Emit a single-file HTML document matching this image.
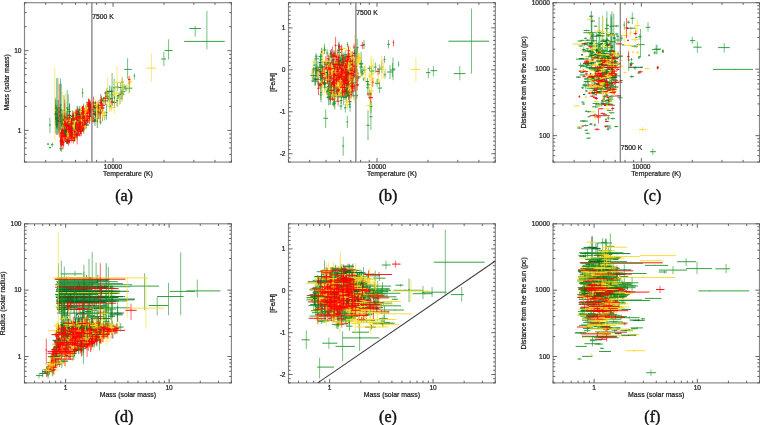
<!DOCTYPE html>
<html><head><meta charset="utf-8"><style>
html,body{margin:0;padding:0;background:#fff;}
svg{display:block;}
text{font-family:"Liberation Sans", sans-serif;fill:#1a1a1a;stroke:#1a1a1a;stroke-width:0.22px;}
text.cap{font-family:"Liberation Serif", serif;fill:#111;stroke:#111;stroke-width:0.45px;}
.g{stroke:#1f962c}
.G{stroke:#00681e}
.y{stroke:#ffd820}
.r{stroke:#ff0000}
.h{stroke-width:0.9px}
.v{stroke-width:0.6px}
</style></head><body>
<svg width="760" height="425" viewBox="0 0 760 425">
<defs><clipPath id="ca"><rect x="24.5" y="2.7" width="206.90" height="159.40"/></clipPath><clipPath id="cb"><rect x="288.5" y="2.7" width="206.80" height="159.40"/></clipPath><clipPath id="cc"><rect x="553.0" y="2.7" width="206.50" height="159.40"/></clipPath><clipPath id="cd"><rect x="24.5" y="223.8" width="206.90" height="159.10"/></clipPath><clipPath id="ce"><rect x="288.5" y="223.8" width="206.80" height="159.10"/></clipPath><clipPath id="cf"><rect x="553.0" y="223.8" width="206.50" height="159.10"/></clipPath></defs><g clip-path="url(#ca)" fill="none"><path class="g h" d="M81.5 111.2h2.7M79.6 129.1h5.6M80.6 116.2h2.4M74.2 128.9h2.1M65.6 120.8h3.0M76.0 125.9h2.6M101.1 108.2h2.7M118.8 87.5h3.6M89.2 111.6h5.2M110.6 91.2h2.1M91.5 118.2h2.9M76.2 134.1h1.7M83.2 116.7h1.6M87.9 104.8h1.9M83.8 112.1h1.2M85.3 105.8h3.1M76.5 117.4h2.0M81.4 127.5h2.3M90.7 105.7h5.3M127.2 88.2h5.1M76.0 111.7h2.1M102.7 98.7h1.7M84.7 120.2h1.2M103.1 115.5h3.5M82.0 129.8h2.5M121.0 82.2h2.8M87.6 105.2h2.8M72.2 115.1h3.5M81.5 126.5h2.5M62.8 120.4h3.3M91.3 119.0h2.7M99.1 122.1h2.5M63.5 112.0h2.4M63.5 126.3h2.4M67.0 109.6h2.4M55.8 122.8h2.4M66.2 119.3h2.4M55.0 118.9h2.4M68.2 114.9h2.4"/><path class="g v" d="M82.9 106.0v8.7M82.0 126.8v4.4M81.7 114.5v3.7M75.2 125.9v6.9M67.0 118.6v4.5M77.5 123.7v4.2M102.5 97.7v23.5M120.7 82.9v10.4M91.8 105.7v12.8M111.6 86.9v7.3M93.0 115.3v6.5M77.0 133.2v2.1M84.0 115.2v2.9M88.8 102.5v4.0M84.5 109.8v4.0M86.7 101.6v7.5M77.4 114.3v5.6M82.7 125.2v4.0M93.2 101.8v8.3M129.4 82.4v10.4M77.2 105.8v10.6M103.6 97.0v3.4M85.3 113.8v10.8M104.8 111.3v9.0M83.3 127.6v4.6M122.2 77.6v8.8M88.9 99.2v12.8M73.8 112.6v5.2M82.9 122.9v8.1M64.7 115.0v11.0M92.7 116.1v6.4M100.5 119.9v4.9M64.7 103.0v14.4M64.7 116.4v15.9M68.2 94.4v24.3M57.0 113.3v15.1M67.4 106.9v19.8M56.2 106.1v20.5M69.4 104.0v17.5"/><path class="G h" d="M76.6 116.3h0.6M79.1 129.7h2.0M59.7 142.0h2.5M116.9 95.8h3.4M61.5 120.9h2.2M62.5 126.1h3.0M77.8 124.8h0.8M83.5 117.2h1.3M64.9 120.3h1.9M73.7 138.1h1.2M64.5 129.9h2.2M74.1 118.4h3.1M71.6 122.5h1.6M58.0 121.6h2.4M62.9 120.9h2.4M63.1 126.7h2.4M68.4 111.7h2.4M55.4 124.7h2.4"/><path class="G v" d="M77.0 113.9v5.5M80.2 125.8v7.1M60.8 139.0v6.2M118.7 93.3v4.8M62.6 119.9v2.1M64.1 123.3v5.3M78.2 123.4v3.1M84.1 115.1v4.5M65.9 117.8v4.5M74.3 134.5v7.0M65.5 127.9v3.8M75.8 115.1v6.8M72.3 119.5v5.4M59.2 106.9v23.4M64.1 109.5v18.2M64.3 113.4v21.1M69.6 103.2v13.6M56.6 118.1v10.7"/><path class="y h" d="M75.5 130.8h2.7M92.8 102.7h5.0M86.9 107.4h5.4M73.4 138.8h2.3M109.3 107.8h4.3M63.4 125.7h1.3M121.3 83.1h1.6M62.4 124.4h1.1M64.5 132.6h4.8M74.6 130.7h1.1M129.2 81.7h2.9M74.6 121.1h3.7M94.2 103.8h2.3M101.4 101.9h2.9M58.7 130.8h2.4"/><path class="y v" d="M76.9 129.0v3.5M95.4 99.1v6.4M89.8 99.6v17.3M74.6 135.7v5.5M111.4 104.2v6.3M64.1 123.7v4.5M122.0 75.6v13.7M63.0 123.4v2.0M67.1 130.5v4.4M75.2 120.8v16.8M130.6 79.1v5.3M76.3 118.6v5.0M95.5 100.9v6.4M103.0 99.9v4.2M59.9 120.4v16.6"/><path class="r h" d="M63.6 113.0h2.4M59.2 116.2h2.4M60.4 121.9h2.4"/><path class="r v" d="M64.8 99.4v21.7M60.4 108.9v11.7M61.6 113.4v13.5"/><path class="g h" d="M54.2 113.7h2.4M59.5 115.3h2.4M55.6 115.3h2.4M83.2 107.2h0.9M110.6 101.3h3.1M98.4 104.9h3.3M69.4 126.6h2.0M64.3 128.1h1.1M61.2 122.9h2.4M93.4 105.4h2.1M99.9 105.4h2.0M71.8 137.5h2.4M85.0 120.4h4.1M71.0 116.5h2.6M76.5 110.9h1.6M65.7 141.6h2.0M105.5 112.6h1.9"/><path class="g v" d="M55.4 97.8v25.4M60.7 104.6v17.2M56.8 105.1v16.3M83.6 103.6v7.9M112.3 97.2v8.9M100.2 99.9v9.9M70.3 123.6v6.6M65.0 125.9v4.2M62.2 120.8v3.8M94.4 103.1v4.6M101.0 99.4v12.5M73.2 136.9v1.5M86.9 118.8v3.6M72.3 110.1v10.9M77.4 106.5v9.5M66.7 138.8v5.2M106.5 103.9v15.7"/><path class="G h" d="M54.4 114.2h2.4M56.5 120.4h2.4M70.8 127.5h3.1M64.4 118.4h3.2M64.4 129.6h3.3M80.9 125.4h3.0M71.7 128.6h5.8M65.9 120.0h2.5M81.6 118.7h2.5M89.5 115.5h1.2M67.1 123.5h4.8M69.3 135.7h1.8M108.2 99.0h2.5M61.4 121.3h2.4"/><path class="G v" d="M55.6 104.6v15.4M57.7 108.7v18.8M72.4 126.6v1.9M66.1 113.4v10.3M66.3 124.3v9.6M82.6 119.3v12.5M74.4 126.9v3.3M67.0 117.6v4.3M82.7 116.8v4.0M90.1 114.3v2.2M69.2 117.1v13.8M70.2 132.9v5.7M109.4 96.1v6.1M62.6 118.8v4.8"/><path class="y h" d="M115.8 102.9h1.8M73.2 119.9h1.8M90.5 110.7h3.2M63.7 125.0h3.3M81.4 111.6h2.4M75.8 114.9h3.4M82.3 113.2h2.6M76.8 117.5h2.1M68.7 127.7h2.1M105.3 92.2h3.0M126.1 87.8h2.0M110.5 104.8h1.5M61.4 120.4h1.4M64.2 127.4h2.3"/><path class="y v" d="M116.8 99.4v6.6M74.1 116.1v7.0M92.2 109.7v1.7M65.5 118.1v14.7M82.6 108.6v6.4M77.4 112.8v4.0M83.4 110.4v6.2M77.9 114.9v5.5M69.7 124.7v5.4M106.8 87.3v9.8M127.1 84.8v6.1M111.3 97.8v13.7M62.1 117.5v5.4M65.2 125.0v4.8"/><path class="r h" d="M64.9 118.9h2.4M73.2 137.7h2.7M97.4 109.1h2.8M70.7 135.4h2.1M75.2 112.9h1.6M83.8 120.2h2.9M87.5 118.0h1.6M74.6 119.2h3.1M70.6 123.4h2.0M98.6 113.4h2.5M75.6 135.6h1.9M76.9 119.1h1.5M89.9 108.7h2.3M60.0 132.9h3.2M67.3 130.5h3.7M88.1 110.7h1.6M85.9 106.1h2.1M81.5 122.8h1.7M60.5 143.0h1.9M79.8 114.8h1.5M83.8 119.2h1.9M77.2 118.0h3.3M68.9 141.6h1.1M92.3 120.2h3.1M99.9 100.3h3.1M76.6 126.7h4.6M89.4 112.5h1.2M92.1 102.8h3.0M84.9 110.7h1.6M71.8 132.5h3.2M78.1 132.9h3.6"/><path class="r v" d="M66.1 110.7v13.0M74.6 135.7v4.4M98.8 106.3v6.2M71.8 132.6v6.3M75.9 110.1v5.3M85.2 116.6v6.7M88.2 114.5v7.0M76.2 116.0v5.7M71.6 118.7v10.0M100.1 106.3v14.3M76.7 133.5v3.7M77.7 117.0v4.3M91.0 106.9v3.9M61.6 131.3v2.9M69.1 127.9v5.3M88.8 108.5v4.8M87.0 104.3v3.1M82.2 120.8v4.6M61.5 140.0v6.1M80.6 111.8v5.1M84.8 116.2v6.6M78.7 115.4v5.4M69.5 139.7v3.7M94.1 117.7v4.9M101.3 98.0v5.3M78.7 119.1v16.6M90.2 110.7v3.3M93.5 96.5v11.6M85.6 107.4v5.7M73.3 126.7v13.1M79.9 128.0v8.7"/><path class="g h" d="M85.1 113.1h2.9M112.9 87.8h2.1M92.1 114.2h3.7M119.9 94.3h4.0M104.0 93.1h5.1M108.7 106.1h2.5M65.5 119.0h4.8M71.2 121.6h2.6M94.5 107.4h1.6M71.8 118.3h3.0M184.1 41.4h40.6M189.3 28.5h11.6M164.7 50.5h7.8M161.3 59.0h4.7M124.1 69.4h7.7M133.6 75.9h1.6M111.0 91.2h2.5M122.0 87.0h4.0M124.5 88.8h3.0M121.0 91.8h4.0M117.0 98.2h6.0M99.5 100.0h2.0M81.8 92.8h1.6M55.5 110.0h2.5M56.5 108.0h3.0M59.5 105.0h2.0M66.0 108.0h2.5M63.0 113.0h2.0M49.0 125.0h2.0M47.0 144.1h2.2M48.8 147.6h2.2M51.0 144.7h2.4M59.5 148.8h4.0M89.1 111.4h3.0M115.0 87.1h4.2"/><path class="g v" d="M86.4 111.1v3.9M114.1 78.5v20.4M94.3 112.1v4.0M121.9 88.5v12.1M106.9 88.4v9.1M109.9 103.0v5.6M67.9 113.2v10.5M72.3 119.5v4.7M95.3 101.4v10.4M73.1 115.4v5.5M206.9 10.9v38.3M195.2 26.0v10.5M168.6 39.3v20.2M163.9 51.8v14.2M127.6 58.2v20.6M134.4 73.5v5.9M112.1 73.0v27.0M124.1 84.0v6.5M125.9 85.0v7.0M122.9 88.0v7.5M120.0 92.0v12.0M100.6 94.0v13.0M82.6 88.1v9.4M56.7 78.1v56.9M57.9 78.1v56.9M60.5 78.7v51.3M67.2 89.9v35.1M64.0 95.2v34.8M49.9 117.6v15.4M48.1 143.0v2.2M49.9 146.5v2.2M52.2 142.5v4.5M61.6 145.3v6.5M90.5 110.3v2.3M117.5 82.3v8.5"/><path class="G h" d="M71.8 133.1h2.9M81.3 113.8h3.7M96.4 118.6h2.1M60.0 110.0h2.5M55.0 118.0h1.8M57.3 118.0h1.7"/><path class="G v" d="M73.2 131.7v2.4M83.3 110.7v6.0M97.3 109.6v18.4M61.1 83.4v51.6M55.8 100.0v33.5M58.1 100.0v33.5"/><path class="y h" d="M97.0 108.7h2.5M85.7 113.8h3.3M100.9 109.0h2.0M76.5 113.9h2.4M78.5 114.7h2.7M65.0 134.5h4.2M121.6 85.3h2.6M82.6 113.0h2.4M104.5 97.7h2.9M117.9 98.2h3.0M73.5 122.6h1.9M72.7 126.5h1.5M104.1 97.9h3.1M146.5 68.2h9.4M113.0 82.4h8.2M107.0 92.0h1.2M53.5 110.0h2.5M61.5 112.0h2.5M64.0 112.0h2.5M73.0 111.9h4.6M69.4 121.9h3.8"/><path class="y v" d="M98.1 105.5v6.3M87.2 109.1v8.8M102.0 107.1v3.9M77.7 110.3v6.8M79.8 112.2v5.0M67.1 132.0v5.4M123.1 81.7v7.3M83.6 111.9v2.1M105.8 92.2v10.2M119.3 91.0v14.6M74.4 118.5v8.9M73.6 124.1v5.0M105.6 94.3v7.7M151.4 53.5v28.3M117.0 65.9v29.4M107.6 77.6v29.4M54.8 67.3v72.7M62.8 91.6v38.4M65.2 93.4v36.6M75.6 110.2v3.7M71.3 120.9v1.9"/><path class="r h" d="M60.0 133.7h3.5M87.8 116.4h2.2M65.7 134.2h4.4M67.3 138.4h1.8M88.3 116.6h3.5M83.6 127.9h2.1M91.3 109.2h2.2M89.2 104.6h1.6M62.6 124.2h1.8M63.1 137.7h1.8M94.8 115.0h1.6M85.5 114.8h3.3M71.5 136.6h2.1M66.7 123.1h0.8"/><path class="r v" d="M61.6 130.6v7.2M88.8 115.1v2.6M67.9 129.4v10.5M68.4 135.9v5.8M89.8 114.2v5.3M84.6 126.4v3.5M92.5 106.8v5.4M90.0 101.9v6.3M63.5 115.2v19.2M64.2 135.2v5.0M95.5 111.4v8.0M87.0 110.1v8.1M72.6 133.0v6.5M67.1 118.4v10.4"/><path class="g h" d="M85.4 110.6h2.4M116.0 100.6h2.2M78.2 111.6h1.2M73.9 122.2h1.7M67.3 123.6h2.2M79.7 119.5h2.1M71.1 118.6h2.0M77.5 111.3h5.7M83.1 129.5h1.3M64.0 118.3h2.8M84.5 113.7h2.8M64.6 135.6h2.4M94.2 119.9h1.8M73.2 136.2h2.6M59.8 119.8h5.8M76.5 113.4h3.2M74.9 120.8h2.2M79.4 130.5h1.5M69.4 138.2h2.4"/><path class="g v" d="M86.4 106.6v6.8M117.2 95.2v11.6M78.9 108.9v6.3M74.8 115.6v13.5M68.4 119.7v7.2M80.7 116.7v5.4M72.1 115.2v7.6M80.3 108.3v5.8M83.7 125.6v8.0M65.4 116.0v4.6M85.9 110.4v5.9M65.8 132.5v6.3M95.0 117.7v4.1M74.5 134.3v3.6M62.4 113.8v12.0M78.2 111.1v5.3M76.0 117.7v6.5M80.3 128.4v4.5M70.5 135.8v4.2"/><path class="G h" d="M89.5 110.4h2.7M82.4 123.1h2.6M61.1 132.1h2.0M92.6 121.0h5.3M93.3 114.3h4.0M74.2 127.1h1.5M68.8 119.4h3.3M76.2 122.8h4.0M83.8 120.9h4.1"/><path class="G v" d="M91.0 103.7v12.5M83.9 121.6v3.1M62.1 129.3v4.8M95.0 116.5v9.3M95.5 111.0v7.2M74.9 123.9v5.8M70.3 117.1v5.2M78.4 117.7v11.6M86.0 116.3v9.4"/><path class="y h" d="M100.7 113.5h4.4M86.7 110.9h1.0M77.0 123.8h2.0M68.2 122.6h3.1M65.5 125.6h1.4M83.0 113.9h2.4M111.7 95.2h3.9M79.2 126.8h1.4M81.4 121.0h5.1M83.2 128.7h1.7M92.0 118.1h8.9M74.8 121.5h4.9M66.3 132.6h2.3M80.3 118.8h5.6M65.1 135.8h3.0M79.8 131.4h1.5M63.0 122.2h2.1"/><path class="y v" d="M102.8 107.5v10.7M87.3 109.6v2.6M77.9 117.3v12.1M69.6 120.8v3.5M66.2 122.2v7.0M84.2 108.4v11.6M113.5 92.3v5.1M80.0 124.5v4.0M84.3 118.5v5.4M84.2 123.4v9.3M96.5 113.3v10.5M77.0 118.5v5.4M67.5 132.1v1.2M82.9 114.4v9.5M66.8 134.1v3.4M80.5 128.6v5.6M64.1 119.9v4.4"/><path class="r h" d="M74.6 123.7h3.0M80.0 124.2h2.0M87.4 110.0h3.0M78.1 114.1h1.9M65.8 122.4h1.7M78.5 115.2h2.4M75.2 127.2h2.1M75.6 124.0h3.3M88.1 105.3h1.1M60.4 135.8h3.5M61.4 130.8h2.9M65.8 123.1h1.5M93.4 106.7h3.6M82.2 113.3h4.3M88.6 120.1h2.3M73.6 139.2h1.9M64.8 131.7h3.3M97.3 111.8h4.3M64.5 134.0h2.8M84.3 112.3h4.5M69.8 123.1h1.6M60.2 144.4h2.4M71.6 130.6h2.4M66.3 137.4h1.7M81.7 108.8h3.1M68.1 128.5h4.3M65.3 130.2h2.3M79.1 121.5h2.2M68.3 123.3h1.4M65.9 120.6h2.9M87.3 120.3h2.6"/><path class="r v" d="M76.2 122.0v3.1M81.1 121.1v6.6M89.1 107.3v5.7M79.2 110.5v7.3M66.8 119.8v5.1M79.8 112.9v4.9M76.2 120.9v11.6M77.2 122.2v3.8M88.7 102.6v5.7M62.4 133.4v4.9M62.8 127.8v5.3M66.6 118.8v8.6M95.0 104.4v5.1M84.2 111.6v3.1M89.6 115.8v8.2M74.5 137.4v3.5M66.5 128.8v6.1M99.1 107.4v8.4M65.8 128.7v10.9M86.6 108.5v8.6M70.6 120.8v4.3M61.3 142.5v4.0M72.7 127.2v7.8M67.3 135.6v3.0M83.5 106.5v4.2M70.2 123.2v10.6M66.7 127.7v5.4M80.0 115.7v11.0M68.9 119.3v8.1M67.2 116.5v9.1M88.4 118.0v5.1"/><path class="g h" d="M81.2 117.5h1.5M68.5 121.2h3.4M91.1 108.4h3.8M92.5 108.6h2.3M97.5 109.1h1.9M66.2 124.0h5.5M105.6 96.2h4.4M100.4 100.9h8.0M71.6 115.8h3.0M66.1 134.1h2.8M110.5 94.9h2.7M60.1 123.4h3.1M61.2 130.1h2.2M60.5 120.7h2.6M60.5 128.1h3.0"/><path class="g v" d="M82.0 115.4v5.0M70.3 116.2v10.8M93.2 104.7v6.6M93.6 106.1v5.5M98.5 104.0v9.5M68.7 120.7v6.0M107.9 91.3v10.0M104.0 96.7v9.7M73.0 112.8v6.4M67.6 130.8v7.1M111.8 91.7v5.8M61.6 120.9v4.5M62.4 126.6v7.9M62.0 110.4v20.4M62.0 126.2v3.9"/><path class="G h" d="M67.3 124.9h4.1M119.6 94.3h4.8M69.3 134.1h2.5M73.6 126.1h2.8M78.1 109.8h2.4M93.6 107.4h3.5M70.0 132.5h3.5M73.0 140.3h2.8M66.7 141.7h1.9"/><path class="G v" d="M69.2 118.4v13.4M122.2 90.5v6.7M70.6 131.7v4.3M75.0 122.0v7.2M79.3 106.3v6.7M95.4 101.6v12.7M71.6 130.5v4.3M74.2 139.3v1.9M67.6 138.8v5.4"/><path class="y h" d="M81.8 116.6h2.0M76.1 126.1h3.9M84.1 117.0h3.3M71.1 128.7h2.1M81.6 116.8h2.2M112.9 92.8h5.5M73.6 112.5h4.6M66.4 136.5h2.7M87.2 114.8h1.6M86.8 118.9h3.7M60.8 128.0h2.5M71.8 122.6h3.6M79.5 118.9h1.8M76.6 117.3h3.8M68.3 136.3h2.2M101.9 115.9h4.0"/><path class="y v" d="M82.7 112.5v7.1M78.3 123.9v4.0M85.8 114.5v5.0M72.1 123.4v10.1M82.7 114.5v4.2M115.4 86.2v11.8M75.9 110.4v4.2M67.7 131.4v10.4M88.0 108.5v14.0M88.9 117.5v3.0M61.9 126.3v3.6M73.5 120.3v4.4M80.4 116.8v4.6M78.7 113.9v7.6M69.5 133.5v5.3M104.2 111.2v8.1"/><path class="r h" d="M91.9 120.4h1.7M71.0 130.4h1.9M61.4 132.0h1.2M62.3 141.6h2.0M68.6 133.6h1.2M110.2 102.2h4.1M62.5 134.9h1.8M61.3 135.8h3.0M71.8 115.9h2.3M85.9 116.1h1.3M81.0 110.7h2.9M70.1 129.1h1.3M89.1 111.8h2.0M60.4 138.5h2.2M79.8 129.7h2.0M70.2 131.6h1.4M67.7 140.5h3.4M68.0 115.6h3.1M75.6 120.1h1.9M72.9 122.4h2.6M82.6 122.3h1.5M62.0 141.0h2.3M81.3 108.0h2.3M72.6 137.4h1.1M75.0 127.4h3.3M66.6 126.7h3.6M82.4 117.1h2.8M72.2 123.4h1.8M75.5 135.4h2.9M88.2 105.4h2.2M86.5 104.9h2.5M79.0 128.0h1.1M75.7 115.6h2.1M71.6 133.8h1.9M60.1 139.9h5.6"/><path class="r v" d="M92.9 118.1v4.1M72.0 122.3v14.3M62.1 128.5v7.9M63.3 137.5v8.5M69.3 128.3v10.1M112.0 99.3v5.3M63.5 132.6v4.2M62.6 131.2v8.9M73.0 111.4v9.0M86.5 110.5v10.3M82.5 106.5v8.0M70.7 125.2v7.2M90.3 107.0v8.7M61.7 135.3v7.0M80.7 126.3v7.6M70.8 127.5v9.1M69.4 139.0v3.5M69.4 114.3v2.4M76.6 118.5v3.0M74.2 120.0v4.9M83.4 118.8v7.2M63.1 134.5v13.8M82.4 106.2v3.7M73.2 134.5v5.9M76.7 126.0v3.1M68.2 121.0v10.9M83.6 116.0v2.2M73.3 121.4v3.9M77.0 132.0v7.5M89.3 99.4v10.7M87.6 103.3v3.6M79.5 124.5v6.5M76.9 110.9v8.6M72.5 132.0v4.1M62.9 137.5v5.0"/><path class="g h" d="M97.6 107.5h2.7M63.5 128.4h1.8M75.6 114.4h3.2M98.6 105.3h3.9M93.6 111.7h2.7M71.4 120.7h1.8M80.4 125.8h1.2M71.6 129.3h3.1M81.9 128.6h2.1M70.7 132.9h1.2M96.6 107.7h3.6M94.7 106.3h2.1M69.0 126.6h3.3"/><path class="g v" d="M99.0 103.6v7.0M64.5 124.9v5.9M77.3 111.1v7.4M100.4 102.8v5.7M94.9 107.8v7.0M72.4 118.7v4.3M81.1 124.3v3.2M73.4 126.8v4.5M83.1 126.2v5.1M71.3 131.3v3.1M98.6 104.7v6.0M95.8 103.3v7.0M70.7 124.4v3.8"/><path class="G h" d="M69.6 124.1h1.5M75.1 127.0h1.8M64.4 136.0h1.7M113.2 102.6h2.8M81.8 112.3h2.8M63.4 133.7h2.7M72.6 132.9h2.6"/><path class="G v" d="M70.4 122.8v2.9M76.1 124.4v4.8M65.2 133.5v4.3M114.5 96.4v11.6M83.3 110.1v4.0M64.7 130.1v8.0M73.7 130.3v5.3"/><path class="y h" d="M59.4 137.8h8.2M69.5 133.8h1.8M91.3 104.7h5.5M71.5 139.5h3.1M76.7 121.8h1.4M85.4 110.6h2.0M65.4 121.3h2.6M79.1 129.4h1.5M77.6 123.8h1.7M82.4 123.3h2.4M79.5 115.5h1.6M68.7 137.0h5.5M72.2 131.9h2.3M98.6 104.5h2.8M85.0 114.8h2.8M80.5 128.8h1.3M112.8 107.4h3.1M79.3 118.7h4.0M74.0 136.4h3.1M98.0 117.0h2.1M81.6 114.6h3.9M64.7 124.5h2.3M95.9 111.0h1.5"/><path class="y v" d="M63.0 133.8v8.5M70.3 132.9v1.5M94.4 102.9v4.2M72.8 137.0v4.6M77.5 117.9v7.0M86.3 107.5v5.5M66.7 118.6v4.8M79.7 127.9v2.9M78.6 117.5v11.7M83.6 121.8v3.1M80.3 113.0v4.9M71.3 135.5v2.6M73.2 125.8v12.6M100.1 97.9v14.6M86.6 111.3v6.9M81.2 125.8v6.0M114.4 98.7v15.1M81.3 109.3v16.7M75.6 131.8v9.4M99.2 111.9v11.8M83.6 107.2v15.9M66.0 123.0v2.7M96.7 106.5v10.2"/><path class="r h" d="M76.1 119.3h1.8M88.8 107.1h4.0M100.6 103.5h1.8M78.9 125.4h1.2M81.1 127.1h1.8M64.8 125.8h3.8M92.3 113.6h2.7M78.3 133.7h2.6M82.4 125.7h2.8M71.1 136.9h1.8M92.3 106.3h2.9M82.9 112.7h2.0M85.0 113.2h2.2M65.5 128.0h1.9M84.6 114.8h1.8M73.5 131.7h2.2M76.5 135.9h1.5M84.6 122.2h1.4M73.1 122.0h2.8M88.7 113.8h1.8M80.8 126.7h3.6M87.9 118.5h1.9M66.2 125.6h2.2M67.9 140.4h1.6M70.4 122.9h3.3M76.4 125.9h2.6M63.0 142.5h1.5M64.9 129.5h3.3M67.9 131.7h1.6M85.2 112.4h1.2M86.3 120.5h2.5M80.0 130.2h3.0M77.7 127.6h4.1"/><path class="r v" d="M77.0 116.5v5.9M90.6 104.7v4.5M101.5 95.7v13.6M79.5 123.5v3.7M82.0 125.7v3.2M66.5 122.9v5.5M93.7 107.3v14.5M79.7 131.5v3.8M83.7 123.3v5.2M72.0 133.6v7.3M93.6 102.8v6.3M83.8 108.5v8.4M86.1 110.0v6.7M66.6 124.7v6.3M85.6 113.6v2.9M74.6 126.3v11.7M77.2 127.3v17.1M85.3 121.5v1.3M74.3 119.7v4.7M89.5 107.7v12.5M82.8 122.4v9.0M89.0 115.7v6.0M67.3 124.3v3.0M68.7 136.3v8.3M71.9 120.2v5.4M77.7 124.1v3.3M63.7 139.6v6.7M66.7 126.4v6.7M68.6 128.5v6.1M85.9 110.0v5.2M87.5 117.5v5.6M81.3 125.6v10.5M79.8 124.4v6.6"/><path class="g h" d="M109.2 98.5h3.9M65.3 134.4h2.9M99.8 110.5h1.3M97.1 111.8h3.3M74.5 118.6h1.9M76.5 133.5h1.5"/><path class="g v" d="M110.9 96.2v4.4M66.9 131.3v6.7M100.4 103.6v12.4M98.6 106.3v12.5M75.5 113.0v12.6M77.3 129.9v7.7"/><path class="G h" d="M64.4 134.2h2.2M83.8 125.0h5.4M77.2 120.6h2.2M81.8 117.5h2.5M76.0 114.4h5.2M70.1 129.0h4.1M63.1 130.4h3.4M88.7 106.8h2.3M65.1 141.7h4.3M106.9 91.3h5.1M77.6 129.2h2.6"/><path class="G v" d="M65.6 131.3v5.1M86.3 120.8v7.7M78.4 116.7v6.7M83.1 112.6v9.6M78.5 111.7v4.7M71.9 127.1v4.3M64.7 127.0v6.2M89.9 104.6v4.5M67.0 139.1v4.9M109.7 85.5v10.2M78.8 125.2v7.1"/><path class="y h" d="M88.1 119.9h5.8M83.2 119.7h1.8M66.5 133.8h2.3M73.4 123.0h2.0M73.3 121.1h2.2M120.5 94.9h3.8M85.0 109.5h2.5M74.1 114.8h1.5M73.0 126.2h1.4M67.1 137.9h2.5M127.2 84.1h2.7M79.6 119.4h2.2M100.2 112.5h4.2M62.8 121.1h2.3M85.3 105.8h2.2M71.7 121.7h3.6M67.1 120.3h2.4M97.8 110.7h2.9M80.4 120.4h0.8M84.0 114.2h3.0M90.7 108.9h3.5"/><path class="y v" d="M90.9 118.2v3.2M84.0 117.5v3.8M67.8 130.0v6.9M74.5 116.4v14.5M74.4 115.6v12.2M122.2 87.6v14.4M86.3 106.5v6.7M74.9 110.8v7.6M73.8 118.9v16.6M68.4 135.7v3.7M128.4 76.3v17.2M80.6 117.0v5.6M102.5 109.2v7.2M63.8 110.6v19.7M86.5 103.5v4.9M73.5 119.7v3.9M68.5 115.8v8.2M99.5 107.4v6.8M80.8 117.7v5.0M85.3 109.6v8.4M92.2 104.4v10.3"/><path class="r h" d="M128.0 79.4h2.4M58.5 112.0h2.0M84.1 117.1h2.9M80.9 113.2h1.8M70.4 131.0h1.9M59.7 140.9h3.0M99.4 102.4h2.4M89.1 104.6h2.0M79.0 123.5h1.9M71.4 140.3h3.5M81.6 113.1h1.5M71.0 132.5h1.9M85.3 113.2h4.0M86.5 119.3h1.5M101.0 107.9h3.5M82.2 111.4h2.8M61.0 131.8h2.7M65.0 124.7h1.9M67.2 140.7h2.4M67.2 121.3h3.1M73.2 120.5h0.8M67.4 128.3h2.5M74.5 112.9h3.5M78.1 135.0h1.7M73.1 131.1h2.9M64.1 138.8h2.1M76.3 128.7h2.1M75.9 111.1h3.0M75.7 117.8h1.3M70.4 128.0h2.1M98.7 112.9h3.2M63.2 120.0h3.1M61.2 140.2h3.1M87.8 109.6h1.9M66.1 126.6h5.3M78.0 122.8h4.6M63.1 119.7h4.0M61.6 130.3h2.2"/><path class="r v" d="M129.2 75.9v7.6M59.3 84.0v53.0M85.5 114.1v5.7M81.7 110.2v6.5M71.3 126.7v9.3M61.4 137.3v6.9M100.7 99.4v6.2M90.2 100.8v7.0M80.0 121.2v4.7M73.3 137.6v6.0M82.4 110.6v4.9M71.9 128.6v8.7M87.4 109.8v7.1M87.3 114.8v8.7M102.9 103.8v7.6M83.4 105.6v11.2M62.3 127.5v8.0M65.9 120.5v7.9M68.4 136.4v9.1M68.9 117.2v7.1M73.7 117.0v6.7M68.7 126.2v3.8M76.1 109.3v6.2M78.9 133.5v2.6M74.4 129.6v2.9M65.2 135.4v6.7M77.4 123.0v10.7M77.4 108.0v5.8M76.3 115.0v6.2M71.6 124.4v7.3M100.3 107.7v11.4M64.7 116.7v6.8M62.6 135.5v9.8M88.7 107.3v5.3M69.2 125.4v2.3M80.0 120.1v5.2M64.9 115.5v8.3M62.8 128.9v2.5"/><path class="y h" d="M69.4 122.4h1.1M79.5 111.5h2.6M82.0 126.0h4.1M62.8 138.9h1.8M95.2 106.3h4.2M78.9 132.5h1.0M73.5 121.5h2.7M99.3 106.5h2.2M64.0 120.2h2.8M75.9 127.9h2.1M69.2 120.0h1.9M81.8 127.3h1.4M95.4 109.8h3.6M91.3 108.8h1.4M84.2 112.2h2.2M108.0 102.2h2.8M74.6 120.7h2.0M82.5 126.9h4.9"/><path class="y v" d="M70.0 119.2v7.2M80.7 106.1v10.2M84.2 124.1v3.2M63.8 136.3v4.9M97.2 103.7v5.8M79.5 131.2v2.6M74.8 120.3v2.5M100.6 103.8v5.7M65.3 118.4v3.5M77.2 125.2v6.0M70.1 117.9v3.9M82.6 125.8v2.8M97.0 103.4v12.9M92.0 104.8v8.9M85.4 105.2v14.6M109.5 92.3v19.7M75.5 119.4v2.6M85.2 125.0v3.8"/><path class="r h" d="M88.9 103.9h2.4M72.4 119.2h3.9M98.3 105.3h6.5M62.6 136.5h4.2M66.4 140.2h1.9M68.3 117.9h1.5M72.7 137.6h2.7M75.1 124.9h3.7M82.9 120.4h2.6M70.1 137.0h2.3M83.3 118.5h2.1M67.6 126.0h2.6M81.9 113.0h2.1M75.0 128.0h4.9M62.1 136.4h2.3M59.7 140.9h1.9M84.0 122.5h1.3M77.3 130.1h1.7M77.5 130.7h1.6M87.5 103.3h2.7M63.6 125.8h3.5M76.9 117.4h2.3M79.7 128.0h1.5M62.8 133.3h1.2M88.0 116.3h3.3M74.9 134.6h2.3M76.1 129.8h3.8M63.7 121.2h2.3M68.1 132.2h3.8M68.0 129.1h2.7M69.5 136.2h1.1M74.5 134.4h2.9M84.4 124.1h3.3M78.2 118.2h3.5M62.9 124.1h3.9M97.4 106.3h1.5M78.9 116.7h2.0M81.3 118.6h2.9M78.4 123.2h3.2M86.8 102.6h3.4M87.7 109.2h5.6M68.2 126.8h1.8M62.0 141.9h0.8M69.9 134.2h3.9M81.8 125.2h2.4M63.1 135.4h3.5M70.4 123.2h1.8M78.7 116.6h1.2M69.1 130.5h2.9M78.5 131.3h3.6M70.8 121.5h1.5M103.1 98.2h5.4M59.9 137.3h2.2M65.5 140.9h2.8M81.5 128.1h2.9M72.5 116.4h1.2M88.4 109.5h4.4M76.8 125.1h2.6"/><path class="r v" d="M89.9 100.7v6.1M74.3 117.1v4.2M101.2 102.7v5.7M64.7 133.2v7.4M67.3 136.6v6.8M69.0 115.3v5.0M73.9 136.2v2.6M76.8 120.3v10.6M84.4 115.7v10.5M71.2 131.6v10.7M84.3 115.2v6.4M68.8 123.3v6.0M83.0 111.6v2.5M77.6 125.4v4.7M63.3 134.5v4.2M60.6 132.2v19.0M84.6 120.5v4.5M78.2 127.2v6.3M78.3 129.4v2.7M88.9 99.2v7.8M65.2 122.2v7.7M78.0 115.7v3.1M80.5 123.7v9.1M63.4 129.7v6.5M89.5 111.6v8.6M76.1 131.9v5.8M78.1 129.0v1.7M64.9 119.6v3.1M69.9 124.9v14.2M69.2 127.2v4.0M70.0 132.9v6.4M75.9 131.6v6.0M86.0 123.0v2.2M80.3 114.4v8.1M64.7 122.5v3.2M98.2 100.5v12.0M79.8 113.2v6.7M82.8 115.7v5.6M79.9 120.9v4.1M88.5 98.5v9.4M90.2 108.0v2.2M69.3 125.1v3.0M62.4 138.6v6.8M71.8 129.5v10.7M82.9 121.3v8.1M65.2 133.7v3.9M71.3 118.2v9.0M79.2 113.7v6.1M70.7 127.9v6.0M80.1 129.2v3.9M71.6 118.7v5.6M105.6 91.1v13.9M61.1 134.2v6.2M66.8 138.7v4.3M82.8 125.3v6.1M73.1 113.1v7.2M90.7 106.8v5.8M78.2 121.5v8.0"/></g><g clip-path="url(#cb)" fill="none"><path class="g h" d="M335.5 75.0h2.5M349.0 92.6h1.3M336.1 91.8h3.1M333.7 96.5h2.3M330.8 85.6h3.3M346.5 84.3h2.0M326.1 91.2h2.2M328.8 93.2h4.0M343.9 90.3h2.8M334.4 94.7h2.6M335.1 66.7h2.8M383.7 74.8h2.5M330.9 93.0h2.2M314.9 71.8h2.8M327.8 86.9h1.5M327.8 59.6h2.2M311.4 81.1h6.3M333.5 71.2h4.3M352.4 69.7h5.1M337.2 96.3h3.4M343.9 56.8h4.3M365.3 81.5h3.7M323.7 78.9h2.1M314.6 70.2h3.1M354.6 68.3h0.8M350.8 82.9h3.3M326.3 70.7h2.2M373.8 67.1h2.8M346.9 76.9h2.4M346.5 73.2h6.7M340.9 74.8h2.0M345.2 78.9h1.5M338.2 72.4h8.1M346.2 88.1h3.3M330.9 83.3h2.5M319.9 92.7h2.1M331.7 55.8h3.6M326.2 53.0h2.1M328.3 66.9h2.6M351.7 75.8h2.1M355.9 53.8h2.5M315.5 67.1h2.0M380.5 67.1h2.7M348.3 64.8h6.0M346.3 88.0h2.1M356.0 47.7h2.6M330.4 70.0h3.0M337.7 45.6h1.8M345.9 92.6h3.6M324.0 48.3h1.0M327.4 96.7h1.2M319.6 95.0h2.0M353.7 50.9h1.7M312.7 68.8h5.3M336.3 93.1h3.3M332.9 53.8h2.7M356.1 55.9h2.2M344.7 78.0h3.1"/><path class="g v" d="M337.0 70.3v8.9M349.6 88.3v9.7M337.5 84.0v17.5M334.8 93.4v6.2M332.6 83.8v3.4M347.5 81.4v6.7M327.2 86.9v7.7M330.6 91.2v3.8M345.4 83.3v12.8M335.5 91.7v5.4M336.5 62.4v9.5M385.0 70.9v7.5M332.0 87.1v12.9M316.2 67.9v8.2M328.5 83.9v5.9M328.8 54.8v10.5M314.8 76.8v9.2M335.4 67.6v7.5M355.1 64.3v10.0M339.0 93.6v4.7M346.1 54.4v5.0M367.5 78.0v7.1M324.7 77.6v2.8M316.3 67.0v7.0M354.9 65.6v5.6M352.4 79.1v6.5M327.4 67.8v6.6M375.4 62.5v10.1M347.9 70.2v14.3M350.1 69.6v6.5M341.9 71.1v7.6M346.0 76.5v4.4M341.8 66.8v10.8M347.7 84.7v6.5M332.3 80.4v6.5M321.1 83.8v18.5M333.7 50.6v11.4M327.2 49.2v7.6M329.5 63.2v8.1M352.8 70.8v9.3M357.3 46.4v16.2M316.5 61.6v11.4M381.8 60.5v12.7M351.4 61.4v5.9M347.4 83.8v7.3M357.2 38.9v19.2M332.0 68.7v2.5M338.5 43.6v4.5M347.6 90.0v5.2M324.5 43.7v7.8M328.1 93.0v6.9M320.7 88.5v11.4M354.6 47.3v6.5M315.6 66.6v4.5M338.1 92.2v2.0M334.5 50.5v7.0M357.1 54.0v4.0M346.3 73.8v9.2"/><path class="G h" d="M345.7 93.6h2.4M338.7 60.7h2.8M329.0 80.7h2.0M350.1 63.2h3.0M345.5 70.7h4.1M340.6 55.9h2.1M349.9 57.4h2.3M346.3 85.5h3.2M342.8 73.3h1.2M342.8 84.4h2.4M336.6 60.9h3.5M326.7 86.7h3.3M343.3 97.6h3.3"/><path class="G v" d="M346.8 90.7v6.2M340.0 55.8v9.0M330.1 77.3v6.3M351.8 59.4v7.6M347.7 68.7v3.9M341.7 55.3v1.3M351.0 52.0v12.1M347.7 80.7v9.6M343.6 68.4v10.5M343.8 76.4v16.8M338.5 55.7v9.4M328.6 79.7v14.3M345.1 94.2v6.0"/><path class="y h" d="M377.0 79.6h2.7M338.5 95.3h2.7M346.8 74.6h1.9M347.2 87.0h3.2M347.3 58.6h2.7M343.4 77.8h1.9M352.1 69.0h1.5M341.6 82.0h2.4M356.6 65.9h1.5M348.2 92.7h2.5M368.9 77.4h2.0M349.0 61.9h3.2M348.8 86.0h4.0M349.3 51.6h2.4M330.4 73.7h3.2M319.3 71.4h4.4M349.2 76.4h2.5M339.3 78.4h3.0M333.0 57.1h4.6"/><path class="y v" d="M378.3 73.2v12.2M339.7 92.6v5.1M347.6 70.5v7.3M348.6 82.8v8.0M348.6 53.6v10.0M344.3 72.3v12.1M352.8 64.4v10.2M342.6 78.8v6.8M357.5 63.3v5.7M349.5 90.0v5.2M369.8 70.9v11.9M350.5 52.2v21.7M351.1 84.8v2.5M350.6 46.1v10.7M331.9 68.8v8.5M321.7 67.1v9.5M350.5 75.1v2.5M340.7 75.4v5.6M335.0 56.2v2.0"/><path class="g h" d="M347.9 87.3h2.1M345.3 87.2h3.5M320.0 83.5h3.6M377.7 88.1h4.3M338.3 74.3h2.9M337.7 63.0h4.6M347.1 57.4h2.8M314.3 58.8h4.6M344.2 84.4h1.4M321.7 73.9h4.3M355.9 95.5h2.0M345.0 96.6h3.1M350.6 74.6h3.8M337.2 73.0h2.8M359.1 63.7h3.8M320.9 66.6h1.7M346.6 83.2h1.9M346.3 70.3h5.1M329.0 86.4h2.4M338.4 93.2h3.8M345.5 85.0h2.3M316.6 67.3h2.4M340.9 77.5h3.7M349.9 73.0h2.6M342.8 65.0h2.5"/><path class="g v" d="M349.1 85.4v4.1M346.9 84.0v5.9M321.6 78.4v9.4M379.6 82.3v10.8M339.9 71.1v5.4M340.4 57.1v10.2M348.3 54.6v5.2M316.4 54.8v7.2M345.0 82.9v3.1M323.6 71.1v5.2M356.8 92.8v6.0M346.5 91.7v11.0M352.4 71.5v5.4M338.4 68.4v9.6M361.3 60.1v7.2M321.6 64.3v4.3M347.5 81.4v3.7M349.1 61.0v20.6M330.3 84.3v3.4M340.2 91.0v4.8M346.8 79.3v11.6M317.8 61.1v13.5M342.6 73.3v8.2M351.2 70.2v6.4M344.1 60.9v8.1"/><path class="G h" d="M334.1 69.5h4.6M343.0 69.3h5.8M355.3 71.1h2.1M349.3 60.4h3.7M355.5 76.9h5.1M333.3 84.2h3.4M340.6 81.6h3.1M355.0 68.7h1.9"/><path class="G v" d="M336.4 67.3v4.6M345.7 63.2v12.4M356.2 66.3v9.9M351.0 58.2v4.5M357.9 72.4v8.6M335.2 78.7v9.9M342.3 79.3v4.4M356.1 65.2v6.4"/><path class="y h" d="M343.9 63.7h1.5M370.3 91.0h3.4M312.0 72.3h2.4M356.4 62.5h2.3M332.9 79.6h1.6M376.2 81.0h4.5M342.6 58.1h2.0M342.4 92.4h1.7M335.4 63.4h9.9M329.3 82.5h2.2M325.4 70.6h3.4M322.8 69.9h4.3M337.6 83.0h2.7M339.5 48.5h7.0M360.8 70.5h2.7M350.4 88.5h2.1M360.3 72.2h1.6M347.6 76.0h5.4M323.2 83.3h1.3M345.9 95.1h5.6M314.9 78.6h2.8M333.8 54.6h1.9M352.7 76.5h3.9M333.0 66.6h5.1M328.1 68.2h3.8M347.3 77.7h2.0M332.2 84.5h3.3"/><path class="y v" d="M344.6 60.7v6.9M371.9 83.3v13.4M313.2 65.4v13.0M357.5 59.9v4.8M333.7 77.6v4.5M378.3 78.2v5.4M343.7 54.5v6.5M343.3 89.0v7.5M340.1 60.1v5.9M330.6 80.2v5.3M326.9 69.4v2.1M324.8 65.4v8.3M339.2 78.5v8.6M342.6 45.6v6.0M362.2 66.6v8.1M351.4 82.7v11.3M361.2 66.9v9.0M350.3 73.9v4.8M323.9 79.2v7.4M348.3 89.2v10.4M316.4 76.7v3.8M334.9 50.8v7.5M354.8 74.0v5.1M335.5 63.0v6.7M329.7 65.9v4.5M348.5 75.5v5.0M333.7 78.3v11.4"/><path class="r h" d="M347.7 101.6h3.8M346.3 92.0h5.9M334.0 85.8h3.3M349.7 69.7h2.8M351.1 88.1h3.7M334.0 70.9h2.2M341.3 63.3h3.5M335.5 59.8h2.0M354.9 73.9h2.6M341.1 92.3h1.9M327.7 88.1h1.3M338.2 65.7h2.0M355.4 60.1h2.5M345.1 71.4h2.3M328.5 74.8h3.0M337.8 77.3h2.4M334.2 64.7h2.2M351.1 55.4h3.2M345.4 63.9h2.9M323.8 75.4h2.6M342.9 61.7h2.4M351.9 91.0h2.4M321.0 77.6h3.1M352.0 63.2h2.7M355.7 81.0h1.2M347.1 73.6h2.9M371.4 82.2h2.6M330.4 63.4h1.8M342.8 57.6h1.3M334.9 68.9h6.0"/><path class="r v" d="M349.4 100.4v2.4M349.4 85.2v14.9M335.9 81.6v7.8M351.2 67.0v5.6M352.8 84.1v7.5M335.0 66.6v9.1M343.1 57.3v10.7M336.4 54.5v12.0M356.0 68.5v9.4M342.2 88.5v7.5M328.5 85.2v6.7M339.1 62.9v5.8M356.8 56.2v8.6M346.4 68.0v7.2M330.0 69.8v8.7M339.0 73.3v8.3M335.2 61.5v7.2M352.6 51.4v7.4M346.9 60.1v7.0M325.0 72.5v5.6M344.0 58.0v8.2M353.0 86.6v9.1M322.6 74.0v6.5M353.2 58.1v11.6M356.4 77.3v6.3M348.7 70.6v5.7M372.7 77.8v9.0M331.3 60.8v4.8M343.5 54.6v6.8M337.6 65.4v7.8"/><path class="g h" d="M366.2 87.8h3.4M319.4 77.3h2.3M366.3 84.8h3.9M367.6 68.4h3.7M346.3 76.7h1.7M339.8 100.5h2.5M340.9 97.1h4.6M343.8 88.6h2.6M327.7 84.3h3.0M312.9 65.1h3.8M324.7 75.5h5.4M338.8 67.6h8.7M323.4 118.3h4.5M346.3 121.9h2.0M342.2 146.0h2.0M366.5 125.3h3.0M369.5 116.8h3.0M448.5 41.2h40.5M453.8 73.6h11.6M426.0 72.6h4.5M430.6 70.7h6.6M392.0 68.9h3.4M398.0 64.1h1.2M387.0 44.3h3.0M383.5 59.4h2.0M363.0 44.4h2.0M387.0 72.0h6.0M390.0 70.0h5.0M369.5 106.7h3.0M319.0 65.1h2.9M321.2 78.7h2.6M338.2 86.9h2.9"/><path class="g v" d="M367.8 82.3v10.7M320.5 74.4v6.4M368.0 81.6v6.8M369.5 65.9v5.1M347.2 73.2v6.8M341.2 97.0v7.1M343.6 89.7v15.4M345.3 85.5v6.8M329.1 81.8v4.5M315.0 59.5v11.8M327.1 73.0v5.7M343.9 61.9v10.9M325.7 109.3v18.8M347.3 115.9v12.2M343.2 136.6v19.2M368.0 110.2v30.2M370.9 100.8v29.2M471.5 8.6v65.0M459.8 66.0v14.2M428.3 67.9v10.4M433.4 66.0v10.4M393.0 57.6v22.6M398.6 61.3v5.7M388.5 40.0v8.5M384.5 56.0v7.0M364.0 40.0v9.0M390.0 65.0v14.0M392.5 63.0v14.0M371.0 101.0v12.0M320.6 53.2v22.1M322.4 75.7v6.6M339.5 81.7v11.8"/><path class="G h" d="M333.1 78.6h2.9M338.2 48.2h1.2M342.5 83.6h3.9M331.9 74.9h2.6M347.7 78.8h2.8M311.1 75.6h5.3M343.8 77.3h2.4M318.7 62.6h2.8M326.0 92.1h4.6M326.0 77.2h2.4"/><path class="G v" d="M334.4 76.5v4.3M338.9 41.6v14.9M344.4 77.4v12.1M333.1 72.8v4.7M349.1 77.5v2.9M313.7 67.1v14.6M344.9 71.2v14.0M320.1 59.1v6.2M328.3 86.9v11.5M327.4 71.6v10.4"/><path class="y h" d="M348.9 88.2h2.7M351.7 83.6h4.8M326.5 87.2h6.3M330.4 87.4h1.9M370.1 80.0h2.5M358.3 58.2h2.9M328.1 96.3h1.9M372.4 65.7h2.1M350.4 74.5h2.9M337.1 88.6h4.1M343.0 73.7h2.8M338.3 65.7h1.5M322.5 62.5h6.0M329.8 66.4h2.9M344.0 86.5h3.8M321.9 70.5h2.4M355.1 91.7h2.5M344.9 71.9h3.5M350.2 78.3h4.7M371.9 78.4h2.6M346.0 104.8h2.6M330.9 84.7h2.9M367.0 105.5h6.0M410.8 69.4h9.8M380.5 67.0h2.5M381.3 69.6h5.1M347.5 80.7h3.0M329.9 68.1h4.0M330.9 64.1h4.0M331.6 78.5h5.9M342.0 94.6h4.9"/><path class="y v" d="M350.4 84.6v8.1M354.2 78.3v11.4M329.5 83.8v6.2M331.3 83.2v8.7M371.4 59.0v41.2M359.7 53.2v11.0M329.0 89.7v11.3M373.6 58.5v16.0M351.9 71.9v5.2M339.4 85.7v5.4M344.3 72.1v3.3M339.2 63.3v4.9M325.4 59.4v6.0M331.2 65.3v2.2M346.0 83.8v5.9M322.9 68.5v4.2M356.2 87.2v9.2M346.8 69.8v4.2M352.9 69.5v20.2M373.1 69.6v16.8M347.4 100.1v9.3M332.2 82.5v4.5M369.9 98.0v14.0M415.9 57.6v24.4M381.7 56.0v23.0M383.7 59.7v18.9M349.1 79.3v2.8M332.1 65.6v5.7M332.9 62.0v4.6M334.7 75.9v5.7M344.5 92.5v4.2"/><path class="r h" d="M329.9 96.3h1.5M332.8 74.6h2.0M344.9 65.9h2.3M317.1 78.8h1.8M318.9 75.6h4.0M329.7 77.3h1.5M335.3 89.0h3.5M341.5 64.6h2.9M333.1 80.6h2.1M354.3 90.2h2.1M343.6 67.4h3.7M338.7 68.6h2.8M336.4 90.3h2.7M355.0 85.1h3.7M354.3 76.5h3.3M336.8 74.5h1.8M324.2 61.9h3.6"/><path class="r v" d="M330.7 94.4v4.1M333.9 71.1v6.0M346.1 63.7v4.4M318.1 74.0v10.8M320.8 70.7v9.8M330.4 75.0v4.0M336.9 84.1v9.1M342.9 61.0v7.3M334.2 66.1v28.1M355.3 88.0v4.1M345.6 63.1v9.7M340.2 65.9v5.5M337.6 86.2v8.9M356.7 83.2v4.1M355.8 72.6v7.6M337.8 73.1v3.0M325.9 55.9v10.3"/><path class="g h" d="M350.8 95.8h6.3M337.1 68.1h2.4M353.9 70.5h3.5M333.1 101.6h2.7M347.5 95.3h1.5M339.2 96.9h5.4M340.9 59.6h4.0M335.3 91.7h2.6M337.4 50.4h2.7M353.9 65.5h1.8M338.1 64.5h1.3M337.4 52.5h3.6M343.4 57.2h2.7M341.0 62.2h2.5M321.0 82.6h6.4M314.7 79.5h5.0M315.2 73.0h3.0M336.1 61.1h4.7M330.4 73.2h3.3M328.9 76.8h3.0M362.8 70.1h2.6M328.2 91.4h4.0M348.9 78.4h3.2M336.3 72.2h5.0M310.4 75.5h3.6M331.7 84.7h2.1M319.7 79.3h3.9M361.4 71.8h1.6M341.0 55.4h3.2M334.0 69.4h3.8M340.1 64.5h2.8"/><path class="g v" d="M353.8 93.5v5.1M338.2 65.6v4.8M355.8 67.2v6.6M334.3 98.1v5.9M348.4 93.5v3.9M341.6 93.4v7.6M343.0 56.9v5.6M336.6 86.8v10.7M339.0 48.3v4.6M355.0 61.7v8.0M338.7 62.5v4.6M339.5 49.3v5.9M344.6 55.1v4.2M342.3 58.6v7.4M324.7 81.3v2.7M317.1 75.0v8.0M316.7 67.8v9.3M338.8 59.1v4.1M332.1 71.0v4.6M330.5 75.7v2.2M364.1 66.2v6.8M330.2 79.7v25.1M350.8 76.0v5.1M338.5 70.4v3.6M312.3 68.5v13.8M332.7 82.9v3.3M322.0 77.5v3.5M362.3 68.8v6.0M342.8 51.7v8.2M335.9 64.1v10.3M341.5 56.9v16.6"/><path class="G h" d="M340.8 75.9h3.4M332.5 66.8h4.2M342.3 75.6h2.0M328.8 56.9h5.0M337.3 57.3h2.8M326.6 93.7h4.2M353.8 65.4h2.0M337.9 79.1h2.0M330.7 68.4h2.6"/><path class="G v" d="M342.4 69.0v14.5M334.8 61.2v11.4M343.4 72.9v5.2M331.0 51.4v12.2M338.8 54.3v6.5M328.4 91.4v5.0M355.0 59.3v13.2M338.9 76.5v5.6M332.2 65.7v5.1"/><path class="y h" d="M353.0 99.1h2.7M338.8 79.2h2.8M330.0 70.3h2.5M349.5 82.7h2.7M347.7 72.4h2.8M330.4 90.4h4.1M332.4 86.0h3.8M353.1 69.3h2.8M337.5 89.7h1.6M347.5 63.7h3.7M353.6 83.2h4.7M344.6 73.0h1.8M356.9 57.9h4.7M342.9 71.6h2.9M336.9 79.9h2.9M346.3 80.0h4.9M353.1 51.2h3.5M355.4 63.1h3.7M367.9 76.1h2.9M353.4 65.4h2.0M343.6 80.3h1.4M361.4 75.2h1.8M338.7 79.0h4.7M325.6 78.8h1.9M346.2 70.3h2.1M337.5 86.7h3.0M325.6 64.7h2.3M332.4 97.5h2.7M349.2 65.8h2.9"/><path class="y v" d="M354.5 95.8v6.5M340.2 77.2v3.6M331.3 68.8v3.3M351.0 77.5v10.8M349.3 67.2v9.0M332.4 84.1v12.1M334.5 83.7v4.4M354.4 65.0v9.2M338.2 83.6v12.0M349.3 59.9v7.4M355.7 77.9v9.4M345.6 68.8v8.3M359.3 54.2v7.8M344.2 59.7v22.0M338.2 75.9v8.5M348.7 76.6v6.6M354.8 35.0v33.4M357.5 58.6v8.4M369.2 73.8v4.0M354.3 61.3v8.6M344.4 76.8v7.0M362.3 72.9v5.3M341.1 75.5v7.9M326.5 77.1v3.2M347.3 65.4v8.5M339.2 85.2v3.3M326.9 60.7v7.0M333.9 89.3v18.5M350.6 62.2v8.2"/><path class="r h" d="M342.6 83.7h3.3M345.7 75.7h1.3M353.2 85.9h2.9M326.5 80.6h2.1M328.4 81.5h2.3M339.9 70.8h3.6M337.8 77.5h4.1M331.4 62.9h3.1M325.4 68.8h3.8M333.3 79.5h2.3M335.8 83.3h1.7M331.0 54.9h2.9M326.2 76.4h4.1M343.1 68.7h1.4M332.4 94.7h4.5M330.6 84.7h2.0M347.3 56.5h5.0M332.5 71.3h3.9M343.1 86.9h2.6M344.7 70.1h1.8M336.7 62.9h3.4M335.5 80.3h2.1"/><path class="r v" d="M344.2 79.9v8.2M346.5 72.8v6.6M354.5 83.1v6.3M327.5 77.1v6.7M329.7 74.1v14.1M341.5 69.3v3.3M339.6 74.8v5.4M333.0 58.9v7.2M327.3 63.6v9.4M334.4 75.8v7.9M336.6 78.5v10.4M332.4 46.6v17.3M328.5 73.5v6.6M343.8 63.0v12.6M334.7 91.5v7.3M331.6 81.8v5.5M349.5 53.1v6.8M334.6 66.9v9.0M344.4 74.5v22.1M345.4 67.8v4.8M338.6 56.0v11.9M336.6 77.1v5.4"/><path class="g h" d="M344.0 107.8h2.4M340.2 68.0h4.0M333.6 103.7h2.3M318.4 56.6h4.4M350.2 70.7h2.6M331.9 104.2h3.0M334.6 75.9h2.1M319.9 75.7h2.5M326.6 90.7h7.3M340.1 59.7h1.2M339.4 106.1h3.1M324.0 79.9h1.6M332.7 77.2h2.1M348.5 104.3h2.4M344.4 73.0h3.7M344.6 91.4h1.9M362.9 79.2h1.5M341.6 63.6h3.3M333.0 54.1h2.8M334.0 70.6h3.6M323.1 50.0h3.1M314.7 56.2h2.9M346.6 44.4h1.5M341.1 90.5h3.5M334.7 87.5h3.1M333.5 71.7h1.9M359.3 67.0h3.6M317.5 84.0h4.0M359.0 63.9h4.3M347.3 84.2h2.5M347.7 75.2h4.0"/><path class="g v" d="M345.3 103.8v8.8M342.2 63.9v8.8M334.8 98.8v10.7M320.4 54.2v4.7M351.5 63.8v12.3M333.3 101.9v4.2M335.6 72.5v7.6M321.2 68.4v14.7M330.4 88.4v4.9M340.8 58.2v2.9M341.0 101.0v9.1M324.8 77.9v3.7M333.8 75.8v2.5M349.6 99.6v8.4M346.0 68.8v9.4M345.7 86.9v8.9M363.7 77.4v3.7M343.4 58.2v10.6M334.6 52.3v3.7M335.8 63.7v13.2M324.6 46.6v7.4M316.0 53.0v7.2M347.5 42.2v5.1M342.9 84.4v12.2M336.3 82.7v10.9M334.5 69.5v3.9M360.9 62.1v11.3M319.4 82.4v3.0M361.2 51.8v24.4M348.5 81.4v5.7M349.7 72.6v5.1"/><path class="G h" d="M331.5 60.1h3.8M352.7 72.3h2.8M354.5 82.5h2.4M318.8 71.8h2.9M341.4 79.5h4.0M337.6 61.7h1.9M333.4 87.8h2.2M353.3 67.0h3.1M320.7 51.9h1.9M353.0 71.4h2.5"/><path class="G v" d="M333.5 58.9v2.4M354.0 67.3v10.3M355.6 81.6v1.7M320.2 70.0v3.3M343.4 76.7v4.8M338.5 59.8v4.1M334.5 83.9v6.8M354.7 62.7v8.8M321.7 47.9v7.9M354.3 69.2v4.3"/><path class="y h" d="M348.5 88.1h2.9M310.8 73.6h2.8M321.6 86.0h2.0M319.1 84.3h4.1M363.7 77.7h2.6M353.6 67.3h1.8M334.2 67.9h3.2M338.3 76.6h4.2M334.9 82.3h4.3M339.2 75.0h0.9M334.8 71.1h2.2M332.3 78.8h3.3M341.4 82.4h2.2M329.2 91.4h2.5M321.8 61.7h2.6M333.2 94.9h3.6M346.4 63.8h3.6M336.6 85.8h1.4M337.0 83.7h1.7M331.3 95.4h1.7M338.2 74.3h2.3M342.6 66.6h3.8M321.2 70.5h2.2M331.8 76.6h1.8M345.6 68.1h2.7M339.9 72.8h1.9M333.8 76.8h2.6M323.6 73.4h3.3"/><path class="y v" d="M349.8 84.5v7.0M312.2 71.1v5.8M322.5 78.5v16.7M321.0 82.7v3.6M365.1 73.2v8.6M354.6 62.5v9.3M335.9 62.2v11.3M340.1 72.8v7.1M336.8 81.3v1.8M339.6 71.5v7.9M335.9 67.6v6.2M333.7 73.9v11.0M342.7 74.7v13.4M330.3 89.5v4.5M322.9 50.9v24.2M335.1 91.3v7.3M348.1 59.7v8.1M337.3 79.3v11.6M337.9 76.4v16.7M332.3 93.3v4.8M339.3 70.7v6.0M344.5 64.2v4.1M322.3 68.0v4.6M332.7 75.4v2.8M346.8 65.8v4.5M340.7 66.9v13.3M335.0 74.8v4.0M325.1 70.1v7.5"/><path class="r h" d="M337.7 76.8h1.8M350.5 86.4h4.1M356.4 73.2h2.2M352.3 68.0h1.4M337.5 73.9h1.5M347.3 50.5h2.0M335.0 66.1h3.0M322.4 68.8h4.1M337.2 65.7h1.6M339.4 86.5h2.3M350.2 74.8h4.3M319.3 75.5h3.7M342.0 73.0h5.2M326.8 80.3h2.0M342.0 91.1h1.7M341.5 84.8h2.4M335.2 67.5h1.4M341.7 80.7h2.6M342.4 79.2h3.0M334.5 45.3h2.0M322.6 82.5h2.4"/><path class="r v" d="M338.5 71.7v8.9M352.3 84.5v4.2M357.4 69.5v6.8M352.9 65.0v6.7M338.2 67.2v14.5M348.4 46.8v7.8M336.5 60.8v11.3M324.3 61.1v15.4M338.1 59.9v13.2M340.6 83.6v6.5M352.4 70.6v7.7M321.3 72.9v4.9M344.6 70.3v5.9M327.7 76.3v7.3M343.0 85.1v10.3M342.8 81.1v7.3M335.9 64.6v5.9M342.9 77.1v7.0M344.1 78.0v2.9M335.6 36.9v17.2M323.9 81.0v2.7"/><path class="g h" d="M327.3 89.7h1.9M325.3 75.7h2.9M346.2 84.4h3.0M362.0 73.8h1.6M318.9 69.6h1.9M329.5 76.8h2.3M339.7 61.6h2.2M355.4 77.9h3.2M347.6 74.2h3.7M348.0 83.5h7.8M329.9 86.9h2.8M343.5 54.3h3.4M341.9 61.5h3.9M343.7 74.4h3.4M334.9 71.0h3.9M323.7 87.5h2.8M317.8 85.5h2.9M320.1 77.3h2.5M336.8 64.5h4.0M336.6 77.0h2.5M342.1 58.6h3.7M345.6 85.3h1.6M345.6 71.7h3.0M374.9 83.3h4.9M328.2 96.6h2.0M332.1 64.3h3.0"/><path class="g v" d="M328.4 84.9v9.2M327.0 72.7v6.7M347.8 82.4v3.7M362.9 72.4v2.7M319.8 63.7v12.1M330.7 72.4v9.2M340.9 56.8v8.9M357.2 75.3v4.7M349.3 71.9v4.2M351.6 79.2v9.3M331.2 85.3v3.1M345.2 50.3v7.8M343.9 58.9v5.3M345.2 69.5v9.4M336.9 69.4v3.5M325.0 83.9v6.4M319.2 82.9v4.9M321.2 73.4v7.1M338.6 59.8v10.8M338.0 72.7v8.9M344.0 56.6v4.4M346.4 80.9v8.7M346.9 66.6v8.7M377.1 78.7v8.5M329.2 93.9v6.0M333.5 61.2v5.2"/><path class="G h" d="M318.8 67.1h7.3M344.7 91.2h2.6M337.6 64.9h3.6M348.9 69.0h2.6M346.6 84.6h3.2"/><path class="G v" d="M322.3 65.4v3.5M346.2 86.3v10.9M339.5 61.8v6.3M350.1 65.2v6.9M348.3 82.5v4.6"/><path class="y h" d="M350.9 77.2h2.2M336.9 72.6h1.5M326.2 93.1h3.7M343.9 80.7h2.1M357.2 60.0h1.8M347.1 86.1h3.2M342.4 92.1h2.3M320.7 53.6h3.3M341.9 88.1h2.4M338.8 89.2h2.1M336.4 68.2h3.0M342.7 71.7h3.7M325.6 66.1h2.9M326.8 68.5h4.0M344.0 62.5h5.2M323.0 84.1h2.6M352.4 73.4h2.0M332.2 87.9h4.2M338.5 84.2h3.0M354.6 80.9h2.9M338.1 54.8h2.6M332.5 85.7h8.0M335.5 95.9h2.3M348.5 74.8h2.4M320.8 83.7h2.5M353.8 83.4h4.2M329.5 75.1h5.5M321.9 68.0h2.9M339.1 88.1h4.2M339.3 83.0h2.9"/><path class="y v" d="M351.9 70.9v13.8M337.8 67.2v10.6M328.4 89.8v6.7M345.1 77.3v6.2M358.0 53.4v12.6M348.6 78.0v15.3M343.7 87.1v8.7M322.4 46.8v13.8M343.1 82.9v11.8M339.8 83.9v10.6M337.8 66.6v2.8M344.5 69.2v5.6M327.0 60.6v11.7M328.8 65.7v5.9M346.5 61.1v3.1M324.3 80.7v7.3M353.5 71.1v3.8M334.2 83.7v7.6M340.1 80.3v8.4M356.0 75.6v12.2M339.3 50.7v7.7M335.9 84.2v2.6M336.5 94.0v4.3M349.6 72.1v5.0M322.2 81.5v3.9M355.8 79.7v6.6M332.2 72.5v4.5M323.5 67.1v1.6M341.1 80.0v16.3M340.8 79.9v7.1"/><path class="r h" d="M332.7 84.4h3.0M335.5 61.5h3.3M339.0 77.3h3.0M366.9 94.1h2.7M326.6 58.8h3.3M340.0 67.2h7.0M345.3 69.5h2.9M332.1 75.3h2.2M336.5 69.5h1.6M352.7 55.8h3.0M355.5 78.1h3.9M327.2 72.1h1.7M344.1 80.5h6.9M344.2 81.5h3.8M323.7 78.1h5.3M341.1 62.3h3.6M339.1 78.4h3.3M339.0 75.1h0.9M345.7 61.6h2.4M344.8 73.2h1.9M331.9 55.9h4.2M375.9 71.3h3.9M336.3 77.2h1.8M340.1 77.3h2.2M348.2 84.2h1.1M340.2 49.6h2.5M342.3 72.4h1.6M340.0 77.5h2.5M346.4 56.5h4.3"/><path class="r v" d="M334.2 81.8v4.6M337.0 59.0v5.1M340.3 71.7v11.1M368.2 92.3v4.2M328.1 54.4v9.7M343.2 59.6v17.3M346.8 65.4v7.6M333.3 72.9v4.8M337.2 63.7v10.9M354.2 52.0v8.8M357.4 75.2v6.4M328.0 68.7v6.9M347.4 73.9v12.0M345.9 75.3v11.1M326.1 75.8v5.2M343.1 61.3v2.1M340.8 75.1v6.2M339.4 71.0v7.1M347.0 54.6v13.6M345.8 65.6v15.6M333.9 52.1v8.6M378.0 68.3v6.4M337.1 74.9v4.7M341.2 73.4v6.8M348.7 81.5v5.2M341.4 44.7v11.2M343.1 69.7v5.3M341.3 67.6v19.5M348.5 53.3v7.1"/><path class="g h" d="M332.4 90.1h3.2M352.9 71.2h1.9M331.8 95.8h2.0M369.6 71.0h4.6M320.3 59.3h2.0M326.6 97.5h3.6M320.6 67.1h3.2M334.3 86.9h1.3M350.4 92.0h3.8M349.4 106.9h1.4M377.2 69.1h4.4M367.4 93.9h4.3M319.0 85.7h2.8M345.9 86.1h1.7M329.2 92.5h1.8M320.6 80.9h1.4M322.5 83.6h5.1M336.5 61.0h2.2M332.4 103.0h3.0M330.3 56.2h1.9M351.7 61.2h3.4"/><path class="g v" d="M333.9 83.9v10.5M353.7 59.8v24.4M332.7 92.3v7.9M371.7 65.9v9.4M321.2 55.1v7.5M328.6 88.3v17.2M322.1 61.3v10.4M334.9 81.5v10.3M352.1 89.9v4.8M350.1 102.3v9.5M379.4 64.5v9.9M369.7 89.3v10.1M320.6 82.4v6.8M346.9 76.6v19.7M330.2 82.2v22.5M321.3 73.4v15.2M324.8 78.9v8.7M337.7 58.7v3.9M334.2 99.7v7.4M331.3 55.5v1.2M353.3 58.7v4.4"/><path class="G h" d="M322.7 83.9h3.4M335.0 62.9h2.1M324.0 64.1h4.3M354.5 53.3h3.2M325.5 72.5h4.3M327.2 62.5h4.1"/><path class="G v" d="M324.5 80.1v8.2M336.0 61.0v3.2M325.9 62.4v3.1M356.0 48.7v8.7M327.7 69.5v5.3M329.2 60.0v4.5"/><path class="y h" d="M352.6 64.1h3.5M355.5 74.7h3.6M343.3 86.9h3.5M369.8 66.4h2.4M325.3 79.8h2.7M343.5 101.7h5.5M350.4 62.5h1.7M336.1 66.4h2.5M351.0 64.0h4.8M320.0 84.7h2.8M348.8 94.8h3.6M353.3 58.6h3.7M364.1 69.7h2.8M367.1 90.7h3.3M328.0 72.7h1.5M312.3 62.6h2.6M339.1 88.3h2.4M330.3 74.1h2.9M356.0 66.2h2.2M316.6 72.9h2.2M328.5 70.6h8.9M329.8 67.5h3.6M347.9 76.9h2.4M335.0 68.7h2.7M335.4 62.5h2.0M358.0 58.1h2.0M354.5 63.6h1.6M341.7 78.0h1.9M353.5 60.5h4.6M337.8 93.4h2.3M348.0 80.8h3.1M358.9 58.3h2.5M347.1 68.9h2.7M355.8 61.8h4.0"/><path class="y v" d="M354.2 60.6v7.1M357.2 68.6v12.0M344.9 83.6v5.6M371.1 55.9v21.9M326.5 76.3v7.2M346.4 98.3v7.4M351.1 56.6v11.2M337.3 59.6v13.4M353.4 55.2v16.9M321.4 79.6v10.2M350.4 90.3v10.2M354.9 54.5v8.2M365.7 64.2v12.1M368.7 87.0v7.6M328.7 64.2v17.2M313.6 60.0v5.1M340.2 82.5v10.6M331.9 70.8v6.8M356.9 60.0v13.9M317.9 67.2v12.1M332.5 67.2v6.0M331.6 64.9v5.1M349.1 72.7v7.2M336.2 64.0v10.7M336.6 58.8v7.5M359.0 54.3v6.9M355.4 59.9v6.6M342.8 75.6v4.7M355.6 56.6v8.8M338.9 91.7v3.3M349.7 76.9v7.8M360.1 54.5v8.0M348.6 65.9v5.9M358.0 59.9v3.5"/><path class="r h" d="M351.8 84.5h1.5M347.2 73.4h1.3M392.8 42.5h1.4M360.5 45.3h4.0M341.9 58.0h1.5M338.4 77.0h2.7M351.0 64.5h2.5M335.1 79.9h3.3M340.6 75.0h9.1M339.8 65.4h3.2M333.4 74.5h1.3M339.9 79.0h1.7M351.3 75.3h3.9M348.0 73.4h3.2M341.7 92.2h2.3M341.7 78.2h4.3M330.6 82.8h3.3M339.9 74.5h3.5M334.9 75.4h2.3M325.7 67.6h1.5M355.8 84.8h2.9M319.2 84.6h2.9M343.6 66.4h1.6M344.9 75.5h2.3M333.5 74.8h2.5M352.9 47.0h1.9M343.0 91.1h3.2M332.1 68.2h4.7M350.2 94.4h1.9"/><path class="r v" d="M352.5 79.1v12.1M347.9 69.9v7.1M393.5 39.7v6.6M362.4 42.0v7.0M342.6 54.5v6.1M340.0 68.0v18.1M352.3 59.1v11.7M337.0 76.1v6.6M344.7 71.4v6.4M341.2 62.8v5.1M334.1 71.3v6.6M340.8 75.4v8.0M353.3 70.9v7.8M349.4 72.0v2.9M342.9 88.4v8.6M343.8 72.0v12.8M332.2 79.6v7.0M341.7 69.1v11.1M335.9 71.9v7.2M326.4 64.6v5.4M357.3 79.6v10.9M320.8 82.8v3.9M344.5 64.9v3.2M346.0 73.5v3.3M334.7 71.8v6.1M354.0 43.7v5.8M344.9 87.3v8.3M334.3 60.8v15.9M351.1 90.8v7.9"/><path class="G h" d="M344.5 80.0h3.6M329.5 54.0h1.7M347.0 95.2h2.9M353.0 53.3h3.3M347.1 72.5h2.1M313.5 79.1h4.0"/><path class="G v" d="M346.4 76.7v7.2M330.4 50.2v6.7M348.5 90.3v9.9M354.6 49.9v6.9M348.1 70.6v3.9M315.6 71.6v13.7"/><path class="y h" d="M350.4 67.0h6.6M354.0 73.6h3.5M329.6 66.7h3.5M334.1 72.2h3.1M328.6 61.9h2.5M345.3 50.5h3.3M346.0 81.6h5.3M350.4 70.6h2.6M349.0 75.2h3.2M348.8 71.8h2.2M355.9 59.4h2.0M324.1 90.6h1.5M342.1 75.0h3.0M354.4 62.7h4.2M323.7 75.7h3.2M338.4 80.7h4.0M349.5 57.6h3.1M357.2 53.7h1.3M334.0 61.9h1.3M331.3 94.7h2.6M341.3 67.8h2.7M334.4 84.3h2.9M323.2 61.3h5.5M348.7 78.2h4.1"/><path class="y v" d="M353.5 62.5v10.3M355.6 68.4v9.0M331.2 62.9v8.1M335.6 70.3v3.5M329.8 54.5v15.3M347.2 49.0v3.2M348.5 79.6v3.3M351.7 65.9v9.6M350.6 72.4v5.7M349.8 68.2v6.9M356.8 53.5v10.7M325.0 86.6v8.8M343.5 71.5v7.1M356.4 58.0v8.8M325.1 74.2v2.6M340.6 77.9v5.1M351.3 52.9v8.9M357.8 51.1v5.2M334.7 60.2v3.9M332.5 92.2v4.6M342.9 66.1v3.7M335.7 81.9v5.2M325.9 58.6v6.0M351.0 76.6v3.3"/><path class="r h" d="M341.8 91.5h1.8M332.6 64.6h3.1M338.0 67.9h2.3M335.9 90.8h3.8M348.2 73.9h4.3M353.5 70.0h2.9M332.8 84.8h2.3M344.3 59.9h1.6M348.6 73.5h5.3M352.4 66.0h1.3M347.7 50.4h1.9M351.5 86.6h2.5M368.3 97.7h4.7M346.9 59.5h1.7M353.0 71.6h2.2M335.6 81.2h1.4M348.6 61.4h3.4M332.5 82.6h3.0M317.0 88.2h2.7M353.2 66.3h3.8M336.3 59.3h2.0M331.3 99.2h3.1M337.8 46.8h3.7M340.7 71.9h6.9M327.4 68.0h2.4M344.4 78.3h2.6M344.7 60.9h2.6M346.0 60.8h2.7M337.3 89.7h2.7M347.2 81.3h2.7M350.2 86.0h2.5M328.2 69.2h3.6M333.2 64.6h6.7M336.2 101.2h3.2M350.6 78.2h2.2M329.3 68.3h2.4M330.6 53.1h1.6M331.9 82.0h2.5M341.7 76.5h3.3M320.0 73.5h4.5M338.0 77.2h1.7M340.0 68.3h3.2M336.7 69.1h2.0M341.3 69.4h3.2M329.6 78.1h3.7M344.5 82.4h3.4M331.3 83.1h5.5M342.0 80.1h2.5M316.7 70.1h2.8M337.7 60.7h3.5M336.4 71.4h2.2M350.3 70.5h3.0M333.3 85.9h2.2M331.3 79.1h4.4M339.8 87.4h5.6M333.3 56.4h3.8M343.7 83.4h1.6M329.1 90.4h4.8M329.2 99.0h2.4M342.8 87.4h3.2M345.0 82.7h3.9"/><path class="r v" d="M342.6 86.7v9.2M334.1 63.5v2.3M339.2 66.2v3.3M337.7 86.7v8.5M350.1 68.4v12.3M355.0 65.1v11.2M333.9 77.0v17.1M345.2 58.1v3.5M351.3 71.6v4.3M353.1 63.1v6.0M348.6 45.4v10.8M352.8 83.3v5.7M370.7 92.3v10.1M347.7 52.6v13.9M354.2 69.9v3.2M336.3 77.4v7.5M350.3 57.8v7.7M333.9 79.1v7.4M318.5 81.4v13.8M354.8 60.6v11.5M337.3 49.5v22.5M332.9 97.4v3.8M339.4 43.9v6.6M344.6 69.8v4.2M328.5 65.2v5.4M345.8 74.9v7.1M346.0 54.8v11.1M347.2 57.4v6.6M338.6 87.6v4.4M348.4 76.1v8.9M351.3 81.5v9.0M329.8 63.3v11.4M336.2 55.8v17.9M338.1 96.3v9.4M351.8 74.7v7.9M330.6 62.2v13.2M331.4 49.0v9.1M333.1 80.5v3.5M343.2 71.9v8.1M322.4 66.2v16.9M338.9 73.1v8.6M341.7 66.8v3.3M337.8 66.8v4.7M342.7 64.5v10.9M331.4 74.6v6.3M346.3 80.0v4.5M333.9 74.2v15.3M343.4 76.1v6.8M318.3 67.8v4.1M339.4 54.2v12.3M337.6 65.9v10.4M351.8 67.2v7.2M334.5 83.7v3.8M333.4 76.2v6.0M342.8 84.3v5.2M335.1 54.3v4.8M344.5 79.0v9.6M331.3 87.2v7.3M330.4 96.6v4.6M344.4 82.4v11.6M346.8 71.4v22.2"/></g><g clip-path="url(#cc)" fill="none"><path class="g h" d="M605.2 72.0h3.8M608.6 65.7h3.3M604.8 93.9h2.4M608.4 75.4h3.9M596.3 77.5h7.9M592.9 54.4h2.6M608.9 64.1h1.8M597.9 45.1h3.7M606.8 129.3h2.4M609.8 58.3h2.0M594.2 56.4h10.3M604.6 84.8h2.1M592.9 77.1h6.3M593.7 26.2h3.6M602.4 57.6h4.2M610.7 60.4h3.0M607.1 118.0h2.5M608.3 44.1h2.4M605.9 88.2h2.7M593.5 125.0h2.7M603.5 59.4h3.5M585.5 65.4h4.2M611.0 105.2h4.0M585.6 58.9h3.3M593.3 49.5h6.1M585.0 111.3h2.5M591.2 49.8h2.3M610.9 63.0h2.6M600.3 82.3h12.6M584.6 63.2h9.5M598.5 50.7h7.0M603.3 60.7h2.2M595.7 70.5h3.7M600.8 77.7h6.4M599.6 52.5h2.7M598.4 49.3h2.7M614.3 126.5h3.9M577.6 41.0h4.4M609.3 51.2h4.4M589.5 88.4h5.1M581.3 44.0h7.2M592.9 58.4h3.9M583.7 62.5h4.2M612.2 53.6h3.9M629.7 63.4h4.0M592.6 57.9h5.4M602.1 86.6h5.7M605.2 55.8h3.6M610.8 73.2h3.7M592.6 115.0h4.6M607.7 63.2h2.1M604.6 53.6h5.2M603.9 47.8h3.4M600.7 33.3h4.0M597.8 44.5h4.0M611.8 57.3h4.0M612.6 56.6h4.0M590.7 52.5h4.0M597.1 34.3h4.0M594.6 43.8h4.0M610.0 33.6h4.0M604.7 28.7h4.0M604.9 45.5h4.0M609.4 26.3h4.0M602.6 77.3h4.8M604.9 58.3h4.8M586.4 111.7h4.9M587.3 51.5h6.4M610.8 51.6h4.7M620.3 38.2h2.5"/><path class="g v" d="M607.0 71.4v1.2M610.3 64.1v3.6M606.2 92.5v3.0M610.4 74.6v1.6M599.9 76.7v1.6M594.2 53.5v2.0M609.9 62.4v3.0M599.7 43.8v2.8M608.0 128.2v2.3M610.8 58.0v0.7M599.4 56.0v0.7M605.8 83.9v2.0M595.7 76.3v1.4M595.4 25.6v1.1M604.9 57.4v0.5M612.3 58.1v4.7M608.4 116.4v3.7M609.5 43.2v2.0M607.3 85.9v4.0M594.8 123.4v3.2M605.1 57.2v4.8M587.7 64.2v2.6M613.1 104.9v0.7M587.1 58.2v1.5M596.3 48.7v1.5M586.5 110.4v1.5M592.3 49.1v1.6M612.3 62.5v1.1M605.8 80.1v4.7M589.0 61.9v2.7M601.6 50.0v1.7M604.4 59.3v2.7M597.8 69.1v2.8M603.7 76.4v2.5M600.9 52.0v0.8M599.8 48.1v2.7M616.0 125.7v1.8M579.9 40.5v1.0M611.5 50.9v0.6M592.0 87.8v1.2M584.5 42.9v1.9M594.6 57.3v2.0M585.8 62.0v1.2M614.0 52.9v1.5M631.5 61.7v2.9M595.2 57.1v1.7M605.5 86.0v1.4M607.0 54.1v3.9M612.6 72.1v2.4M595.1 113.4v2.7M608.8 62.6v1.2M606.9 52.9v1.4M605.4 46.7v1.9M602.7 15.6v37.3M599.8 29.7v37.0M613.8 13.5v49.0M614.6 33.9v29.6M592.7 32.4v30.4M599.1 16.9v32.3M596.6 32.1v21.9M612.0 11.4v53.9M606.7 17.7v23.3M606.9 11.2v46.7M611.4 16.7v25.1M604.8 76.9v0.7M607.7 56.5v3.7M588.6 110.9v1.7M590.5 50.9v1.3M613.4 50.8v1.6M621.7 35.0v5.9"/><path class="G h" d="M613.3 65.9h4.6M604.9 87.2h2.7M585.4 40.2h5.0M594.3 83.8h5.0M602.5 84.1h2.3M599.0 88.7h4.8M589.7 65.2h6.6M610.2 47.3h3.2M589.3 16.2h4.0M589.8 38.0h4.0M608.9 34.7h4.0"/><path class="G v" d="M615.5 65.5v0.7M606.1 84.8v4.4M587.7 39.6v1.3M596.5 83.3v0.8M603.6 83.9v0.3M601.4 88.2v1.0M592.7 64.4v1.6M611.8 45.7v3.5M591.3 11.1v57.7M591.8 17.1v37.4M610.9 14.4v37.7"/><path class="y h" d="M602.8 64.4h3.3M596.5 50.7h4.6M595.2 86.8h4.3M606.3 60.7h8.1M597.8 86.2h4.0M603.6 56.8h7.1M587.9 61.9h5.6M618.4 66.4h4.6M589.5 48.0h4.0M600.4 31.6h4.0M609.6 67.6h7.2M606.2 83.5h2.0M605.5 32.6h4.1"/><path class="y v" d="M604.6 58.9v11.1M598.9 48.0v5.5M597.4 84.6v4.6M609.9 59.6v2.1M599.7 84.8v2.8M607.4 56.3v0.8M590.7 61.1v1.5M620.8 65.2v2.4M591.5 32.5v22.3M602.4 17.2v25.2M612.8 67.3v0.7M607.3 82.8v1.6M607.6 30.7v4.1"/><path class="g h" d="M602.8 114.3h4.3M604.0 50.3h3.3M584.9 42.9h5.0M596.9 89.3h7.0M608.8 112.8h5.7M584.0 79.1h3.6M606.5 34.9h8.0M591.6 57.6h3.6M604.1 89.3h6.1M600.8 84.3h5.3M598.6 47.8h2.6M582.7 51.2h5.3M591.6 69.8h3.7M584.7 78.2h5.5M587.8 51.9h3.6M609.4 85.5h3.2M614.3 77.1h2.1M602.9 56.3h2.0M596.9 88.2h5.2M608.5 99.1h4.9M604.7 82.3h4.2M586.6 45.2h4.8M596.0 89.2h3.5M633.7 67.9h2.8M598.6 91.7h6.2M590.7 92.4h3.0M591.9 106.8h6.6M593.8 68.5h3.4M600.6 66.6h3.6M604.0 43.3h3.3M612.5 66.1h3.6M597.8 73.7h2.7M605.0 119.6h1.9M597.1 58.8h3.6M601.8 61.5h9.7M622.1 44.9h2.2M630.1 64.6h2.3M586.3 138.2h4.4M589.1 43.9h4.1M589.2 43.6h2.7M598.9 48.0h4.2M578.5 65.4h4.1M617.0 54.0h2.0M614.9 34.0h3.5M595.8 51.5h6.7M627.3 28.2h8.4M591.3 75.7h3.0"/><path class="g v" d="M604.9 113.0v2.6M605.6 49.0v2.6M587.7 42.1v1.6M600.8 87.9v3.1M611.5 112.0v1.5M585.9 78.4v1.6M610.1 34.5v0.7M593.5 56.9v1.4M606.8 88.8v1.0M603.5 83.4v1.8M599.9 47.3v1.0M585.0 49.6v2.9M593.6 69.0v1.5M587.8 77.1v2.3M589.8 51.2v1.4M611.2 85.2v0.8M615.4 76.6v1.0M603.9 54.7v3.3M599.8 85.6v4.7M610.9 97.0v4.8M606.7 80.9v2.8M589.3 44.8v0.7M597.6 88.2v2.1M635.0 66.1v3.9M601.6 89.6v4.5M592.4 91.0v3.0M595.7 105.5v2.8M595.7 66.0v5.0M602.5 63.7v6.3M605.8 42.0v2.9M614.5 65.2v1.7M599.3 72.5v2.4M606.1 118.2v3.1M598.7 58.1v1.2M606.6 57.9v7.9M623.1 43.9v1.9M631.1 61.9v4.7M588.8 137.5v1.3M591.4 38.7v9.3M590.5 42.3v2.3M600.9 47.0v1.7M580.5 62.7v5.7M618.0 51.3v5.9M616.8 32.9v2.4M599.0 50.5v2.4M630.9 26.9v2.8M592.9 73.8v3.4"/><path class="G h" d="M589.1 68.9h5.0M605.3 73.2h3.3M610.1 88.3h2.7M589.3 124.1h3.1M612.8 38.1h3.1M601.6 103.7h3.6M586.0 63.3h6.2M609.3 96.2h5.5M600.4 103.2h3.4M607.5 76.2h3.2M600.4 57.4h2.6"/><path class="G v" d="M592.0 68.2v1.3M607.1 71.4v3.2M611.3 87.4v2.1M590.9 122.8v2.4M614.3 37.4v1.6M603.6 102.8v1.7M588.8 62.4v1.9M611.9 94.8v3.1M601.9 100.1v6.3M609.1 74.7v3.2M601.7 57.0v0.7"/><path class="y h" d="M596.2 80.4h4.4M599.6 54.6h7.8M608.7 67.0h2.4M591.2 76.8h3.1M597.5 63.8h2.3M601.1 65.9h4.5M589.3 56.6h4.7M602.4 58.9h3.1M585.6 86.4h3.3M598.1 76.3h4.4M611.4 89.3h5.6M589.9 86.6h10.0M599.4 63.0h4.5M594.1 93.6h7.2M599.5 67.0h7.2M604.0 58.7h5.0M606.7 83.4h4.6M603.8 92.7h4.8M593.7 90.5h2.7M604.2 109.1h5.5M609.8 96.5h2.4M606.0 60.0h2.5M588.3 86.5h4.8M593.7 71.8h7.0M592.2 57.0h2.1M607.2 65.8h2.3"/><path class="y v" d="M598.2 79.4v1.7M604.1 53.5v2.1M609.9 66.3v1.2M592.9 75.4v2.9M598.6 63.0v1.4M603.3 63.2v5.2M591.7 55.9v1.2M603.8 58.2v1.4M587.1 83.4v5.2M600.1 74.1v4.9M614.1 88.0v2.8M594.3 83.8v5.6M601.9 62.2v1.3M598.0 92.7v1.8M603.0 65.3v3.8M606.6 57.7v2.1M609.3 81.8v3.7M606.3 91.1v3.2M594.9 89.8v1.2M607.2 108.0v2.0M611.2 96.0v1.1M607.3 58.4v3.4M590.6 86.0v1.0M597.4 70.4v2.9M593.3 54.2v5.9M608.5 58.3v13.3"/><path class="r h" d="M597.8 78.7h4.3M615.6 43.9h6.3M612.8 73.6h3.0M609.1 68.7h4.2M600.7 82.0h3.1M597.8 70.6h4.0M609.8 90.5h3.5M605.0 121.5h3.8M611.0 89.5h4.6M618.8 56.1h2.9"/><path class="r v" d="M599.7 78.4v0.7M618.8 43.7v0.5M614.3 72.3v2.6M611.0 68.4v0.6M602.2 79.9v4.5M600.1 68.9v3.1M611.7 89.9v1.3M606.7 120.6v1.6M613.3 88.8v1.3M620.2 55.3v1.5"/><path class="g h" d="M596.3 53.2h3.6M615.1 40.0h4.8M604.8 47.4h4.9M609.3 50.8h3.4M582.2 44.3h5.3M605.9 39.4h2.4M589.7 73.8h1.9M597.9 85.2h3.9M612.8 26.0h6.2M627.1 22.2h2.9M591.1 79.4h6.1M613.5 75.2h2.0M597.2 54.5h4.5M610.6 118.6h4.4M638.4 36.7h3.4M618.8 56.1h4.2M587.9 67.4h5.0M609.6 50.6h4.4M594.6 87.9h8.0M613.8 42.0h2.5M602.0 99.2h3.0M592.0 40.4h2.7M595.3 50.2h2.9M608.3 68.4h2.2M595.1 104.8h7.4M603.8 65.2h3.9M598.2 53.8h7.0M586.8 88.2h8.9M591.0 53.0h2.8M616.3 82.4h6.1M598.4 46.6h2.2M603.5 55.6h3.5M577.1 128.0h4.7M601.0 79.7h4.3M603.1 81.0h2.1M584.0 38.3h2.9M590.1 81.5h4.2M609.7 101.0h1.9M629.8 76.6h4.3M689.9 40.6h5.3M693.3 47.2h8.3M718.1 47.6h11.7M712.9 69.4h40.1M654.0 49.1h7.0"/><path class="g v" d="M598.2 52.3v1.7M618.0 36.0v7.7M607.5 44.4v6.1M611.3 49.2v3.0M584.6 42.6v3.3M607.1 37.9v2.9M590.6 73.4v0.9M599.6 83.7v3.3M616.3 25.0v2.3M628.4 20.7v3.1M594.3 77.8v3.0M614.6 70.9v7.4M599.4 54.1v0.8M612.6 117.7v1.7M639.9 34.1v5.5M620.8 55.4v1.4M590.4 67.0v0.8M612.0 48.9v3.0M598.2 87.7v0.4M614.9 41.2v1.8M603.5 98.4v1.7M593.6 38.7v3.8M596.6 48.5v3.6M609.6 66.4v4.1M599.2 103.8v2.2M605.6 64.1v2.0M601.7 52.6v2.8M591.2 87.9v0.5M592.5 52.4v1.1M619.6 82.0v0.7M599.5 45.9v1.4M605.5 54.9v1.5M579.3 126.9v2.0M603.5 79.0v1.4M604.3 79.6v2.9M585.6 37.6v1.4M592.1 76.4v9.7M610.8 100.0v1.8M631.7 75.3v2.9M692.3 36.8v7.0M697.4 41.5v11.3M724.2 43.0v9.5M735.5 69.0v0.8M657.0 45.0v9.0"/><path class="G h" d="M607.4 40.9h2.1M584.2 81.6h7.0M611.1 71.1h3.6M608.4 64.5h4.7M581.0 54.8h2.1M609.4 89.1h4.5M599.0 48.1h4.0M576.0 77.1h4.8M590.6 36.2h7.1M608.3 87.9h4.4M601.9 84.0h2.2M594.2 70.7h2.3"/><path class="G v" d="M608.5 40.4v0.9M588.2 76.4v10.2M613.0 70.1v1.8M610.7 63.0v2.8M582.1 54.0v1.9M611.4 88.8v0.5M601.1 47.0v2.3M578.6 76.6v1.2M593.7 35.5v1.2M610.6 85.4v5.6M603.0 83.3v1.5M595.3 66.6v8.3"/><path class="y h" d="M591.7 61.5h4.6M602.7 63.4h2.7M589.1 59.9h3.4M605.6 55.6h3.7M599.7 83.0h5.5M599.2 57.3h3.3M586.9 75.4h3.7M598.1 69.9h4.6M599.6 74.0h7.2M597.9 88.2h2.6M604.5 86.1h5.0M610.5 89.0h2.8M594.3 58.9h3.5M603.2 91.2h4.0M601.2 38.2h1.5M598.5 72.9h6.4M611.3 57.7h3.6M590.1 75.8h3.9M581.7 52.1h4.6M616.6 82.2h3.8"/><path class="y v" d="M594.1 60.7v1.9M604.3 61.5v4.0M591.1 59.2v1.6M607.5 54.1v2.9M602.8 81.1v4.1M600.8 54.9v4.5M588.6 74.0v3.0M600.6 68.4v3.3M602.8 73.7v0.5M599.0 86.7v2.7M607.2 85.7v0.8M611.7 87.2v3.9M596.2 57.9v2.1M605.1 89.8v2.6M602.0 37.0v2.6M601.3 70.1v5.2M613.2 54.5v6.0M592.0 73.8v3.8M583.8 51.7v0.9M618.8 81.7v0.8"/><path class="r h" d="M583.0 63.5h4.9M588.0 85.0h8.9M601.0 54.2h1.7M604.0 105.4h2.4M609.0 84.1h7.2M613.6 67.0h3.1M614.4 75.8h2.6M587.5 77.0h5.0M613.6 64.7h2.4M589.0 77.6h5.2M615.7 63.8h5.1M596.1 92.3h3.3M597.3 78.5h4.9M589.8 115.7h19.9M603.5 86.8h2.5M599.7 76.4h6.6M608.6 75.9h3.9M595.2 75.8h6.0"/><path class="r v" d="M585.6 62.1v2.4M592.6 83.8v2.2M601.8 53.9v0.5M605.2 104.9v1.0M612.2 83.2v1.9M615.3 65.0v4.3M615.7 73.5v5.4M590.3 72.7v7.8M614.9 61.2v7.1M592.0 76.8v1.8M618.2 62.9v2.2M597.7 90.9v2.6M599.5 77.6v2.2M598.5 108.5v14.9M604.7 86.3v0.9M602.8 75.2v2.4M610.9 74.6v2.8M597.9 74.9v1.6"/><path class="g h" d="M662.0 51.3h2.0M650.0 151.7h6.0M630.5 18.2h4.0M645.5 27.3h4.9M636.4 44.6h8.3M631.5 46.2h6.5M652.1 49.5h8.2M653.5 52.8h2.2M661.8 51.2h2.0M648.0 55.3h2.2M627.7 60.0h2.0M630.5 59.4h2.0M637.5 72.9h3.0M638.0 57.8h1.9M603.9 104.6h6.0M600.8 52.1h4.6M614.0 60.7h2.4M603.3 56.8h3.2M601.2 73.8h3.2M580.4 66.4h6.9M608.5 76.5h4.8M608.8 51.6h2.2M584.7 130.3h3.3M610.2 45.8h3.5M595.8 67.6h3.6M593.1 78.6h5.3M596.3 69.0h3.6M599.5 52.6h2.4M603.6 85.7h1.5M601.0 89.1h4.1M589.1 79.4h4.6M617.6 97.8h5.0M589.7 34.3h4.5M590.7 34.9h3.0M584.8 64.5h4.4M607.7 78.4h3.6M600.4 86.2h4.0M600.2 61.7h4.2M611.8 79.6h4.7"/><path class="g v" d="M663.0 49.5v3.5M652.8 148.5v6.5M632.3 12.4v11.6M648.0 22.3v9.1M640.5 28.9v28.8M634.8 45.0v2.5M656.2 44.6v9.8M654.6 51.0v3.5M662.8 49.5v3.5M649.1 54.0v2.5M628.7 52.8v18.1M631.5 58.0v3.0M638.9 72.0v2.0M638.9 56.6v2.6M606.9 104.0v1.2M602.9 51.4v1.5M615.4 59.4v2.9M604.7 55.2v3.1M602.9 72.9v1.7M583.7 65.4v1.8M610.8 74.5v3.6M609.9 46.8v8.7M586.2 129.7v1.2M612.0 44.8v2.1M597.5 65.3v4.0M595.5 78.2v0.8M597.9 68.0v1.8M600.8 51.9v1.4M604.4 84.2v2.8M603.1 88.6v0.9M591.2 76.9v5.3M620.0 95.1v5.0M592.1 33.7v1.2M592.0 32.7v5.0M586.8 62.9v3.3M609.5 77.4v1.7M602.3 84.6v3.5M602.5 59.1v5.1M614.0 79.0v1.2"/><path class="G h" d="M628.2 67.3h14.8M613.6 61.9h4.5M589.8 77.8h5.5M601.5 100.6h2.9M613.4 82.5h4.3M596.0 65.9h2.5M612.6 87.0h5.8M592.7 90.5h4.4M604.8 80.7h2.5M602.7 63.9h2.5M588.8 43.2h4.5M605.0 70.5h3.0M600.8 70.5h5.7M608.0 104.3h2.1"/><path class="G v" d="M641.4 66.5v1.5M615.8 61.1v1.5M592.7 76.9v1.9M602.9 100.5v0.3M615.5 80.8v2.9M597.2 64.9v2.3M615.4 85.2v3.2M594.9 89.6v1.7M606.3 79.1v2.7M603.8 62.5v3.3M591.2 42.3v2.1M606.7 69.6v1.9M603.4 69.8v1.4M609.0 102.2v3.9"/><path class="y h" d="M639.0 129.5h7.0M634.4 25.6h6.1M622.0 35.5h6.0M629.0 33.0h3.5M631.5 39.6h7.4M623.2 45.4h9.9M632.0 52.0h2.2M645.0 68.5h4.5M623.5 72.6h3.0M612.8 67.3h5.2M600.4 61.5h4.3M595.3 67.2h2.1M593.9 73.6h3.8M608.4 76.1h5.5M591.2 70.8h5.2M599.5 84.4h4.3M600.3 52.2h2.4M598.1 68.6h5.7M587.2 19.3h5.9M601.4 78.7h2.6M608.6 74.9h5.0M596.1 60.9h3.1M593.6 65.0h2.0M588.4 78.4h3.5M610.4 53.7h5.2M610.3 57.7h3.2M608.8 68.5h2.9M605.5 71.4h2.9"/><path class="y v" d="M642.5 127.0v5.0M637.3 19.8v12.4M624.9 27.0v16.0M630.7 30.0v6.0M635.6 37.0v5.0M629.8 44.0v3.0M633.1 51.0v2.0M647.1 67.5v2.0M624.9 71.5v2.0M615.1 66.1v2.4M602.5 57.7v8.6M596.4 66.1v2.4M596.1 73.0v1.1M611.0 75.7v0.7M594.0 70.0v1.5M601.9 81.1v5.7M601.6 51.4v1.7M600.6 68.0v1.1M590.5 18.9v0.8M602.7 78.3v0.7M610.8 74.1v1.6M597.6 59.9v1.7M594.7 64.1v1.9M589.9 75.2v7.2M613.2 51.2v5.6M612.1 56.9v1.8M610.3 66.2v4.5M607.1 70.9v1.2"/><path class="r h" d="M593.6 88.8h3.1M581.5 126.1h2.3M594.0 117.0h6.9M606.8 69.0h6.2M601.2 72.9h2.7M595.8 79.5h3.6M598.1 85.8h4.6M609.4 57.7h6.5M584.8 74.0h3.0M609.2 77.9h6.0M612.2 63.1h5.4M596.2 52.5h4.9M584.1 61.2h4.1"/><path class="r v" d="M582.6 125.7v0.7M597.5 116.1v1.8M609.5 68.4v1.1M602.7 72.5v0.9M597.4 79.0v1.0M600.2 85.4v0.7M612.6 56.2v2.8M586.6 72.5v3.2M612.4 76.9v2.2M614.6 62.1v2.0M598.5 51.2v3.0M586.3 59.8v2.7"/><path class="g h" d="M611.8 64.7h3.0M585.5 67.7h8.9M608.3 83.9h2.0M597.1 49.6h1.8M604.3 67.5h4.0M611.5 58.6h5.4M607.2 35.7h2.5M587.5 116.7h3.0M609.7 85.6h4.4M592.3 69.9h4.6M591.7 46.0h5.3M635.3 37.3h2.2M593.4 68.6h3.1M609.5 80.7h4.1M608.7 96.7h4.0M597.6 32.5h3.5M602.0 104.0h10.4M610.9 56.9h2.4M596.7 87.8h2.5M602.1 72.6h2.3M578.7 46.0h4.8M607.2 75.3h3.0M616.3 57.6h3.0M592.6 103.5h7.0M575.9 59.1h10.2M590.2 68.0h1.9M638.5 56.6h1.9M606.4 56.3h2.2M598.3 78.4h4.2M604.0 41.4h4.1M599.1 92.7h3.2M611.9 77.1h4.8M596.9 68.1h6.4M603.7 69.9h4.4M605.7 95.2h2.6M590.6 21.0h4.4M610.3 86.8h6.1M582.0 104.0h3.0M623.3 25.1h1.9M604.1 81.2h4.0M584.8 85.0h3.0M592.9 78.4h3.4M604.5 44.7h3.0"/><path class="g v" d="M613.3 63.0v3.1M589.7 66.5v2.3M609.3 82.2v3.3M598.1 47.2v4.8M606.2 66.8v1.2M614.0 56.3v4.0M608.6 34.3v2.6M589.1 116.2v0.9M612.0 82.4v5.6M594.8 68.9v2.1M594.1 44.5v3.1M636.3 36.8v1.1M595.2 68.1v0.9M611.3 78.8v3.4M610.6 96.2v1.0M599.4 32.3v0.4M606.6 103.4v1.2M612.0 56.6v0.6M597.8 85.6v3.9M603.1 72.0v1.0M580.9 45.3v1.6M608.5 73.8v2.7M617.9 55.3v4.9M596.6 102.5v2.3M581.1 58.4v1.2M591.3 65.4v5.7M639.6 55.9v1.3M607.4 54.0v4.5M600.5 76.3v3.6M605.9 41.1v0.7M600.6 91.9v1.5M614.0 76.6v1.0M600.3 67.5v1.2M606.2 69.3v1.3M607.1 94.0v2.3M592.5 20.2v1.6M613.2 86.4v0.9M583.5 103.2v1.4M624.3 21.5v7.7M606.2 79.0v4.3M586.5 84.5v1.0M594.9 77.1v2.6M606.0 44.1v1.4"/><path class="G h" d="M599.0 92.4h3.2M591.7 93.7h3.0M609.8 77.3h7.4M581.9 71.1h3.0M601.6 65.3h3.1M595.6 71.5h3.1M600.3 58.4h3.6M580.1 121.0h4.8M607.3 51.7h7.0M604.4 126.1h6.3M608.1 63.2h5.6M609.7 83.5h2.9M600.7 64.0h5.7M578.7 58.7h5.5M600.2 60.6h4.6M591.4 92.6h6.4M582.4 85.0h3.0"/><path class="G v" d="M600.7 91.7v1.7M593.2 92.9v1.6M614.0 75.6v3.6M583.5 69.2v3.8M603.4 63.1v3.7M597.1 70.4v2.0M602.0 56.9v2.7M582.8 120.5v1.1M611.1 50.2v2.6M607.3 125.5v1.3M610.7 62.7v1.0M611.1 81.8v3.3M603.4 62.9v2.2M581.9 58.0v1.3M602.2 58.8v3.4M594.6 91.2v2.8M584.0 83.4v3.2"/><path class="y h" d="M608.1 64.4h7.1M594.6 31.0h6.0M602.8 76.1h5.8M588.6 34.0h3.7M590.9 80.0h3.1M610.2 70.1h4.3M596.6 65.7h4.3M590.5 76.0h3.1M609.1 64.4h8.4M600.1 78.5h3.3M609.0 35.1h5.2M599.0 66.9h2.4"/><path class="y v" d="M612.2 63.9v0.8M597.6 29.8v2.5M605.6 75.0v2.2M590.4 33.1v1.7M592.4 79.1v1.6M612.1 69.7v0.7M598.8 64.7v1.7M592.1 75.1v1.6M612.7 63.3v2.0M602.0 77.9v1.1M611.6 33.3v3.2M600.2 66.5v0.7"/><path class="r h" d="M604.6 58.8h5.1M601.9 62.7h3.6M606.7 66.0h7.9M606.8 58.1h5.6M603.6 81.7h3.7M601.8 91.8h2.5M610.5 82.4h8.5M592.4 67.6h7.7M609.1 92.5h6.6M609.8 82.8h3.5M609.4 69.3h3.0M627.1 56.6h2.4M588.6 76.4h7.1M603.2 74.8h2.3M609.3 54.2h5.3M606.7 90.4h4.3M588.4 67.5h2.7M601.9 79.7h3.6M599.0 108.7h4.5M602.5 65.4h5.1M587.7 93.2h4.0M600.7 73.3h5.1"/><path class="r v" d="M607.4 58.4v0.9M603.9 61.9v1.6M611.3 65.3v1.2M609.9 57.3v1.7M605.2 81.3v0.8M603.2 89.9v4.4M614.4 81.4v2.2M595.8 66.9v1.3M612.0 91.8v1.2M611.8 81.7v2.2M611.1 63.2v11.1M628.4 50.8v10.0M591.9 75.5v1.9M604.5 73.5v2.8M611.8 53.4v1.6M608.8 89.7v1.4M589.7 67.0v1.1M604.0 76.3v6.6M601.0 108.4v0.6M604.9 65.0v0.8M589.7 91.8v2.5M603.6 73.1v0.5"/><path class="g h" d="M599.9 54.6h3.1M608.6 82.9h2.2M583.4 32.7h12.4M609.0 41.6h5.4M595.3 55.1h10.8M601.0 58.1h6.2M602.8 63.6h1.9M580.2 72.4h3.2M608.8 43.0h3.7M610.7 79.0h3.9M611.4 75.9h9.2M585.4 133.3h4.3M597.5 65.7h4.6M594.2 94.8h2.7M601.0 40.2h5.0M601.0 50.1h3.6M607.0 128.0h4.3M598.9 82.9h12.6M602.8 85.5h5.9M585.8 48.8h3.3M597.4 92.7h4.0M605.4 85.9h7.2M582.7 121.1h5.4M608.4 65.5h7.5M590.8 68.8h5.7M604.4 41.1h5.1M599.9 74.3h4.2M583.4 125.5h4.9M589.8 53.2h3.2M614.1 67.1h2.0M596.3 49.8h2.1M586.1 56.6h5.5M600.9 51.2h7.2M585.4 50.8h4.3M593.2 82.9h2.8"/><path class="g v" d="M601.7 53.1v3.0M609.9 78.7v9.2M589.0 31.8v2.0M611.4 41.3v0.8M600.9 54.0v1.9M604.0 56.7v3.1M603.7 62.8v1.5M581.7 71.0v2.5M610.4 42.6v0.8M612.4 78.1v1.9M615.7 75.2v1.5M587.8 132.5v1.7M599.8 63.8v4.1M595.8 94.6v0.5M603.6 38.9v2.5M602.7 49.9v0.4M608.9 127.6v0.8M604.9 82.2v1.6M605.6 81.9v8.0M587.4 47.8v2.0M599.3 92.1v1.4M608.8 83.7v3.9M585.2 120.5v1.3M612.6 65.0v0.8M593.3 68.4v0.8M606.8 38.9v4.9M601.8 73.6v1.3M585.8 124.6v2.1M591.3 52.4v1.8M615.2 66.3v1.3M597.2 48.1v3.4M588.7 55.7v1.9M604.2 49.8v2.7M587.5 50.1v1.3M594.6 74.9v14.7"/><path class="G h" d="M588.7 50.9h3.1M603.1 41.3h7.1M598.3 62.6h3.2M606.5 58.7h4.2M594.6 50.5h3.7M601.8 101.2h4.7M596.3 57.7h2.9M614.4 61.4h1.4M583.0 94.5h2.3M604.9 78.2h3.3"/><path class="G v" d="M590.2 49.7v2.8M606.3 39.7v3.5M600.0 60.9v3.3M608.4 56.1v5.5M596.7 49.5v1.7M604.2 99.8v2.3M597.9 53.0v10.0M615.2 60.9v1.0M584.3 93.7v1.4M606.6 77.1v2.2"/><path class="y h" d="M600.4 65.7h3.2M599.9 54.7h4.9M595.8 70.1h3.6M611.7 52.1h1.9M615.0 55.2h7.5M597.9 62.6h3.9M592.9 87.0h6.3M605.9 74.9h8.2M601.7 71.6h6.0M605.5 61.6h4.5M611.1 67.4h4.4M610.2 57.0h2.7M609.8 75.2h5.1M608.7 59.9h2.5M617.4 66.2h5.4M590.4 65.4h6.6M599.5 34.8h2.0M607.4 102.0h3.2M579.4 70.7h6.6M597.4 106.1h3.9M602.6 61.5h7.1M595.3 93.2h2.0M593.9 53.6h7.4M634.9 30.8h2.2M577.3 126.5h3.0M593.0 85.3h4.6M590.0 48.0h13.0"/><path class="y v" d="M602.1 64.8v1.8M602.7 53.4v2.3M597.5 69.6v1.0M612.6 51.7v0.7M618.3 55.0v0.3M600.0 61.3v2.9M596.6 86.4v1.3M609.7 73.1v3.6M604.4 70.7v1.8M607.7 61.1v1.3M613.4 61.4v10.3M611.5 54.9v4.8M612.4 75.0v0.5M610.0 58.5v2.9M619.9 66.0v0.4M594.0 64.8v1.3M600.6 34.3v1.0M609.3 101.0v1.8M582.5 68.9v3.2M599.5 104.7v2.8M606.2 60.3v2.5M596.3 92.0v2.2M597.6 52.1v2.9M635.9 27.4v6.0M578.9 126.1v0.7M595.3 84.8v0.9M595.8 47.2v1.5"/><path class="r h" d="M592.3 89.9h4.9M602.7 96.2h5.2M638.0 71.8h4.7M603.2 62.9h5.8M619.6 80.6h3.0M578.8 71.3h2.4M607.8 75.7h7.8M613.0 80.8h5.2M596.9 55.5h4.0M616.1 69.4h3.2M599.4 75.5h2.9M606.7 73.6h5.1M604.6 74.0h2.4M593.2 57.7h5.6M607.7 101.3h2.6M607.9 55.1h4.6M594.7 129.3h4.8M596.4 73.2h4.1M615.6 74.1h2.0M596.4 83.3h4.5M598.2 87.0h4.6M590.9 59.9h2.9"/><path class="r v" d="M594.6 88.7v2.2M605.2 95.4v1.5M640.1 70.3v3.2M605.9 61.6v2.4M621.0 80.0v1.4M579.9 70.6v1.6M611.5 75.0v1.3M615.9 78.5v4.6M598.7 55.1v0.9M617.5 68.3v2.2M600.8 74.7v1.8M609.7 72.6v1.9M605.9 72.0v3.6M595.8 57.2v1.0M609.1 100.7v1.4M610.0 54.2v1.6M597.0 128.2v2.4M598.4 72.3v1.5M616.5 73.6v1.0M598.7 80.7v4.8M600.7 86.3v1.3M592.3 58.8v2.1"/><path class="g h" d="M602.9 97.0h2.9M595.4 79.1h3.5M601.9 74.1h2.2M581.3 65.2h3.7M580.3 40.4h4.4M584.0 85.7h3.4M599.7 35.9h5.0M581.1 87.8h3.1M601.4 74.6h2.3M595.8 69.0h4.3M590.7 40.8h6.4M588.6 68.2h2.9M607.0 110.4h4.6M612.7 62.4h3.8M613.6 80.2h3.7M607.5 57.0h4.0M603.8 59.7h2.5M607.7 71.9h4.8M579.7 74.9h5.8M606.2 25.3h2.8M616.1 36.1h2.9M583.6 81.5h7.5M599.2 44.4h2.3M606.2 100.0h5.1M604.3 67.3h5.4M596.0 55.2h8.6M586.4 67.8h6.2M605.2 102.9h3.7M596.3 46.0h3.6M600.0 41.3h4.2M598.5 67.3h3.7M581.2 102.1h3.1"/><path class="g v" d="M604.4 94.8v4.5M597.4 78.8v0.7M602.8 70.0v7.9M583.3 64.2v1.8M582.2 39.8v1.2M585.7 81.0v8.3M602.6 35.3v1.1M582.7 86.3v2.8M602.5 71.5v6.6M598.1 68.4v1.3M594.3 39.9v1.5M590.2 66.8v2.6M609.2 110.0v0.7M614.5 62.0v0.7M615.3 79.2v1.8M609.4 56.1v1.6M605.1 58.5v2.4M610.4 71.4v1.0M582.3 74.6v0.7M607.8 24.4v1.9M617.8 35.0v2.4M587.4 79.6v3.8M600.4 43.6v1.6M608.6 97.2v5.2M607.1 66.3v2.3M600.2 54.6v1.3M589.6 67.4v0.9M606.9 102.6v0.8M598.3 41.6v8.8M602.1 40.5v1.8M600.2 65.7v3.0M582.9 101.7v0.8"/><path class="G h" d="M597.3 70.6h6.7M598.3 64.5h7.3M581.8 49.8h3.7M589.4 55.5h5.1M596.3 84.6h3.3M596.8 91.6h3.8M591.3 77.9h5.3M600.3 43.5h2.5M601.5 76.2h2.7M599.5 67.5h3.8M603.9 64.5h3.9M600.0 64.2h2.8M585.1 91.0h2.6"/><path class="G v" d="M601.1 70.0v0.9M602.2 63.7v1.7M583.8 47.4v4.0M591.9 53.1v4.9M598.1 82.4v5.1M598.9 91.1v1.0M594.4 77.1v1.6M601.5 43.0v1.0M603.1 75.3v1.8M601.7 67.1v0.7M605.9 63.8v1.3M601.6 63.0v2.2M586.5 90.6v0.8"/><path class="y h" d="M589.7 81.7h4.0M636.4 52.6h2.7M591.0 75.3h3.0M603.7 92.5h2.9M594.4 101.6h3.8M590.2 84.6h2.8M593.8 117.4h2.8M604.4 59.9h4.2M599.4 83.7h3.3M598.8 76.8h2.3M616.5 63.3h2.5M593.7 78.1h4.2M591.1 50.0h4.7M602.1 44.5h4.0M606.1 105.8h1.5M607.3 76.3h4.8M600.9 70.7h4.6M605.5 55.0h4.1M602.9 47.0h7.3M609.7 53.3h3.2M605.6 92.9h4.7M611.2 93.0h3.6M605.5 61.1h3.3M592.9 65.3h6.0M605.5 76.2h3.9"/><path class="y v" d="M592.0 81.2v1.3M637.6 51.3v2.9M592.8 75.0v0.6M605.0 91.6v1.5M596.1 100.7v1.9M591.7 83.2v2.4M595.3 115.2v5.1M606.7 57.3v5.5M600.9 82.5v2.7M600.0 76.1v1.1M618.0 62.6v1.2M595.6 74.8v7.3M593.4 49.1v1.6M604.4 43.5v1.9M606.9 105.0v1.6M609.8 72.6v8.3M603.2 70.2v1.1M607.5 53.7v2.8M606.7 46.6v0.8M611.1 52.2v2.2M607.7 92.7v0.3M613.1 88.9v8.4M607.0 60.0v2.1M596.3 64.5v1.5M607.3 75.4v1.8"/><path class="r h" d="M613.5 58.6h4.5M602.4 104.1h3.3M604.6 126.7h2.3M608.3 104.8h4.7M604.6 82.0h4.9M594.8 98.5h3.0M609.0 74.3h3.3M593.0 97.7h4.1M601.4 76.9h5.4M656.5 67.9h2.0M625.5 28.0h2.0M627.0 40.4h1.8M657.0 67.6h1.8M629.5 65.2h2.5M598.6 67.0h5.8M606.1 84.8h2.8M600.6 113.4h4.0M596.2 87.9h6.6M582.5 71.6h5.7M626.4 28.3h2.2M612.1 91.5h4.0M595.7 70.4h4.4M596.8 68.0h5.7M578.5 96.6h1.7"/><path class="r v" d="M616.1 57.8v1.4M604.3 103.3v1.8M605.6 126.2v1.2M610.4 104.3v1.3M606.8 78.6v7.5M596.4 97.0v2.9M610.6 73.7v1.2M595.0 96.6v1.9M603.9 75.8v2.3M657.5 66.0v3.5M626.5 18.0v20.0M627.9 39.5v1.8M657.9 66.0v3.0M630.7 64.0v2.5M601.3 65.8v2.4M607.5 81.9v5.1M602.3 112.7v1.3M599.6 87.2v1.2M585.2 70.6v2.0M627.5 27.3v2.1M614.2 88.2v6.7M597.7 69.0v2.6M599.5 67.6v0.8M579.5 95.2v2.9"/><path class="g h" d="M602.3 77.0h3.6M597.5 53.8h2.2M588.8 54.2h3.1M609.7 53.9h1.8M583.6 30.5h6.1M604.6 71.7h4.5M604.4 87.8h3.8"/><path class="g v" d="M604.0 75.9v2.6M598.5 52.6v2.7M590.2 53.4v1.4M610.6 52.3v3.6M586.5 29.5v1.8M606.6 70.7v1.9M606.2 87.1v1.6"/><path class="G h" d="M590.5 62.8h5.6M594.2 54.6h2.4M605.7 56.7h3.6M607.4 69.3h7.1M605.1 100.4h5.8M606.2 44.3h3.0M603.5 72.3h6.3M595.9 61.0h6.6M596.2 35.7h5.2M600.6 53.5h5.2"/><path class="G v" d="M593.4 62.4v0.9M595.3 53.7v1.7M607.6 55.6v2.6M610.6 68.2v2.3M608.3 99.2v2.1M607.5 40.8v6.0M606.4 70.9v2.9M599.2 60.0v1.9M598.5 34.6v1.9M603.0 52.2v2.3"/><path class="y h" d="M606.9 41.7h3.0M598.4 54.4h6.0M592.9 65.4h5.0M607.4 73.0h5.6M612.8 54.2h5.5M595.4 86.3h6.9M602.9 63.8h3.6M592.5 44.9h4.0M603.4 100.8h1.7M619.7 60.4h2.8M589.1 90.4h3.4M598.9 87.1h3.5M584.4 96.9h2.9M602.0 60.0h3.3M572.8 44.1h11.3M596.9 59.5h6.2M604.8 63.2h5.3M635.4 47.4h2.1M610.2 91.1h6.6M599.8 77.6h8.4M600.7 92.3h4.7M601.2 66.8h2.8M599.6 82.2h5.3M590.9 111.8h4.4M588.9 70.2h5.3M574.0 105.9h5.4M609.1 100.8h2.8M637.9 44.3h1.3M584.6 56.7h3.7M606.1 105.3h2.0M608.8 64.1h3.5M600.8 82.9h3.5M588.0 60.0h4.0"/><path class="y v" d="M608.2 41.0v1.5M601.7 53.7v1.7M595.0 65.2v0.6M610.2 66.5v12.5M615.8 50.3v6.9M598.6 85.3v2.3M604.6 63.1v1.3M594.7 40.4v10.2M604.2 99.6v2.4M621.4 60.1v0.6M591.0 88.6v4.2M600.9 86.2v1.5M585.8 95.7v2.2M603.6 57.9v3.7M578.4 43.1v2.3M599.8 58.5v2.3M607.3 61.9v3.0M636.6 46.6v1.4M613.3 90.6v1.2M603.8 76.5v2.0M602.9 84.3v16.6M602.8 66.0v1.5M601.9 81.4v1.7M593.1 110.8v2.0M591.6 69.3v1.6M576.7 105.2v1.5M610.8 98.4v4.1M638.6 42.3v3.6M586.5 56.2v1.0M607.1 105.0v0.5M610.9 62.2v4.5M602.4 80.7v4.5M589.9 58.8v2.4"/><path class="r h" d="M599.1 76.5h5.3M604.0 61.1h1.6M594.6 73.9h1.8M610.8 92.6h4.5M599.4 74.4h3.5M594.3 76.3h9.4M615.0 95.9h6.1M603.9 91.6h4.2M611.2 72.7h3.0M607.3 67.6h12.2M592.1 80.7h9.7M600.4 81.5h4.8M590.2 96.2h4.5M594.9 75.2h4.0M600.1 58.9h3.4M588.3 46.7h4.0M600.6 60.9h9.1M614.5 74.3h2.0M608.3 89.2h8.4M633.7 33.6h3.5M609.1 73.5h3.1M604.6 67.7h6.2M602.8 60.9h3.2M596.6 81.7h4.0M582.3 43.7h4.3M605.0 84.9h4.7M601.3 65.5h3.1M593.8 92.2h5.7M605.1 87.7h5.3M589.0 76.5h6.1M598.7 80.7h4.2M586.5 61.7h2.6M612.6 58.4h2.5M598.3 73.6h4.9M596.2 74.0h3.5M611.5 51.0h3.1M603.8 81.5h1.8M582.5 76.4h3.2M611.4 58.1h5.7M611.4 62.5h1.7M606.4 97.4h3.2M611.9 71.1h5.2M599.3 81.1h3.6M607.7 45.0h3.0M611.2 108.5h3.1"/><path class="r v" d="M601.5 74.7v3.4M604.7 60.3v1.6M595.7 72.3v2.9M613.0 91.8v1.5M601.5 74.0v0.8M599.5 75.4v1.6M618.1 94.7v2.5M605.9 90.7v2.1M612.5 69.3v6.3M612.9 67.0v1.2M596.5 79.8v1.6M602.5 80.4v2.0M592.7 95.2v2.1M597.1 74.5v1.3M602.0 58.2v1.3M590.1 45.2v3.3M604.6 59.2v3.2M615.6 73.8v1.1M613.0 87.9v3.2M635.6 31.2v4.2M610.7 73.1v0.8M607.4 66.8v1.7M604.4 59.3v3.1M598.8 80.8v1.9M584.7 43.2v1.1M607.3 83.6v2.3M603.1 63.9v3.5M596.4 88.3v7.2M607.5 86.9v1.7M591.9 75.1v3.0M600.6 80.2v1.0M587.9 59.5v4.7M613.8 57.5v1.7M601.1 72.6v1.9M597.9 73.2v1.8M613.1 50.3v1.5M604.8 80.8v1.3M584.0 75.2v2.4M613.9 56.6v2.8M612.2 53.7v17.5M608.0 95.2v3.8M614.1 69.7v2.8M601.1 79.3v3.6M609.1 44.3v1.3M612.7 106.6v4.2"/></g><g clip-path="url(#cd)" fill="none"><path class="g h" d="M62.5 331.8h4.1M60.2 344.0h4.5M63.3 290.2h2.0M97.5 334.5h3.6M53.2 340.3h5.9M57.6 286.0h53.0M97.4 336.5h5.6M84.2 334.8h4.7M82.5 334.7h15.5M57.0 325.8h3.4M94.8 329.1h13.4M56.9 300.9h70.3M96.8 327.8h12.6M60.8 319.7h3.2M58.6 306.1h50.4M69.7 336.6h2.8M84.2 322.7h6.0M88.1 325.3h3.3M55.7 296.2h59.6M82.9 294.7h2.0M84.4 339.5h11.2M74.5 324.1h2.7M59.0 287.2h47.6M82.9 287.8h2.0M87.0 315.6h7.5M109.2 309.1h6.8M77.3 327.3h6.0M57.3 301.4h31.8M75.9 324.4h3.5M51.1 349.3h6.2M57.3 299.0h39.5M65.6 342.3h13.4M113.6 313.2h8.1M84.7 336.8h3.8M68.4 341.3h8.1M56.3 307.8h73.4M59.7 293.4h59.9M75.1 327.0h4.8M102.1 324.9h6.2M58.5 296.6h66.8M98.1 328.4h3.1M85.5 329.9h3.6M59.8 291.3h46.7M59.8 292.3h58.9M56.0 284.1h39.2M57.1 286.7h73.0M84.9 329.2h3.3M70.7 342.6h4.5M104.6 310.0h7.0M56.5 295.1h35.1M64.3 325.9h2.0"/><path class="g v" d="M64.6 330.1v3.6M62.7 336.3v15.3M64.3 266.6v47.2M99.1 331.0v6.3M56.3 337.2v6.8M79.9 284.6v2.7M99.9 330.8v11.5M86.3 332.2v5.8M89.6 330.3v8.7M58.5 322.9v5.3M102.5 325.4v8.3M96.2 298.5v4.5M102.4 322.8v10.7M62.4 313.2v11.8M102.1 304.6v2.9M71.0 333.0v7.0M86.9 318.6v7.0M89.5 319.7v12.7M69.4 293.4v5.4M83.9 271.7v46.0M90.7 335.2v7.5M75.8 315.2v16.1M78.7 285.9v2.5M83.9 264.7v46.3M90.7 310.0v10.0M112.5 297.6v20.7M80.4 322.6v9.2M82.6 299.0v4.5M77.4 322.0v5.4M54.7 348.2v2.1M72.3 296.7v4.3M71.8 341.1v2.4M117.7 302.1v20.1M86.5 329.6v13.6M73.1 327.2v31.4M63.7 299.9v15.0M80.2 290.6v5.2M77.7 324.6v5.4M105.3 307.4v30.5M76.9 293.4v6.1M99.5 323.2v10.0M87.4 327.3v5.6M74.1 288.7v4.9M90.5 290.2v4.1M92.2 280.3v7.3M99.0 283.3v6.5M86.6 326.9v4.6M73.2 339.9v5.0M108.1 305.7v7.7M83.7 289.4v10.8M65.3 323.0v6.6"/><path class="G h" d="M59.9 302.4h45.7M65.1 319.9h5.0M84.2 319.8h5.7M59.4 296.7h25.1M59.0 301.1h50.7M56.8 288.4h58.5M59.8 291.7h50.3M58.0 280.3h50.5M59.8 297.7h53.9M58.8 305.9h46.9M58.1 287.0h54.3M56.2 289.4h30.8M59.0 293.6h58.4M60.4 324.5h3.2M58.6 277.7h35.5M84.0 324.8h4.9M57.0 282.4h41.0M91.6 310.3h5.2M57.1 286.8h56.5M69.7 342.5h4.0M89.6 329.3h3.9M59.7 297.8h27.0M69.9 339.8h8.2M84.8 311.4h6.5M54.3 346.9h4.8M59.9 296.6h62.8M59.5 346.7h5.2M90.3 333.4h2.2M105.2 292.5h2.0M87.9 329.1h7.4M84.5 336.9h4.5M55.8 297.5h62.6M58.4 289.4h33.9"/><path class="G v" d="M68.0 298.9v6.6M67.6 310.9v16.2M87.1 309.6v18.5M65.1 290.6v11.6M96.5 298.1v5.7M86.9 285.1v6.4M70.7 287.4v8.1M97.3 277.2v5.8M97.9 296.0v3.3M83.0 304.0v3.7M104.6 285.0v3.8M68.5 288.1v2.3M87.3 292.5v2.1M62.0 319.2v11.1M86.5 275.0v5.1M86.4 322.2v5.6M78.6 280.9v3.0M94.2 298.3v21.5M77.2 285.1v3.3M71.7 334.8v16.8M91.6 326.4v5.7M71.3 296.7v2.1M73.6 337.0v5.4M88.1 299.9v20.7M56.4 339.9v12.5M97.6 295.7v1.7M62.3 340.8v10.8M91.5 327.1v14.2M106.2 263.2v58.7M92.3 318.7v21.3M87.1 334.4v4.6M69.0 296.0v2.8M79.0 286.7v5.2"/><path class="y h" d="M61.1 307.0h6.5M75.3 301.0h8.0M55.0 306.4h6.0M72.2 327.3h2.3M100.0 333.0h4.7M72.3 344.2h3.0M108.6 294.7h2.0M90.1 310.1h4.7M74.0 327.9h6.9M86.1 337.5h4.7M69.4 355.4h5.6M77.5 335.4h13.7M57.3 292.7h62.1M68.7 330.8h4.8M67.7 337.1h4.7M52.8 365.2h4.1M89.2 338.9h5.4"/><path class="y v" d="M64.3 299.3v13.9M79.3 297.0v7.3M58.0 300.6v10.4M73.3 323.7v8.3M102.1 331.3v3.6M73.8 339.6v9.3M109.6 278.0v33.5M92.4 299.7v18.7M76.9 322.9v9.8M88.5 330.3v13.7M72.5 349.7v12.0M84.4 332.9v5.4M101.0 289.6v6.0M71.4 327.4v6.4M69.9 333.3v8.0M55.2 360.4v9.3M92.2 333.4v12.6"/><path class="r h" d="M58.7 297.1h45.6M57.1 309.5h34.9M55.1 287.2h52.1M58.6 305.2h36.2M93.1 301.4h6.3"/><path class="r v" d="M98.4 294.6v4.8M62.7 307.3v4.1M79.3 283.7v6.7M83.1 301.1v7.8M96.2 296.6v8.7"/><path class="g h" d="M56.3 299.9h78.0M80.1 312.5h4.5M80.0 330.9h5.4M61.6 315.6h3.6M73.6 349.4h3.0M60.5 322.4h8.2M57.5 288.4h2.0M86.5 342.2h4.6M56.2 281.7h61.6M106.1 329.6h4.1M56.8 300.4h46.9M55.5 279.4h53.3M110.3 302.9h2.0M54.1 362.9h2.4M57.2 308.1h52.9M110.8 299.5h2.0M73.9 337.8h12.7M77.9 331.2h6.8M58.3 281.8h50.9M82.1 309.5h4.5M59.0 301.3h5.7M93.1 328.8h6.0M90.3 324.2h10.9M98.4 326.1h3.0M83.4 325.0h9.1M82.2 327.2h3.7"/><path class="g v" d="M100.2 295.1v9.3M82.3 302.3v18.3M82.7 325.6v9.6M63.4 310.3v9.5M74.9 345.0v7.6M64.5 313.8v15.5M58.5 263.4v50.1M88.9 338.2v6.8M67.7 279.4v4.3M108.5 325.3v8.0M86.5 298.7v3.2M66.6 276.4v5.7M111.3 291.6v22.6M55.4 357.3v10.6M73.8 302.3v11.1M111.8 284.7v29.5M79.6 335.5v4.8M81.0 323.2v18.1M84.6 278.7v5.9M84.4 298.5v19.8M61.9 289.9v20.6M95.8 324.4v8.2M96.3 321.3v5.2M99.8 322.0v8.8M88.0 322.6v4.8M84.3 322.2v10.0"/><path class="G h" d="M86.0 337.4h8.2M53.3 344.2h3.4M58.4 301.1h57.4M52.7 362.6h6.2M55.0 333.1h5.7M78.0 327.0h7.5M59.7 291.3h69.2M56.6 303.3h5.8M58.4 302.6h33.9M57.1 313.1h66.8M64.0 307.0h13.8M108.3 326.3h6.9M84.7 341.5h4.7M57.7 283.8h65.2M90.6 316.6h13.8M65.4 309.0h4.1M55.9 291.1h64.2M55.0 294.4h43.0M55.8 291.1h34.6M58.7 302.2h47.0M87.7 330.1h5.1M94.2 308.3h9.4M58.7 285.0h34.6M57.3 291.0h56.5M77.8 325.8h2.7M63.7 333.9h8.5M56.0 301.1h62.8M57.7 299.1h77.3M59.8 297.8h50.2M112.1 314.8h10.6M76.2 339.4h4.8M71.2 335.2h11.6M60.4 311.4h1.8M77.1 313.9h12.4M43.8 369.5h6.5M75.7 325.8h4.0"/><path class="G v" d="M90.1 336.6v1.5M55.2 340.1v7.1M80.5 300.0v2.2M56.1 359.6v6.8M58.1 330.7v5.3M82.3 323.0v7.3M66.5 287.4v7.3M59.5 291.9v20.6M70.7 298.8v7.3M64.4 309.4v7.1M70.9 301.0v10.8M111.9 319.7v15.0M87.1 339.7v3.7M97.8 274.9v16.9M97.6 307.5v16.3M67.5 297.7v20.3M101.0 284.8v11.9M74.2 291.0v6.4M76.0 288.5v5.0M92.1 299.9v4.3M90.1 328.7v2.7M98.9 300.8v13.5M84.3 282.8v4.1M101.5 286.0v9.5M79.0 318.3v13.7M67.8 328.2v12.7M72.3 298.1v5.7M68.2 294.5v8.7M70.8 294.0v7.3M117.4 306.2v15.4M78.8 336.6v6.4M77.1 332.4v4.9M61.4 300.6v19.4M83.3 307.4v11.8M46.6 366.2v7.2M77.6 317.0v18.5"/><path class="y h" d="M81.3 332.6h6.8M56.3 278.0h44.2M75.3 328.1h1.9M61.8 362.4h2.4M57.7 348.8h5.3M92.3 330.0h7.7M101.4 319.2h7.2M78.3 346.2h10.4M81.7 325.9h6.6M74.8 334.1h8.1M59.1 325.8h10.1M77.3 324.6h7.2M91.0 335.6h12.8M106.9 329.1h4.2M63.7 323.4h5.9M55.8 333.9h5.2M102.1 326.5h3.8M75.7 332.5h3.7M79.7 334.1h6.9M80.5 334.9h8.4M90.2 330.5h6.8M96.1 326.4h6.2M51.6 344.3h6.4M54.3 332.2h16.7M56.2 340.0h5.5M78.6 349.5h3.5M91.4 336.7h6.9M74.2 330.7h11.8M50.4 357.8h5.4"/><path class="y v" d="M84.9 328.0v9.7M68.8 275.7v4.5M76.2 326.6v3.1M63.1 358.8v6.3M60.1 341.7v16.2M95.9 327.2v5.5M104.9 310.5v15.6M83.1 345.1v2.0M85.0 318.1v14.1M78.8 330.1v7.4M63.5 321.3v7.7M81.1 320.1v9.6M96.8 331.7v7.0M109.3 322.9v11.4M66.9 321.2v4.7M58.5 331.6v4.7M103.8 318.7v13.2M77.8 329.9v5.5M82.9 328.5v10.2M84.6 330.9v7.0M94.0 326.8v6.7M98.9 324.1v4.4M55.1 341.6v6.1M63.2 328.6v6.3M58.6 337.7v5.2M80.3 346.4v5.6M94.5 328.7v17.4M79.7 328.9v3.0M53.2 354.0v8.2"/><path class="r h" d="M66.1 306.6h4.9M56.2 303.2h60.1M87.8 334.2h3.3M53.6 359.7h4.9M88.5 337.6h6.7M81.1 343.6h4.1M80.4 343.6h4.5M77.9 340.1h5.1M70.6 329.7h5.5M88.3 343.9h4.5M67.0 328.4h1.9M58.9 355.2h4.6M72.9 334.1h5.9M56.0 332.7h4.5M74.8 340.1h3.5"/><path class="r v" d="M68.6 300.1v11.6M70.4 299.1v7.8M89.4 331.3v5.9M55.8 352.3v13.0M92.3 332.4v10.8M83.3 341.6v3.9M82.7 337.5v13.6M80.4 334.3v11.2M73.3 316.6v29.9M90.5 336.6v15.6M68.0 327.0v3.0M61.3 348.8v12.5M76.0 331.0v5.4M58.1 324.6v18.3M76.5 337.6v4.5"/><path class="g h" d="M75.0 334.5h16.9M100.2 312.2h7.5M109.5 314.7h2.5M88.3 332.5h2.7M61.2 356.3h12.5M102.9 304.9h5.9M46.2 373.9h4.0M61.3 302.6h5.9M78.0 318.9h4.9M74.1 328.2h4.4M47.1 370.9h3.9M78.9 324.3h10.1M65.2 326.2h3.2M87.5 325.0h3.4M82.3 326.7h6.2M56.4 361.3h11.8M101.7 314.1h4.4M110.5 325.1h3.7M75.4 326.5h6.6M94.4 326.3h5.0M94.3 323.9h4.0M47.9 356.6h13.2M101.5 334.1h6.2M86.0 313.4h6.5M84.6 322.6h2.3M74.1 322.3h4.3"/><path class="g v" d="M82.4 327.7v14.6M104.0 302.8v17.0M110.7 308.4v11.4M89.8 328.7v6.8M66.7 352.5v6.9M105.9 293.2v21.0M48.1 369.4v9.1M64.2 294.3v15.0M80.4 310.4v15.4M76.1 323.0v12.0M49.2 366.1v8.2M84.4 316.3v16.1M66.6 312.2v31.3M89.2 320.1v9.6M85.9 322.5v8.9M61.8 355.7v12.2M103.9 309.3v8.7M112.4 320.8v8.9M79.2 324.1v5.2M97.0 322.2v9.4M96.4 319.0v9.0M55.2 354.2v4.2M104.4 330.1v7.1M89.3 307.6v10.4M85.8 317.1v9.6M76.0 317.8v8.8"/><path class="G h" d="M92.5 341.4h3.7M72.6 332.4h3.1M96.8 322.2h3.7M76.2 324.6h10.9M71.1 301.3h11.3M64.8 345.3h4.2M59.8 341.0h3.1M74.3 330.2h7.6M42.1 371.6h10.0M62.0 325.6h3.1M70.3 322.1h8.8M75.5 314.8h2.4M110.1 331.2h6.3M45.6 371.8h4.0M91.2 318.5h18.8M66.2 323.2h7.4M77.3 323.2h2.4M89.0 337.2h5.1"/><path class="G v" d="M94.3 333.2v14.2M74.1 325.6v12.8M98.7 316.3v10.6M81.6 318.1v11.7M76.7 296.3v9.1M67.2 335.5v21.8M61.6 338.6v5.3M77.9 326.8v7.1M46.8 370.2v2.8M63.5 322.8v5.2M75.0 316.4v11.5M76.7 309.2v10.2M112.9 324.6v14.0M47.8 366.0v10.1M100.6 306.9v20.7M70.0 312.9v18.4M78.6 315.3v14.9M91.7 334.3v5.5"/><path class="y h" d="M55.0 361.8h6.5M61.6 337.0h7.5M48.7 368.2h4.3M60.7 319.1h5.2M72.5 339.6h11.0M66.0 347.1h4.4M73.5 333.7h6.2M105.5 334.8h2.8M59.7 319.0h5.5M82.7 344.8h3.0M100.3 313.3h8.6M71.6 330.3h7.3M84.9 326.6h2.8M44.3 370.2h4.3M71.1 330.9h5.0M114.6 327.5h4.6M105.4 333.7h1.3M98.5 335.4h4.3M98.4 331.8h13.5M67.3 316.4h3.4M90.6 338.2h4.9M75.7 339.3h3.7M95.9 333.1h10.0M70.0 323.2h5.3M67.1 332.5h3.0M95.6 309.8h8.2M76.8 333.2h14.4M95.9 336.6h10.0M80.0 326.1h9.5M118.0 327.1h2.4M76.3 339.0h3.0"/><path class="y v" d="M58.1 360.5v3.0M65.9 333.4v6.3M50.9 362.7v10.5M63.3 314.5v8.2M77.7 336.3v6.9M67.9 345.8v2.7M76.6 329.2v9.8M106.9 329.9v9.0M62.4 314.0v8.9M84.2 340.3v8.3M104.6 308.2v9.1M75.0 324.8v10.1M86.2 314.7v20.2M46.6 365.5v9.0M73.9 328.5v4.2M116.9 321.3v12.2M106.1 319.6v26.5M101.0 328.7v15.1M104.3 326.4v12.3M69.0 308.6v14.1M93.2 328.2v22.3M77.3 336.8v5.4M100.6 331.5v3.7M72.6 321.8v3.2M68.8 328.9v6.4M99.8 302.2v13.7M83.9 322.9v17.8M100.6 329.7v13.9M85.1 317.4v20.0M119.4 321.5v9.7M77.9 335.0v8.8"/><path class="r h" d="M69.6 339.1h5.2M110.2 331.2h3.9M53.6 355.2h3.4M53.4 359.4h7.4M82.4 333.4h7.5M97.2 332.2h3.7M66.9 344.3h12.7M88.6 339.8h7.6M106.4 331.4h5.6M84.4 339.9h16.1M60.3 334.7h4.3M60.1 351.8h2.4M75.9 345.7h3.0M46.3 369.1h4.7M54.9 336.1h3.8M94.4 337.5h4.1M44.2 372.4h4.7M79.0 348.9h4.5M98.1 335.9h4.5M83.4 338.2h5.2M60.4 342.0h6.9M53.3 358.4h7.8M92.0 334.0h9.0M89.0 324.3h7.9M79.8 349.0h3.2M61.2 346.1h6.8M93.2 334.5h6.4M84.8 326.8h6.6M84.0 335.8h4.6M91.0 334.7h7.3M83.8 325.0h4.6M85.5 344.2h4.8"/><path class="r v" d="M72.4 336.2v6.1M112.1 322.8v15.7M55.5 349.7v10.8M57.4 352.6v14.0M86.4 330.1v6.9M99.4 322.7v20.9M73.0 338.1v10.8M92.1 338.0v3.8M109.4 328.4v6.7M92.0 335.8v9.1M62.5 328.8v13.4M61.5 344.9v13.8M77.6 342.3v6.6M48.7 364.3v10.6M56.8 334.4v3.9M96.4 335.0v5.1M46.4 366.6v10.4M81.5 344.5v7.5M100.5 328.8v14.1M85.9 336.5v3.5M63.8 337.7v9.1M56.8 352.8v11.6M96.3 331.2v5.5M92.9 318.4v11.1M81.1 344.9v7.9M64.3 340.0v12.2M96.2 326.1v19.2M88.3 323.0v8.5M86.1 330.1v11.8M95.0 330.1v10.4M85.9 318.4v13.8M88.3 341.9v4.1"/><path class="g h" d="M62.6 341.4h4.1M60.6 309.8h3.9M105.2 324.0h7.0M169.8 291.4h25.2M186.4 290.9h33.9M157.2 296.5h26.4M129.9 286.1h29.2M148.7 305.5h19.8M60.5 300.0h1.5M88.0 300.0h2.0M91.0 300.0h2.5M95.0 300.0h2.0M107.0 300.0h3.0M73.5 300.0h2.0M55.0 284.8h77.0M60.7 273.9h21.7M36.0 375.6h7.0M73.2 337.3h3.1M79.4 317.7h5.7M55.3 335.5h4.5M82.6 341.4h3.9M94.8 339.2h4.4M54.7 351.1h6.0M62.0 343.1h9.2M56.6 301.8h2.5M75.8 331.1h9.0M75.1 344.6h8.2M60.2 361.0h7.3M70.5 336.3h5.5M77.4 349.7h2.7M85.9 317.2h12.1M71.2 334.8h2.6M95.1 326.4h5.0M78.9 345.4h9.3M103.5 321.4h5.8M61.7 315.2h7.9M66.6 325.5h3.7"/><path class="g v" d="M64.9 337.9v7.4M62.5 299.5v18.5M108.9 320.4v6.4M180.7 252.2v63.1M197.3 279.6v17.8M168.5 282.8v32.5M144.6 273.3v36.7M157.2 297.0v18.3M61.3 260.7v79.3M89.0 258.8v61.2M92.2 252.2v67.8M96.1 262.6v57.4M108.4 267.0v58.0M74.5 278.6v41.4M85.0 282.0v5.0M75.0 271.0v5.0M39.0 373.0v5.5M74.5 329.9v16.9M82.2 311.8v10.5M57.4 330.1v11.8M84.8 338.0v6.5M96.8 332.2v14.4M58.1 342.6v17.2M66.4 336.8v11.8M57.8 297.0v8.7M79.8 323.1v17.2M78.8 340.6v8.6M63.8 358.6v4.9M73.1 334.3v3.4M78.8 344.8v9.4M92.0 307.1v18.2M72.7 331.3v7.3M97.5 321.9v10.2M83.1 341.5v8.8M106.4 314.9v11.6M65.6 306.9v15.0M68.4 318.2v13.3"/><path class="G h" d="M70.2 338.6h7.2M74.2 331.7h5.3M86.0 301.5h7.4M75.5 340.2h4.9M86.0 332.4h3.6M107.8 316.2h7.1M96.1 330.8h4.5M83.0 341.2h4.0M61.9 331.2h9.0M67.2 324.0h8.7M62.8 307.5h2.6"/><path class="G v" d="M74.0 334.9v8.2M77.1 325.7v13.1M89.7 294.0v13.5M77.9 333.7v13.2M88.1 326.9v11.8M111.4 311.6v8.3M98.5 323.6v15.5M84.9 338.4v6.2M66.0 328.3v5.1M71.1 319.5v8.2M64.2 301.4v11.0"/><path class="y h" d="M83.7 339.4h5.4M108.8 330.7h7.5M71.1 323.1h2.4M62.0 348.9h4.4M68.3 334.4h10.9M59.6 326.9h7.6M83.5 330.8h6.6M128.0 308.1h36.7M57.5 300.0h1.5M126.0 298.0h2.4M52.8 277.9h95.2M95.3 324.6h5.4M89.0 324.9h9.2M57.8 331.4h6.7M84.7 330.9h2.3M59.4 334.6h6.4M78.1 327.0h6.5M93.0 328.3h4.4M59.1 338.1h3.5M58.7 335.3h8.3M93.1 330.0h5.8M58.3 356.8h2.9M64.2 341.4h2.9M75.6 328.1h4.4M94.4 335.9h8.3M68.1 342.4h10.8M81.4 331.5h13.7M73.5 329.5h9.7"/><path class="y v" d="M86.2 336.1v6.7M112.4 327.4v7.4M72.4 319.7v7.1M63.9 346.8v4.4M73.7 332.8v3.3M63.2 321.9v10.9M87.0 328.6v4.1M145.9 278.0v50.5M58.3 232.5v107.5M127.2 278.2v39.6M100.0 276.0v4.0M98.2 318.6v12.7M93.9 316.8v18.1M60.9 326.9v10.1M85.7 325.4v10.8M62.5 328.2v12.3M81.4 325.3v3.7M95.3 318.4v16.9M61.0 334.1v7.1M62.5 330.7v8.0M96.4 323.4v14.8M60.0 349.1v15.6M65.6 339.4v3.5M78.0 324.2v6.9M98.5 331.9v8.9M74.0 341.2v2.4M87.9 328.2v6.7M78.2 323.2v14.0"/><path class="r h" d="M82.3 330.8h2.1M77.2 308.9h11.2M52.3 349.3h7.7M61.1 337.1h2.6M60.9 352.6h12.6M80.4 342.0h4.2M82.9 329.6h3.4M80.5 334.1h6.4M88.9 338.2h8.2M54.4 342.5h7.9M99.4 335.6h5.2M76.6 325.1h6.1M66.0 336.2h6.2M54.3 354.2h4.2M68.4 342.8h7.6M53.8 347.0h4.4M67.3 331.3h17.4M82.2 340.4h4.8M80.1 334.7h4.2M88.4 334.0h7.8M73.2 346.2h7.1M81.9 329.0h2.4M80.3 344.8h7.0M80.5 339.3h4.4M53.0 352.2h5.4M83.3 330.1h5.5M64.8 336.5h14.0M66.4 334.0h7.6M75.0 309.1h8.3M102.0 329.5h7.8"/><path class="r v" d="M83.5 324.1v15.3M82.9 300.6v14.9M56.4 344.5v8.9M62.4 330.5v11.9M67.0 350.6v3.6M82.6 334.5v14.2M84.8 325.2v8.5M83.4 331.6v5.4M92.8 334.1v8.4M58.9 337.1v11.0M102.0 328.4v13.4M79.5 318.5v14.4M68.9 331.9v8.9M56.8 348.8v9.6M72.0 338.9v6.7M56.3 342.4v10.4M75.0 328.2v6.3M85.0 337.1v5.9M82.3 332.1v5.9M92.3 329.3v8.6M76.4 344.2v3.5M83.0 325.3v7.6M83.7 337.0v16.0M82.9 337.1v3.7M55.6 349.5v5.5M85.8 322.1v16.6M71.4 331.7v10.0M70.3 328.7v11.5M79.2 302.6v11.8M105.5 327.7v3.6"/><path class="g h" d="M71.9 348.7h14.2M80.4 347.2h6.8M74.7 326.3h31.1M66.9 336.0h2.1M64.6 341.0h4.2M80.8 330.4h3.9M63.7 343.4h3.3M56.1 328.1h4.4M83.0 330.5h7.2M75.2 331.5h5.8M80.2 342.8h5.4M53.5 356.3h3.2M100.6 333.4h4.3M83.8 341.7h5.8M72.5 342.1h3.2M63.5 328.8h6.4M56.6 356.1h6.0M92.2 325.2h9.4M63.4 345.0h6.1M86.1 324.2h9.8M67.4 338.9h11.4"/><path class="g v" d="M78.7 342.7v11.0M83.4 333.3v30.9M90.7 320.7v10.0M67.9 327.0v18.0M66.5 339.0v4.4M83.0 327.9v5.4M65.3 329.6v25.0M58.3 324.5v6.2M86.4 324.7v13.1M78.3 327.3v8.0M82.7 337.3v11.0M55.3 346.6v21.0M103.1 329.7v7.2M87.2 337.0v10.3M74.3 338.9v6.3M67.0 323.6v9.4M59.6 352.8v6.3M97.1 320.7v7.7M66.2 340.6v10.1M90.8 321.8v4.5M72.9 335.3v6.2"/><path class="G h" d="M90.6 324.0h5.8M80.4 327.5h4.6M100.5 336.5h2.4M65.4 327.5h8.6M65.4 334.5h10.1M88.8 325.2h6.5M96.3 331.4h3.1M72.2 327.5h2.3M52.6 340.7h9.7M77.3 344.1h9.5M76.2 334.0h8.9M74.2 333.6h4.8"/><path class="G v" d="M93.7 321.7v4.5M82.5 321.9v11.3M101.6 333.7v5.3M70.1 324.6v6.4M70.6 331.5v5.2M91.7 319.7v10.7M97.9 328.5v5.3M73.4 324.0v7.9M57.1 334.7v13.8M81.8 340.0v8.1M80.4 329.4v9.7M77.0 329.7v6.7"/><path class="y h" d="M56.5 352.8h2.2M84.5 329.7h2.7M107.2 328.2h5.8M65.2 324.0h3.5M55.0 333.0h3.8M87.6 323.6h2.8M75.9 331.3h8.3M74.4 344.1h3.9M74.4 345.9h4.0M65.1 333.2h2.3M72.4 339.8h7.3M89.3 334.9h11.3M103.9 327.7h3.1M85.3 325.5h5.7M72.7 324.3h8.0M94.8 324.5h7.1M84.3 330.7h2.9M81.8 323.9h3.9M75.3 345.0h4.3M88.8 328.4h9.1M109.6 326.0h3.6M75.2 351.1h2.9M100.9 326.4h5.9M98.8 323.7h2.6M86.2 335.5h7.8M49.1 370.2h9.2M106.4 327.3h9.1M47.9 330.6h26.6M86.8 326.0h8.4M62.7 352.9h5.4M48.3 367.8h9.1M100.2 331.6h3.7"/><path class="y v" d="M57.6 348.2v8.2M85.9 325.5v7.7M109.9 325.2v6.8M67.0 317.7v13.9M56.9 322.7v22.4M89.2 319.4v7.8M80.2 322.2v15.8M76.5 340.4v6.5M76.6 344.0v4.3M66.1 327.2v11.0M75.7 336.7v6.9M95.1 330.9v7.3M105.6 324.1v7.2M88.6 321.8v7.6M77.0 321.4v6.6M99.0 320.4v9.3M85.8 326.2v9.7M83.9 321.7v4.8M77.4 341.9v6.1M93.9 323.6v10.1M111.4 323.0v5.8M76.8 349.8v2.4M103.9 319.7v12.3M100.1 319.7v7.3M90.2 325.4v22.1M53.2 366.4v8.2M111.2 324.8v5.2M60.2 326.7v8.6M90.9 322.1v7.5M65.4 337.0v30.2M52.9 359.3v17.1M101.9 322.4v19.2"/><path class="r h" d="M49.2 366.0h7.1M95.1 332.5h5.2M56.2 345.6h7.3M97.5 328.6h7.9M79.8 342.5h4.9M80.7 340.4h4.5M86.4 329.5h14.0M106.8 330.4h18.3M78.2 345.6h6.6M72.5 340.6h6.1M57.0 364.1h4.6M84.7 343.0h10.3M56.1 338.5h5.6M72.1 345.3h7.2M63.1 346.7h12.1M84.1 344.0h5.2M70.4 348.8h8.1M72.3 338.2h5.7M71.7 343.4h5.1M94.0 339.5h2.0M86.9 326.2h5.6M47.5 351.4h12.4M88.9 340.7h12.1M84.4 332.1h2.3M93.3 332.8h2.8M83.4 343.5h6.1M72.5 335.7h5.8M78.3 338.4h7.5M71.4 353.3h2.9M78.0 340.9h6.6M61.8 330.6h5.7M90.7 325.5h2.8M74.1 349.8h4.2M99.0 336.5h3.4M98.1 337.1h5.5M57.5 344.8h2.0M85.7 331.0h7.2M61.1 349.3h4.8M89.7 324.7h3.6M63.8 339.1h5.7M56.2 362.7h2.9"/><path class="r v" d="M53.1 360.0v11.1M97.8 328.9v7.4M60.5 342.3v7.2M101.0 323.4v9.3M82.2 337.3v9.7M82.8 336.7v7.2M93.1 326.1v7.4M114.9 326.4v7.7M81.5 336.9v19.6M75.5 331.4v18.5M59.6 361.5v5.6M89.5 338.9v8.4M58.9 331.9v14.3M75.4 342.5v5.7M69.9 343.5v5.9M87.1 339.7v9.6M74.2 344.7v9.1M74.9 334.0v7.2M74.0 341.8v3.3M95.0 337.4v4.8M89.5 323.2v6.1M54.1 347.0v7.7M94.7 337.1v7.3M85.5 329.8v3.9M94.7 327.1v12.2M86.3 338.2v9.4M75.3 329.6v10.5M81.5 329.7v15.3M72.9 351.2v4.5M81.2 338.4v5.1M64.8 326.1v8.4M92.3 322.0v7.1M76.4 347.7v4.6M100.8 329.1v14.8M100.8 334.5v4.4M58.4 342.0v6.1M89.4 322.6v19.0M63.6 344.2v10.4M91.8 318.5v13.0M67.1 334.2v8.5M57.8 360.1v5.0"/><path class="g h" d="M55.9 362.0h4.3M101.5 330.8h3.5M61.2 324.8h3.6M95.9 327.7h8.8M69.7 325.0h3.4M103.4 326.3h4.0M97.4 325.0h4.4M72.7 327.9h6.8M83.7 328.5h3.2M44.5 371.1h6.1M60.4 325.4h3.1M54.1 347.5h5.4M50.2 370.6h4.6M98.1 337.5h2.5M83.7 333.5h4.8M60.2 331.2h4.7M54.1 346.3h10.5M75.6 340.4h3.7M67.3 328.5h8.0M47.4 362.5h7.2M85.2 333.2h9.1M101.7 329.3h3.7M77.8 341.2h5.2M58.8 333.6h8.4M93.0 330.6h1.9M71.7 353.7h5.0"/><path class="g v" d="M58.4 359.1v5.6M103.5 320.9v17.6M62.9 319.6v11.7M100.0 325.8v3.8M71.3 321.2v8.1M105.7 321.4v10.8M99.9 319.8v10.7M75.7 324.1v7.8M85.6 325.0v7.4M48.0 365.1v11.5M61.8 322.2v7.2M56.8 343.4v7.2M52.3 365.3v11.0M99.5 326.6v23.9M86.3 330.1v7.0M62.3 328.1v6.2M59.8 343.8v4.4M77.5 335.2v10.5M71.1 324.7v8.2M51.2 354.7v15.8M89.5 327.0v12.0M103.3 326.7v5.7M80.8 336.7v8.9M62.8 330.3v5.8M93.9 323.2v13.1M73.9 345.3v14.9"/><path class="G h" d="M84.6 332.5h7.0M61.0 327.2h3.5M88.6 331.8h5.2M76.8 323.1h4.0M77.4 333.6h8.0M76.3 334.3h7.1M70.8 326.7h5.2M90.3 343.0h2.5"/><path class="G v" d="M87.9 325.7v14.1M62.5 324.6v5.5M90.9 323.5v17.1M78.8 315.8v13.4M81.5 326.6v14.9M79.7 332.1v4.6M73.2 323.7v5.4M91.7 340.3v5.3"/><path class="y h" d="M73.0 332.1h3.5M80.3 323.6h5.0M70.9 340.3h13.0M83.4 323.9h10.8M85.0 328.9h5.7M48.1 363.4h5.1M64.1 344.2h2.3M49.6 360.2h4.4M100.1 336.5h2.5M79.6 338.8h6.2M69.8 352.5h3.5M54.7 326.8h5.2M85.0 331.9h3.5M102.7 334.4h5.3M93.4 332.8h3.5M92.6 332.9h3.1M97.3 326.9h5.9M80.7 347.2h3.8M98.3 337.7h3.8M78.8 322.9h9.6M91.2 326.6h6.0M89.8 327.0h8.7M93.3 335.6h8.8M68.4 325.0h4.7M59.8 338.9h3.8M76.3 333.7h6.6M73.7 331.0h5.7M71.4 350.3h2.8M65.3 354.8h8.2M105.7 332.4h4.1"/><path class="y v" d="M74.8 327.4v9.5M82.7 319.5v9.4M77.2 336.7v8.0M88.3 320.0v8.2M87.5 323.6v10.3M50.5 359.3v8.3M65.3 339.8v7.7M52.1 354.5v12.1M101.4 333.5v6.3M82.6 335.6v6.7M71.7 350.2v4.5M57.5 323.4v7.1M86.8 325.1v14.9M105.2 331.4v6.4M95.2 329.7v6.0M94.3 328.5v9.7M100.7 322.9v6.9M82.5 344.1v5.6M100.5 336.3v2.7M83.5 318.9v7.1M94.4 324.4v4.7M94.9 322.3v9.3M98.4 329.7v10.8M70.5 319.8v11.5M61.8 334.2v10.6M79.1 329.2v9.7M76.3 326.4v10.6M72.9 347.1v6.8M69.3 350.8v7.5M107.9 322.7v20.2"/><path class="r h" d="M79.3 328.2h4.3M102.8 329.4h11.2M71.4 331.4h5.5M88.2 340.6h3.7M87.8 341.1h2.7M83.0 335.6h8.4M51.7 367.4h5.1M84.7 328.6h5.9M82.7 336.4h5.0M54.2 341.4h6.9M99.1 329.6h4.2M81.3 334.4h6.9M50.9 354.8h4.3M80.1 342.1h5.8M72.8 343.3h4.4M78.0 328.5h3.4M71.6 333.4h2.2M104.0 334.5h5.6M87.6 335.8h3.1M73.1 333.4h7.5M69.4 334.1h4.5M66.6 349.7h2.9M96.3 336.1h3.8M50.0 362.6h2.7M56.7 339.7h3.9M104.1 332.4h4.4M99.9 328.7h2.3M106.3 332.1h4.2M58.3 328.9h5.8M71.7 336.9h7.1M57.6 345.9h8.4M80.2 340.2h3.5M57.8 349.2h9.0M52.4 360.7h3.6M89.3 332.1h3.5M72.9 333.0h4.0M93.9 334.1h2.5M99.2 332.4h7.9M50.4 357.5h3.8M86.6 345.0h3.7M89.9 339.7h3.9M50.9 369.7h4.8M88.2 338.8h4.1"/><path class="r v" d="M81.4 324.7v7.2M108.6 326.7v6.3M74.0 322.1v19.4M90.3 336.2v10.0M89.3 338.4v5.3M87.1 316.2v40.7M53.9 361.1v13.6M87.5 316.4v21.1M85.2 333.9v4.5M58.0 338.9v4.9M101.3 327.2v5.4M84.7 332.8v3.4M53.2 348.6v12.2M82.7 339.3v4.7M75.1 331.0v21.2M79.9 327.1v2.8M72.7 330.9v4.8M106.5 330.9v6.5M89.0 330.4v11.0M77.3 324.2v17.5M71.9 330.0v7.6M67.9 346.0v8.2M98.2 331.0v9.5M51.5 360.0v5.7M58.6 336.5v6.6M106.3 329.4v6.4M101.0 325.1v6.3M108.5 330.0v4.1M61.0 323.9v11.1M75.6 331.8v10.2M62.4 342.3v6.2M82.2 336.8v6.3M61.8 347.4v3.1M54.0 356.2v8.6M90.9 330.0v4.1M74.9 325.9v14.6M95.2 330.2v7.0M103.0 327.3v10.4M52.3 351.5v12.9M88.3 340.3v10.6M92.0 331.6v16.1M53.0 365.6v8.2M90.5 334.1v9.1"/><path class="g h" d="M56.9 329.9h4.5M104.2 332.3h3.3M98.0 324.3h2.1M66.5 347.3h4.6M67.0 335.5h4.5M56.3 341.9h5.2M86.3 337.0h3.0M52.5 352.6h10.4M77.9 332.5h4.4M75.7 327.2h3.0M76.5 322.4h2.8M115.3 328.2h3.6M77.2 347.8h6.5M81.2 327.4h3.4M91.1 332.2h2.6M76.0 327.8h17.9M61.6 340.7h4.7M118.2 327.1h5.5M82.4 326.4h2.2M62.6 336.7h3.9"/><path class="g v" d="M59.0 326.6v7.0M105.7 328.1v8.1M99.2 320.2v8.4M68.6 342.9v10.0M69.6 332.9v5.1M58.6 339.2v5.1M88.0 334.5v5.0M57.2 346.2v11.3M80.2 328.5v8.2M77.2 323.6v7.7M77.8 319.1v6.5M116.9 323.5v10.2M80.6 345.1v5.9M82.8 304.2v51.3M92.3 328.3v8.2M84.2 325.7v4.5M63.8 333.7v13.2M120.7 323.0v8.6M83.7 324.2v4.8M64.4 333.5v5.7"/><path class="G h" d="M85.4 330.5h1.4M95.2 334.5h7.6M82.8 328.2h5.4M86.7 326.9h8.8M88.0 339.0h8.3M61.2 325.1h5.3M61.1 333.0h4.7M81.4 337.1h6.5M69.6 326.6h4.6M96.7 329.1h6.9M39.6 373.4h6.9M84.7 334.7h2.8M76.7 327.8h5.2M78.1 326.7h3.2"/><path class="G v" d="M86.1 325.6v8.6M98.6 330.4v8.8M85.7 322.4v10.7M91.8 322.0v10.8M92.9 332.9v14.0M63.7 318.9v14.0M63.7 329.4v8.3M84.8 332.7v9.5M71.6 321.7v11.2M100.1 326.7v4.3M42.7 369.4v7.6M86.2 329.1v12.4M79.6 322.8v10.7M79.6 324.5v5.0"/><path class="y h" d="M71.2 346.9h4.5M61.1 346.9h3.9M67.1 340.2h4.7M83.2 342.7h5.4M80.5 339.7h3.9M96.1 328.3h6.1M47.0 364.3h7.7M67.8 339.9h4.6M70.6 348.0h6.9M77.6 325.9h3.1M105.3 332.4h10.6M81.4 331.2h11.5M91.8 338.7h3.7M58.7 359.6h3.6M55.5 329.9h4.6M83.4 323.7h4.2M68.9 325.1h4.2M103.4 332.1h2.9M83.4 335.2h6.1M88.8 338.1h4.0M97.2 335.8h12.2M53.9 325.1h7.0M92.9 327.8h5.2M71.7 331.1h5.4M82.7 337.8h9.2M81.4 324.1h8.2M58.4 342.3h5.4M48.9 363.0h14.4M73.0 323.0h6.0M85.3 333.1h7.0M95.2 328.2h3.1M95.1 323.4h3.7M63.2 324.8h11.5M68.2 335.0h8.3"/><path class="y v" d="M73.4 339.1v16.2M62.8 340.8v13.9M69.3 336.9v7.3M85.7 338.9v7.7M82.8 333.7v11.4M98.8 326.0v4.8M50.9 359.6v9.3M70.2 336.1v7.3M74.1 344.8v6.9M79.0 322.5v6.0M110.0 321.5v19.7M87.7 317.2v25.3M93.8 335.7v6.5M60.6 356.6v5.3M58.0 325.5v8.5M85.7 321.7v4.3M70.9 321.9v6.2M104.9 329.6v4.7M86.3 331.9v7.6M90.5 330.6v13.5M102.7 332.2v8.1M57.4 321.5v6.6M95.6 322.0v11.7M74.6 327.0v8.0M86.7 335.5v5.2M85.6 317.8v11.5M61.5 338.5v8.5M57.2 358.2v10.2M76.4 320.2v5.5M88.7 326.2v13.7M96.7 325.7v5.1M96.8 318.0v12.2M69.3 323.6v2.7M72.1 333.2v3.2"/><path class="r h" d="M103.7 331.4h9.5M72.6 350.0h6.6M53.8 353.5h6.6M60.7 329.6h5.8M84.7 344.1h4.2M99.0 290.0h2.5M125.3 310.3h11.3M54.7 279.2h70.6M68.8 288.6h49.9M45.5 350.0h1.5M77.6 332.6h7.1M92.0 329.7h7.7M78.5 337.4h3.6M88.1 341.4h9.4M112.0 330.1h5.8M75.9 331.9h1.4M70.2 331.1h6.0M62.7 351.0h7.8M63.2 340.3h2.6M50.4 362.0h5.9M63.6 342.6h6.2M57.4 350.3h3.0M75.3 345.3h4.8M67.5 330.1h4.0M93.8 333.4h5.9M106.6 329.6h5.1M57.8 342.9h7.4M54.5 347.9h5.5M101.5 330.4h3.6M56.8 359.1h16.4M47.4 369.4h5.8M90.3 342.2h4.6M75.1 330.4h3.5M80.1 340.5h4.2M53.0 334.4h7.0M81.1 343.7h3.4M57.6 329.6h1.8M48.3 365.7h5.3"/><path class="r v" d="M107.9 324.9v13.8M75.9 347.4v5.4M56.8 350.2v5.9M64.1 326.4v5.7M86.7 340.4v7.5M100.3 263.2v56.8M131.0 303.7v16.0M90.0 277.0v4.0M95.0 286.0v5.0M46.3 338.6v25.4M81.6 330.0v5.8M95.4 326.1v6.7M80.1 334.3v5.5M92.3 337.2v9.4M115.1 327.0v7.3M76.7 324.2v14.6M73.1 323.5v13.3M66.9 348.1v6.5M64.5 337.9v4.6M53.2 358.6v7.3M66.6 340.2v5.2M59.0 347.8v5.9M77.5 338.8v11.5M69.7 328.4v3.4M96.9 331.2v4.5M109.0 324.9v9.0M61.1 341.2v4.0M56.9 342.3v10.7M103.7 324.8v9.8M64.9 353.2v12.9M50.1 366.2v5.7M92.8 339.6v5.7M77.2 327.7v5.5M82.0 334.0v12.2M56.5 330.3v9.3M82.9 337.9v10.2M58.6 325.2v9.7M51.3 363.6v4.6"/><path class="G h" d="M85.3 328.8h3.9M73.9 325.3h3.3M58.1 339.7h2.6M50.1 356.7h9.2M94.0 329.5h2.8M71.3 350.4h6.9M64.9 335.0h4.7M93.0 334.4h6.7"/><path class="G v" d="M87.1 318.5v19.7M75.5 318.1v13.9M59.5 337.8v3.5M54.3 354.4v3.9M95.4 327.3v4.5M74.4 343.1v13.5M67.1 330.8v8.1M96.2 330.2v9.4"/><path class="y h" d="M109.5 324.6h5.2M65.8 339.2h9.5M89.9 325.5h5.0M76.7 339.4h4.8M45.5 364.8h9.4M71.1 350.6h2.2M82.0 332.6h7.6M100.2 325.3h4.4M44.2 370.0h5.3M106.2 326.9h3.3M75.2 330.9h6.1M90.2 333.3h8.8M94.9 324.8h1.4M71.2 346.7h5.0M66.1 346.4h5.1M75.4 331.0h5.8M72.6 325.9h7.4M57.7 352.9h8.2M48.9 365.9h5.7M46.5 370.6h4.7M48.3 357.7h11.7M94.7 327.5h4.9M63.8 355.1h8.6"/><path class="y v" d="M112.2 317.3v15.9M71.3 333.2v11.6M92.1 323.0v5.2M79.4 338.0v3.2M49.9 360.2v8.0M72.2 346.5v7.0M85.6 326.4v13.3M102.2 308.8v33.4M46.7 367.6v5.1M107.7 323.6v5.7M78.5 328.2v5.7M95.2 328.8v9.6M95.5 321.7v6.9M73.6 344.8v3.6M69.0 344.0v5.1M78.7 326.6v9.3M76.4 322.0v6.8M61.9 347.6v10.0M52.2 359.6v10.8M48.7 366.8v7.7M54.1 350.2v13.9M97.4 321.5v10.3M67.8 351.1v7.1"/><path class="r h" d="M55.8 336.2h3.3M64.2 334.2h2.8M62.1 328.0h4.3M72.4 329.9h6.4M84.7 344.7h2.6M93.6 332.0h3.1M93.1 336.2h5.6M72.5 322.8h3.6M68.2 328.5h9.3M59.8 351.5h2.1M51.3 334.7h23.5M81.0 332.0h5.5M51.6 351.1h4.6M88.8 343.4h5.6M72.5 344.7h4.4M71.8 343.3h2.4M60.1 353.8h4.6M80.9 323.3h8.8M96.3 323.2h4.1M76.7 334.3h2.7M75.9 341.3h4.1M60.4 344.1h3.4M101.4 334.4h3.6M112.1 328.9h6.5M94.8 336.8h3.6M51.1 360.3h1.8M65.1 355.4h2.9M68.8 351.5h6.7M77.3 345.2h7.0M101.1 336.2h6.5M72.8 343.2h7.7M78.2 323.5h7.6M72.9 349.5h5.3M78.3 337.0h2.2M78.5 350.0h4.4M60.9 335.0h5.7M95.9 328.1h9.4M104.0 328.7h7.2M56.9 332.4h9.0M100.8 327.3h6.8M56.2 347.1h4.0M78.9 346.5h9.3M86.7 330.3h10.0M71.1 334.9h3.8M96.0 337.2h3.9M72.1 332.1h7.1M47.5 353.3h12.3M88.5 332.8h3.5M61.0 333.8h4.4M67.7 356.8h2.9M73.1 336.1h12.3M64.1 344.8h3.9M114.7 328.3h4.6M58.3 346.2h2.7M55.1 344.2h18.2M65.1 334.3h4.8M57.6 347.4h2.5M63.0 323.4h9.2M69.8 340.0h11.5M70.9 338.7h3.7M66.6 342.4h7.4M58.9 352.2h11.6M78.1 332.6h7.1M55.1 342.8h14.0M83.9 333.5h8.3M80.2 330.8h4.8M67.8 331.2h3.4M75.1 333.6h7.1M65.9 346.9h5.1M87.7 328.9h3.5M68.5 340.1h5.0M62.9 348.6h5.1M52.9 352.1h2.3M61.5 351.5h7.3M89.4 338.7h7.2M65.7 353.3h10.2"/><path class="r v" d="M57.5 334.4v3.0M65.5 328.0v11.4M64.1 325.7v4.9M75.9 323.8v12.8M85.9 341.1v7.5M95.0 327.5v10.4M96.0 330.5v12.4M74.4 321.7v2.3M72.9 325.3v6.1M60.8 349.1v4.3M61.6 328.9v11.3M83.5 327.4v9.8M54.0 346.2v9.8M91.3 337.5v12.4M74.9 336.8v15.1M73.0 340.4v5.8M62.1 350.3v6.6M85.1 318.7v8.5M98.3 316.2v13.4M77.9 331.5v5.2M77.7 339.9v2.7M62.2 339.5v8.1M103.0 327.0v15.6M115.2 325.4v7.2M96.9 329.6v15.2M52.0 356.7v6.9M66.8 353.7v3.2M72.1 348.5v5.7M81.0 340.8v9.4M104.1 332.7v6.5M77.1 336.9v11.1M82.4 315.1v18.7M75.9 347.4v3.8M79.4 333.1v7.0M80.9 345.0v8.7M64.1 331.9v6.6M101.2 325.9v4.3M107.5 322.2v14.0M61.5 326.9v11.6M104.0 323.6v6.4M58.6 343.4v7.5M83.1 344.9v3.0M91.1 328.2v4.8M72.9 332.1v5.6M98.0 333.0v7.3M75.2 328.1v7.2M53.3 348.4v8.8M90.3 326.5v12.9M63.3 332.1v3.4M69.0 353.8v6.2M78.9 331.7v9.9M66.3 341.2v6.7M116.9 323.5v9.9M59.9 337.0v17.3M63.0 341.6v4.6M67.2 330.0v7.9M58.9 342.8v8.4M68.3 319.4v7.2M75.5 336.8v6.4M72.7 336.4v4.6M69.9 338.3v7.7M65.3 348.7v7.2M81.6 329.4v5.9M62.3 336.0v14.7M87.7 328.0v10.0M83.0 328.7v3.8M69.6 327.5v7.3M79.2 328.4v9.0M68.8 343.8v6.8M89.6 323.5v11.0M70.9 333.3v11.7M65.9 345.4v6.6M54.1 346.5v11.5M65.0 346.7v10.0M92.6 334.0v9.0M70.3 347.5v12.5"/></g><g clip-path="url(#ce)" fill="none"><path class="g h" d="M360.3 284.9h12.8M344.3 289.0h24.4M309.6 316.1h17.0M347.3 297.9h5.2M344.7 288.7h4.6M345.3 286.4h5.7M361.4 291.7h12.6M312.7 280.4h9.8M316.7 271.7h17.0M326.3 279.9h7.9M319.3 277.3h3.9M309.5 294.5h9.5M337.3 313.8h15.4M373.8 293.3h26.6M332.3 293.5h10.5M360.0 285.3h7.6M341.6 310.0h6.4M379.1 318.7h8.7M310.1 304.5h21.2M359.5 293.0h9.5M355.2 299.2h15.7M332.3 301.3h11.4M345.7 277.9h7.2M343.4 300.4h5.2M333.3 308.7h13.2M324.2 283.1h4.5M345.6 317.9h7.4M321.9 313.3h15.7M351.9 276.8h14.6M349.6 280.8h16.2M311.0 310.5h9.2M374.0 298.3h5.6M375.3 303.2h16.9M316.0 283.7h7.7M356.9 296.0h30.5M360.8 289.1h29.3M337.2 268.6h7.6M340.7 305.4h15.7M358.3 315.4h9.5M344.0 305.4h9.4M334.4 319.1h9.5M350.1 292.4h12.8M338.1 296.8h58.3M323.2 302.7h8.3M364.4 314.0h9.8M339.2 296.1h12.1M349.0 296.6h4.2M331.9 324.4h12.3M363.2 293.8h13.6M334.2 324.9h4.3M316.0 307.7h4.2M375.9 291.6h12.4M373.0 304.4h8.9M321.5 283.6h6.0M372.8 301.3h4.8M309.3 289.9h14.2M329.3 274.4h8.3M344.2 281.2h4.0M315.0 280.3h5.4M357.7 320.3h10.8M349.8 289.7h8.6M361.5 288.9h27.7"/><path class="g v" d="M366.4 282.9v4.0M354.9 284.4v7.9M317.1 310.7v9.8M350.3 294.4v6.7M347.2 283.6v11.6M347.7 283.2v6.8M367.1 282.9v17.6M317.9 277.3v6.0M324.5 260.4v25.7M330.1 278.5v3.0M321.3 275.4v3.3M314.7 290.2v9.1M344.2 310.7v6.9M387.0 287.9v9.2M338.0 291.2v5.1M363.3 279.6v12.7M344.7 305.1v11.1M383.2 315.1v8.0M320.6 296.8v15.3M364.6 289.4v6.3M362.6 294.4v10.8M338.1 297.9v6.5M349.0 276.8v2.1M346.2 297.5v5.9M339.4 303.2v10.7M326.5 278.6v9.0M349.1 311.8v13.9M330.4 309.9v6.3M359.3 273.2v7.2M357.7 275.6v9.6M315.4 307.9v5.1M377.0 292.1v11.0M383.3 300.8v4.9M319.6 277.6v13.2M373.5 292.5v7.8M377.6 281.2v16.9M341.1 264.1v9.5M349.0 302.1v6.3M363.3 313.6v3.7M348.6 303.8v3.0M339.5 313.6v12.4M356.6 289.6v4.9M364.4 292.0v11.0M327.4 300.3v4.9M370.0 310.6v6.1M344.5 292.2v6.9M351.4 293.0v7.2M338.1 321.1v5.7M370.9 291.9v3.5M336.4 321.1v7.4M317.9 304.8v5.3M381.6 287.9v8.5M377.2 295.8v17.5M324.8 281.7v3.4M375.4 296.5v8.9M316.7 286.0v8.7M333.0 268.5v12.5M346.3 278.2v6.7M317.5 275.1v9.5M363.3 317.8v5.6M354.3 284.1v10.7M374.1 283.4v12.4"/><path class="G h" d="M319.5 311.9h13.3M318.6 311.4h5.9M352.8 283.5h5.1M342.9 290.6h5.0M362.9 300.1h3.2M331.1 316.9h13.3M340.8 272.4h7.5M327.3 287.1h13.2M360.5 302.8h5.9M357.1 295.7h8.2M317.8 305.7h7.7M330.6 311.8h12.2M334.6 305.3h10.6"/><path class="G v" d="M325.5 303.5v18.5M322.1 307.9v7.4M355.7 281.2v4.5M345.5 286.7v7.7M364.6 295.0v10.5M337.9 306.7v22.5M344.7 270.1v5.0M334.5 284.1v5.4M363.9 298.7v9.3M361.8 285.0v24.1M322.0 299.3v13.4M336.8 306.7v9.9M340.1 303.0v4.8"/><path class="y h" d="M313.0 295.7h31.6M341.8 288.3h9.9M355.1 298.8h10.3M347.9 291.7h6.5M341.9 277.4h13.3M382.9 301.5h18.1M355.7 305.4h9.3M314.9 314.5h13.9M372.7 290.6h4.4M335.0 284.4h4.9M361.2 317.7h5.5M349.3 294.0h5.8M322.1 309.1h10.1M329.7 268.1h7.7M364.7 292.0h6.5M348.0 289.7h5.0M347.2 307.5h8.5M318.7 283.1h8.2M356.0 304.0h7.2M348.7 294.4h13.1M357.0 278.5h8.1M358.1 296.3h8.5M317.0 311.7h4.9M345.5 317.9h8.4M365.1 282.9h5.6"/><path class="y v" d="M331.3 293.1v4.6M346.3 286.5v3.6M359.8 292.7v12.0M351.3 288.0v8.0M349.5 271.4v11.6M391.2 299.1v4.6M361.0 303.0v5.3M321.3 309.9v9.1M374.6 287.6v6.0M337.8 280.7v7.4M364.3 316.9v1.5M351.9 290.2v7.7M326.6 300.5v17.1M333.4 262.1v13.0M368.3 288.7v6.3M350.4 284.7v10.3M351.0 304.7v5.4M322.5 280.3v5.3M360.1 302.5v3.4M354.6 289.6v9.8M360.7 276.4v4.7M361.8 292.1v8.1M319.8 306.9v8.9M350.0 314.7v5.6M368.3 281.2v3.2"/><path class="g h" d="M364.1 293.2h3.1M343.4 301.7h7.2M306.4 299.8h12.3M345.9 316.5h6.2M379.3 313.1h9.8M323.9 293.5h13.3M342.6 305.8h5.7M346.9 311.2h2.4M344.3 296.6h8.4M338.7 277.1h4.3M355.3 306.0h5.6M364.4 294.0h21.2M336.6 287.5h8.4M356.7 295.1h8.5M321.0 274.2h4.1M346.6 326.2h5.9M364.4 291.9h9.2M334.6 282.1h3.9M360.0 310.1h7.7M354.0 306.9h4.9M358.4 281.7h6.8M370.0 292.3h12.1M365.7 311.2h8.0M323.0 273.9h16.5M351.4 289.3h17.9M365.6 314.7h6.4M321.9 305.3h11.6M348.7 282.0h6.0M357.6 298.1h7.3M311.9 298.7h8.3M360.8 303.6h8.0M348.8 290.9h7.0"/><path class="g v" d="M365.6 283.3v21.9M347.3 297.8v7.8M312.7 297.3v5.2M348.6 307.5v15.6M384.5 305.8v16.8M329.7 288.9v8.0M345.5 304.6v2.7M348.0 306.7v10.3M349.0 293.1v7.9M341.2 270.7v11.0M358.3 301.6v9.4M374.9 281.7v25.3M340.7 285.5v4.2M360.6 286.2v15.2M323.2 269.1v11.6M349.5 319.4v11.6M368.8 288.1v6.8M336.6 278.5v8.0M364.4 304.3v12.8M356.7 304.5v5.4M362.0 278.6v6.1M376.2 288.8v7.2M370.3 308.1v6.5M331.9 271.2v6.0M361.1 287.7v2.8M368.5 312.7v3.4M328.5 300.9v7.9M351.5 278.5v7.1M360.9 294.8v6.0M316.0 293.6v9.5M364.4 299.1v7.8M352.3 287.7v6.2"/><path class="G h" d="M344.3 297.3h5.9M344.2 314.3h3.2M317.0 308.2h15.5M330.0 272.7h5.5M356.0 293.8h5.9M367.3 293.4h12.4M334.0 273.2h9.1M349.3 312.9h5.6M346.4 308.7h10.8"/><path class="G v" d="M347.2 294.7v4.6M345.9 309.5v10.0M324.5 305.5v5.9M333.2 267.6v10.3M358.8 292.9v2.1M373.4 289.5v9.0M339.0 270.0v6.2M352.3 310.2v5.8M351.6 304.6v8.8"/><path class="y h" d="M347.1 312.4h8.4M316.9 289.3h8.4M345.1 308.2h11.4M328.1 286.6h14.4M368.8 324.3h25.4M352.7 281.5h15.7M339.6 288.0h12.4M347.3 307.1h14.5M328.5 290.1h16.4M338.9 294.1h6.0M325.4 274.8h13.6M359.9 310.1h20.3M364.1 320.1h16.7M326.0 278.9h12.2M329.8 281.0h4.7M315.1 308.8h5.3M313.1 297.4h5.7M325.8 294.2h10.4M344.6 297.8h4.2M332.0 273.4h16.5M306.1 283.3h19.5M351.5 300.4h8.2M341.3 301.9h25.2M340.7 279.2h16.4M370.3 322.9h22.8M310.7 311.2h17.4M326.2 299.1h8.0M363.9 305.2h16.9M370.5 286.3h7.3M337.3 276.7h6.7M362.2 305.7h15.1"/><path class="y v" d="M351.1 308.3v8.8M321.2 282.2v14.2M350.5 299.9v15.7M334.8 281.8v10.2M382.5 321.8v5.2M361.5 275.6v12.6M345.8 284.5v6.5M353.7 299.8v15.0M337.5 286.3v7.9M342.4 291.2v6.5M331.6 267.9v12.7M369.7 307.6v4.7M373.3 314.0v13.4M331.4 274.7v9.3M332.5 275.2v12.6M318.1 303.2v10.6M316.3 294.2v6.0M330.6 292.3v3.3M346.6 292.2v9.5M339.9 271.1v4.1M315.7 280.7v5.9M356.0 294.1v12.8M353.2 300.3v3.1M348.0 274.8v8.7M383.3 319.1v8.0M320.0 307.9v5.9M330.5 296.9v4.1M372.5 303.3v3.6M374.0 280.2v13.1M340.6 266.8v22.4M369.2 298.5v16.0"/><path class="r h" d="M340.2 293.4h8.5M343.6 302.4h39.6M324.7 300.9h3.6M329.2 295.5h4.8M343.3 281.9h9.5M330.5 289.0h4.4M352.6 298.6h9.2M317.8 297.4h10.9M341.5 278.8h2.9M336.2 287.1h6.7M339.9 305.6h5.3M336.3 303.0h7.0M324.7 288.8h4.9M321.8 290.3h6.4M346.6 289.7h12.9M326.5 301.7h12.7M331.9 298.0h6.8M339.5 288.1h6.0M328.7 284.1h8.5M348.9 275.1h6.4M356.1 292.5h7.5M327.3 313.7h7.4M340.1 288.9h5.0M341.8 283.0h6.9M324.8 290.8h23.3M338.8 307.1h4.6M320.5 289.0h15.7M321.9 282.0h27.6"/><path class="r v" d="M344.6 289.0v10.0M362.9 298.5v8.4M326.9 296.5v8.3M331.4 291.1v9.8M347.6 280.5v3.0M332.7 284.4v8.6M357.0 294.1v10.0M322.6 291.0v11.3M343.0 274.6v7.3M339.8 284.7v5.1M343.0 303.0v5.4M339.4 298.6v9.0M327.3 287.4v2.8M325.6 288.8v2.9M353.4 287.2v4.5M333.7 293.9v16.6M335.5 291.6v13.2M342.2 283.4v9.0M333.4 276.4v13.4M351.7 272.5v4.3M360.3 285.1v16.9M330.8 307.7v10.4M342.5 285.6v6.2M345.1 280.8v3.8M336.6 287.2v7.2M341.1 303.9v6.5M329.4 281.9v12.6M334.1 278.6v7.4"/><path class="g h" d="M353.8 291.0h10.0M334.3 317.7h7.5M346.0 306.6h5.7M365.8 275.7h3.8M335.2 296.1h3.9M364.1 294.1h10.9M373.3 301.7h6.4M312.8 287.4h10.4M321.3 292.1h6.5M325.5 272.6h13.1M350.3 304.8h5.7M314.5 304.6h8.6M350.6 316.4h8.0M375.7 286.1h15.3M308.5 305.6h10.1M324.9 314.9h8.7M348.6 310.9h7.7M310.2 288.8h10.6M373.2 278.2h12.3M363.6 294.2h11.8M363.5 278.9h7.8M433.8 262.2h50.9M381.8 265.0h8.8M450.8 294.6h13.1M395.4 285.2h7.9M408.0 289.9h2.0M393.9 290.3h29.2M412.7 293.7h19.8M422.0 292.2h24.6M422.0 292.0h2.0M392.0 299.3h6.0M301.6 339.8h8.1M322.3 343.2h15.0M335.5 346.4h19.4M317.2 367.1h16.9M352.0 332.2h17.0M342.6 337.9h36.7M380.0 310.0h24.0M313.1 291.9h12.0M358.0 274.6h3.8M331.7 268.6h7.3M339.0 291.7h15.0"/><path class="g v" d="M358.7 287.9v6.7M338.1 310.5v15.6M348.9 302.7v7.4M367.9 273.6v3.9M337.4 292.1v7.5M369.2 287.6v11.1M376.8 296.9v8.3M317.6 285.4v4.0M324.3 287.8v7.9M331.8 266.9v10.4M353.6 299.4v9.3M318.2 300.4v7.7M354.1 313.0v6.9M382.5 282.2v9.0M313.7 301.8v7.7M329.8 307.8v12.4M352.2 306.9v7.6M315.9 284.5v7.9M379.4 275.0v6.4M369.2 290.1v8.9M367.9 276.0v6.5M445.3 229.6v66.0M386.0 260.7v8.5M461.7 287.0v14.6M400.5 284.0v2.5M409.0 278.6v23.6M405.0 289.5v1.5M425.0 293.0v1.5M432.1 287.0v10.0M423.0 286.0v13.0M394.8 298.5v1.5M306.3 330.4v18.8M328.9 337.5v11.3M342.6 331.3v30.1M319.6 357.7v20.7M359.6 322.8v28.2M360.0 337.0v1.8M395.0 309.5v1.0M318.8 290.2v3.1M359.9 272.3v4.9M335.3 265.6v6.3M345.8 289.0v5.6"/><path class="G h" d="M344.6 299.5h9.5M372.9 309.1h7.4M326.4 307.0h9.3M321.7 311.4h7.0M354.0 277.4h7.1M315.0 306.5h1.5M354.1 276.2h5.0M332.2 268.9h12.2M335.2 313.2h6.2M357.3 272.9h7.6"/><path class="G v" d="M348.9 295.9v6.3M376.6 305.9v6.3M330.6 303.6v7.7M324.8 308.4v6.6M357.5 272.6v10.0M315.8 301.8v9.2M356.7 269.1v14.1M338.2 266.4v4.4M338.3 310.2v5.5M361.6 270.2v5.5"/><path class="y h" d="M354.5 298.6h3.9M325.0 301.3h8.3M313.7 277.7h24.6M337.3 315.2h6.7M319.2 303.6h2.7M342.3 318.6h12.4M325.1 283.4h19.0M340.2 287.9h29.7M331.4 267.8h17.5M362.5 284.8h5.2M351.1 306.4h10.5M334.1 309.1h5.9M348.3 267.5h3.3M335.2 280.7h15.0M359.7 302.1h5.2M336.1 291.3h3.4M314.2 285.1h16.0M366.0 279.8h3.8M374.2 296.2h3.1M329.8 293.0h5.8M316.8 293.3h17.3M345.9 298.8h6.1M392.0 291.0h37.7M375.0 313.8h36.6M380.0 324.3h19.0M314.8 280.1h12.7M331.4 283.8h5.5"/><path class="y v" d="M356.6 292.3v12.9M329.3 297.0v7.6M324.8 272.5v9.3M340.7 313.6v2.7M320.4 302.8v1.3M347.9 315.3v5.9M334.2 282.5v1.8M354.1 285.3v5.0M340.5 251.7v36.7M365.1 278.5v10.7M355.7 303.4v6.3M337.5 305.7v5.8M350.1 264.6v6.5M342.3 272.0v14.9M362.4 296.0v13.1M338.0 288.6v4.6M323.1 281.8v6.2M368.2 277.9v4.0M376.0 286.9v16.7M332.8 287.9v10.1M324.6 291.6v3.7M348.8 295.2v7.8M410.8 279.6v22.6M395.0 313.3v1.0M390.0 323.8v1.0M321.7 278.2v3.9M334.2 281.7v3.9"/><path class="r h" d="M321.9 296.1h8.3M332.5 286.3h16.7M333.5 298.5h8.0M324.1 296.6h8.3M362.9 274.2h11.7M342.5 292.2h9.8M330.8 282.5h4.8M321.5 306.4h14.0M352.9 298.3h6.6M337.9 281.7h8.0M337.5 280.1h4.9M350.9 292.0h3.4M371.6 307.7h11.3M339.1 277.5h8.4M328.6 293.8h12.9M313.1 293.3h14.0M324.4 296.7h11.4M344.7 291.4h10.8M333.3 289.1h6.9M326.0 276.5h6.0M336.2 291.6h8.0"/><path class="r v" d="M325.5 292.4v8.2M340.1 281.4v11.2M337.1 293.4v9.7M328.5 294.3v5.0M368.5 270.2v7.6M347.7 289.1v6.6M333.2 277.9v9.2M329.0 304.4v3.7M356.0 295.0v6.0M342.0 278.9v5.2M339.9 273.7v13.9M352.8 289.4v4.6M377.7 306.8v1.8M343.6 273.9v7.4M334.3 285.1v15.5M320.5 289.3v7.1M330.0 290.3v14.2M350.9 283.8v14.3M337.3 286.8v4.4M329.3 273.3v6.0M340.0 287.9v7.4"/><path class="g h" d="M343.4 317.6h9.0M318.2 321.6h7.7M351.0 274.7h7.0M372.6 322.4h17.2M333.1 297.1h4.1M339.3 268.7h7.3M346.5 274.3h9.0M341.3 296.2h7.8M337.9 320.9h15.4M375.0 290.6h16.1M356.1 314.0h6.6M328.0 272.4h8.9M358.8 273.5h2.4M343.9 283.1h11.5M317.5 301.2h8.9M310.8 296.1h12.5M362.0 305.8h39.0M345.5 289.8h9.4M346.2 286.4h7.1M316.9 282.1h7.1M326.9 286.2h17.3M356.0 308.7h17.8M359.9 304.3h9.3M313.1 309.8h7.1M331.2 294.7h12.7"/><path class="g v" d="M348.6 312.6v10.4M321.7 318.6v5.6M355.0 269.3v11.6M381.3 320.0v4.6M335.1 288.0v17.2M343.3 264.1v8.3M350.8 268.2v12.0M344.8 287.6v18.7M346.8 315.1v12.0M382.5 286.1v10.3M359.7 311.0v6.4M332.5 267.2v9.0M360.1 269.2v7.5M350.6 280.5v4.8M322.2 293.1v15.0M317.3 290.4v10.1M380.9 302.4v6.4M350.2 287.0v6.2M349.8 283.1v6.0M320.2 278.8v6.1M336.3 281.5v10.7M364.7 302.6v10.4M364.3 301.1v6.1M317.2 307.6v4.0M336.8 290.2v10.0"/><path class="G h" d="M331.6 290.7h4.4M318.3 303.5h5.1M334.2 313.3h6.3M319.7 298.3h6.6M306.5 297.7h14.7M314.4 276.4h13.2M342.7 266.2h11.4M314.2 299.9h7.2M338.6 286.7h6.7M329.4 277.7h7.5M325.2 289.0h16.4M338.6 295.3h8.8M336.1 307.0h13.3"/><path class="G v" d="M333.6 287.2v6.7M321.2 301.2v4.1M337.4 308.7v8.9M323.4 296.4v3.8M315.1 291.3v13.0M321.5 273.1v5.9M348.0 263.7v5.7M317.7 295.0v10.3M342.2 285.6v2.4M333.4 275.0v5.9M334.5 286.9v4.4M343.3 290.5v10.6M343.1 304.2v6.5"/><path class="y h" d="M338.2 309.8h5.1M346.6 292.4h11.2M316.9 294.9h10.1M349.9 310.1h16.7M350.6 323.6h10.1M325.1 272.3h6.1M338.8 296.3h5.4M346.4 306.1h6.9M330.2 303.2h13.1M345.6 282.0h7.0M341.2 284.7h8.6M358.6 305.3h9.9M359.4 278.5h7.5M316.2 279.4h13.2M344.4 279.6h9.4M340.6 321.9h33.5M349.1 306.5h3.5M355.6 281.3h5.2M345.1 303.6h5.8M347.4 281.9h6.7M316.2 320.1h6.7M328.5 289.6h9.8M344.4 283.0h4.5M324.5 303.1h10.0M331.5 317.4h6.7M347.4 279.9h10.1M333.2 279.0h9.6M353.3 302.9h8.9M351.4 311.3h8.2M329.3 304.4h9.3M310.0 288.4h14.2M325.3 307.1h5.2M342.2 274.4h14.7"/><path class="y v" d="M340.7 307.1v4.6M352.0 288.7v7.0M321.9 292.8v4.1M357.3 305.7v9.2M355.2 315.3v18.6M328.6 262.3v17.8M341.9 293.2v6.8M349.5 303.6v5.4M336.0 300.2v6.5M348.8 277.1v10.2M345.0 278.5v13.4M363.9 300.7v9.6M363.1 274.7v8.5M323.2 276.6v5.5M349.3 276.8v5.0M358.1 318.5v7.1M350.8 302.2v8.1M357.9 275.5v12.4M348.3 297.3v14.3M351.1 280.7v2.4M320.1 318.5v2.8M333.0 282.4v16.3M346.6 280.6v4.3M329.8 299.0v8.8M334.7 313.1v9.7M353.1 273.2v13.5M337.6 271.3v15.0M358.2 301.8v2.5M355.1 307.2v8.0M334.5 299.2v9.9M317.3 283.0v11.4M328.0 302.5v8.5M350.5 268.3v12.0"/><path class="r h" d="M349.3 286.6h15.3M332.4 291.2h6.2M324.6 291.4h6.5M334.3 282.1h3.7M342.7 293.3h12.2M344.3 282.6h12.8M357.0 305.7h10.1M337.0 297.9h4.4M336.6 323.7h11.7M335.9 289.8h5.8M341.7 303.5h14.8M325.6 289.8h11.7M365.0 289.7h5.3M348.1 285.0h15.7M328.0 306.0h8.3M341.5 284.5h12.7M331.8 296.7h5.3M336.0 302.1h5.3M326.9 304.1h4.8M337.8 278.4h11.9M331.1 292.0h21.9M359.6 311.7h7.9M325.2 312.1h19.9M348.8 306.8h9.2M330.4 307.1h7.6M334.4 314.1h6.8M325.4 296.5h11.7M368.9 304.2h9.8M328.0 282.0h7.0"/><path class="r v" d="M356.4 284.6v3.4M335.1 288.1v5.8M327.5 289.3v3.8M336.3 280.0v4.0M349.0 288.9v9.6M349.9 278.0v8.5M362.2 305.1v1.1M339.5 294.6v7.4M341.8 318.7v8.9M338.5 285.5v9.4M348.5 300.2v7.4M331.6 286.1v7.8M367.3 286.3v6.0M355.2 282.9v4.1M331.6 300.1v10.6M347.5 280.6v7.9M334.1 294.2v5.6M338.5 297.2v10.8M329.6 301.9v4.8M343.0 269.2v20.9M343.4 287.3v10.3M363.8 304.9v14.0M335.9 309.5v5.2M353.4 302.8v7.1M334.5 303.2v7.0M337.5 311.5v4.8M331.6 293.2v6.4M373.4 291.8v28.2M332.0 278.0v8.4"/><path class="g h" d="M369.5 290.7h12.8M328.9 315.1h12.4M367.4 304.1h5.7M357.8 320.3h17.3M347.8 277.6h8.0M330.3 285.4h7.7M326.7 281.2h11.4M330.4 274.0h7.1M319.8 280.5h11.5M350.4 295.3h5.7M373.2 323.2h21.5M368.7 307.9h2.8M320.4 306.6h2.8M311.9 312.7h8.5M372.7 294.5h5.1M373.5 302.5h3.3M319.3 291.0h7.0M357.5 296.1h15.5M337.9 314.9h9.1M356.9 308.8h7.6M341.6 270.5h18.0M317.1 320.2h15.7M341.9 283.8h7.1M350.4 287.2h16.9M331.6 276.5h11.2M350.0 279.2h14.4M329.7 274.3h18.0M329.7 311.4h6.5M334.7 312.2h7.6"/><path class="g v" d="M375.2 287.4v6.7M334.3 312.2v5.1M370.5 298.5v10.9M366.6 317.6v5.4M352.0 272.1v11.1M334.5 281.3v9.4M332.2 275.9v12.0M334.0 267.5v11.3M325.0 275.9v9.9M353.7 291.5v8.7M382.8 319.6v6.9M370.4 304.6v6.8M321.7 302.1v8.9M315.8 310.3v4.5M375.4 291.2v6.2M375.1 298.8v6.5M322.6 286.0v10.7M364.8 294.1v4.6M343.0 307.7v14.6M360.9 305.1v6.9M351.2 265.3v9.3M324.2 316.5v6.5M345.6 279.7v7.5M358.8 285.3v3.5M337.3 269.9v11.3M356.9 277.2v4.6M337.7 268.3v12.7M332.6 305.2v13.4M338.4 310.1v4.8"/><path class="G h" d="M347.2 283.9h20.3M353.9 290.3h8.1M338.6 288.0h10.1M347.4 307.6h21.9M350.3 291.1h17.1M341.4 305.5h4.2M365.2 327.1h10.7M355.1 291.8h8.2"/><path class="G v" d="M358.7 281.7v4.1M358.1 287.7v5.3M343.4 285.1v6.4M357.8 305.6v4.3M359.8 289.8v2.8M343.6 302.5v5.9M371.5 324.9v4.4M359.1 288.0v8.0"/><path class="y h" d="M316.0 293.4h14.8M334.4 270.3h12.3M344.1 301.0h7.8M314.2 318.3h5.7M331.5 309.1h9.1M337.5 296.0h17.1M316.4 302.8h11.4M335.9 289.2h7.1M326.3 294.5h5.5M332.6 309.0h16.5M337.0 303.5h13.4M343.8 285.9h5.9M332.7 304.7h4.1M336.7 284.4h12.3M358.1 298.2h3.6M325.7 298.0h5.1M325.2 308.8h5.3M325.8 309.4h11.2M325.2 300.0h8.7M345.6 277.7h15.3M315.0 299.8h13.0M345.8 295.4h14.8M337.2 292.6h15.8M330.0 313.3h4.2M320.0 270.6h11.3M346.4 295.2h5.6"/><path class="y v" d="M323.7 290.8v5.7M340.1 258.9v22.6M348.3 299.7v2.3M317.3 313.2v9.9M335.6 304.9v9.3M347.0 290.1v12.0M323.0 301.3v3.1M339.5 287.8v3.1M329.2 292.5v3.8M341.7 304.5v8.6M344.5 300.5v6.8M347.2 278.2v15.1M334.6 300.6v7.8M342.4 282.0v5.1M359.7 295.9v5.0M328.4 291.2v14.0M328.3 306.2v4.7M332.3 301.4v18.2M329.7 296.5v6.0M354.1 269.1v18.3M322.3 296.6v6.2M352.9 287.5v13.5M344.3 286.3v14.1M332.3 311.6v3.7M325.6 267.6v6.9M349.3 291.6v6.2"/><path class="r h" d="M323.9 283.6h9.4M339.9 296.6h5.5M337.1 278.1h10.7M350.8 308.2h7.6M341.2 296.0h8.3M351.0 313.3h4.9M311.7 288.4h8.3M324.6 300.1h7.3M351.4 315.5h16.5M344.8 298.3h3.9M325.8 287.7h12.2M332.7 315.6h9.6M354.4 300.0h14.8M345.2 285.0h12.8M324.2 292.9h9.5M346.3 312.8h8.8M324.2 288.4h15.4M329.1 295.2h7.0M338.6 282.9h12.2M329.8 292.2h11.1M320.3 300.3h32.1M327.0 299.0h6.1M344.4 296.1h6.0M325.9 311.0h5.9M366.3 307.1h10.7M346.7 286.5h3.2M332.1 285.3h11.2M337.8 300.8h8.1M313.5 301.8h15.7M354.6 282.0h12.2M357.6 300.8h3.7M328.0 318.3h6.1M317.4 282.9h6.8M349.2 300.3h9.4M328.8 300.7h10.0M335.4 300.8h7.7M331.8 304.7h15.7"/><path class="r v" d="M328.2 280.9v5.6M342.3 292.9v6.4M342.3 275.1v6.4M354.9 302.2v12.0M345.7 293.5v4.8M353.6 308.2v9.4M315.3 286.7v3.5M327.9 285.1v32.0M358.9 311.8v8.4M346.8 292.0v14.5M332.8 284.6v6.2M337.8 312.0v7.6M361.8 294.8v10.8M351.4 282.5v4.4M328.7 289.4v6.5M350.7 309.6v5.9M333.1 281.6v12.9M332.2 292.5v5.7M345.6 275.6v16.6M334.7 281.5v18.5M336.3 285.4v27.3M329.9 294.6v10.1M347.2 292.6v6.9M329.1 305.0v10.3M372.1 304.6v4.9M348.3 282.3v8.9M337.4 276.8v16.2M342.0 297.6v6.0M320.5 297.6v9.4M360.7 278.4v6.6M359.7 299.1v3.0M331.4 315.8v5.2M321.2 278.6v7.2M354.0 295.9v7.9M333.9 294.5v12.6M338.9 293.1v15.2M339.9 296.4v14.8"/><path class="g h" d="M343.8 271.7h3.7M363.1 294.9h11.9M341.2 319.4h7.2M325.8 272.0h3.6M333.6 270.6h15.2M332.5 275.4h11.0M331.1 286.6h2.5M343.7 318.1h12.1M320.7 311.7h15.0M323.0 280.2h15.3M345.5 277.4h7.5M349.6 300.4h6.2M361.5 292.5h8.2M334.7 269.5h2.2M323.0 315.8h21.9M314.0 289.0h7.1M323.3 300.4h9.0M344.6 293.4h13.5M372.4 294.7h6.0M310.7 300.7h9.6M339.3 309.9h7.5M314.7 306.8h5.5"/><path class="g v" d="M345.5 268.1v7.6M368.3 290.0v10.6M345.3 315.1v9.5M327.4 267.7v7.9M341.5 267.3v7.6M337.8 270.8v9.6M332.3 277.8v17.9M349.5 313.7v10.0M329.2 309.5v4.2M330.4 272.3v13.7M349.0 271.6v11.3M352.9 297.7v4.8M365.3 290.7v3.4M335.7 264.6v10.3M333.5 313.2v5.7M317.1 285.3v8.3M327.3 293.9v11.4M351.3 292.1v2.3M375.8 291.2v6.4M314.9 294.8v11.0M342.6 306.7v5.9M317.6 299.5v17.0"/><path class="G h" d="M344.5 293.1h4.9M307.8 281.8h20.3M334.3 290.9h4.7M352.5 300.9h9.3M343.0 271.0h10.7M339.2 271.6h11.4M354.4 309.0h5.5M353.4 290.2h22.3M331.3 277.9h7.3"/><path class="G v" d="M347.0 287.8v9.9M318.4 277.4v8.2M336.5 288.5v4.8M357.7 292.9v17.2M349.3 263.8v13.9M345.8 265.6v11.6M356.9 304.6v8.5M363.2 286.8v6.1M334.8 271.5v11.9"/><path class="y h" d="M338.2 300.7h7.7M342.3 288.2h24.9M336.1 304.1h5.9M325.9 283.5h13.8M356.6 322.4h27.8M322.8 271.5h8.2M349.6 282.7h11.5M333.2 289.1h7.2M323.7 286.8h5.2M345.1 314.8h20.2M365.5 274.4h9.1M308.2 298.3h11.1M350.1 284.9h10.5M332.2 287.0h7.1M334.9 302.7h5.1M364.3 279.1h11.2M353.3 269.4h3.9M330.1 280.8h6.7M358.1 292.6h3.8M335.9 308.3h27.1M351.1 319.5h45.3M351.5 310.3h15.1M338.3 274.4h8.8M349.1 311.3h10.2M361.5 302.1h9.3M344.3 297.5h11.8M330.1 304.7h4.7M355.6 294.2h16.3M328.7 291.1h5.7M314.2 292.2h7.5M330.9 307.7h11.8M361.4 291.9h11.4M331.6 282.6h3.6M317.2 298.3h8.2M350.3 309.6h7.0M316.6 295.2h22.8M337.9 283.3h10.6M311.1 301.7h18.0M331.8 307.3h9.1M323.6 321.3h6.4M352.7 279.7h20.3M329.5 301.8h7.2M316.3 290.3h11.1"/><path class="y v" d="M342.1 298.8v4.2M354.7 286.0v4.2M338.8 300.1v9.0M333.0 280.5v7.0M370.3 312.2v21.7M326.6 263.0v17.3M354.6 279.6v5.6M336.6 285.9v6.2M326.6 283.3v5.9M354.1 312.0v5.3M369.7 267.5v13.4M313.3 295.8v5.1M354.8 282.2v6.0M335.6 285.2v3.4M337.6 298.7v7.1M369.6 275.2v8.3M355.6 262.8v12.2M333.2 279.4v2.6M360.1 287.4v11.7M349.1 302.7v12.3M377.4 314.0v10.8M358.1 305.8v9.0M342.1 271.5v6.3M354.1 303.7v16.8M365.7 299.1v5.2M350.4 288.3v19.9M332.3 303.2v3.2M364.0 291.4v5.3M331.9 286.5v9.8M317.9 288.9v6.9M336.4 300.9v13.2M367.4 288.7v7.0M333.3 277.9v10.5M321.0 294.1v7.2M353.3 307.6v3.7M326.7 289.7v9.6M342.8 281.3v3.8M319.1 299.7v4.2M336.2 305.0v4.2M326.3 315.8v10.5M364.5 275.4v9.5M332.8 299.2v5.8M321.7 285.9v9.0"/><path class="r h" d="M333.4 309.8h9.0M343.4 280.9h7.5M353.3 298.1h9.7M350.2 297.0h7.8M364.0 304.6h12.3M340.3 279.0h13.1M359.3 289.6h6.9M329.4 287.4h10.4M330.6 280.3h21.0M320.3 299.0h11.2M344.8 305.0h7.1M320.5 270.9h19.9M321.4 304.4h7.0M330.9 294.6h16.1M349.2 284.7h9.0M342.1 300.9h3.3M370.0 295.3h12.3M344.2 294.6h6.0M336.8 286.2h12.8M333.0 293.3h4.9M324.7 297.4h6.8M341.4 291.8h11.1M330.5 307.9h9.7M364.8 312.6h2.5M336.8 295.2h4.5M364.4 291.8h3.8"/><path class="r v" d="M337.5 306.4v7.2M346.7 278.1v5.1M358.6 294.8v5.8M354.7 294.3v5.3M370.7 298.4v13.7M346.5 273.9v8.9M362.6 279.6v18.5M334.0 284.4v5.2M341.1 278.0v5.0M325.2 297.1v4.1M348.6 299.4v11.6M330.9 267.4v6.6M325.0 300.5v7.9M339.2 291.6v6.6M353.3 278.8v12.0M343.7 297.5v6.9M375.7 292.7v5.3M346.8 284.3v19.8M342.4 285.1v2.1M335.5 289.7v7.4M327.7 293.6v7.3M346.3 290.2v2.9M336.0 305.6v5.2M366.1 308.5v8.5M339.4 291.2v7.5M366.5 288.2v6.3"/><path class="g h" d="M333.7 273.2h4.0M328.9 285.8h19.9M310.3 297.2h8.9M371.4 295.9h7.1M312.7 292.2h6.7M365.2 286.0h9.2M361.5 273.1h4.7M354.2 284.3h11.4M363.0 303.1h16.1M366.1 293.2h5.5M336.9 280.3h8.2M342.8 284.0h14.5M330.2 295.9h24.3M336.1 313.4h16.6M370.0 275.8h9.5M312.5 293.0h7.6M377.4 293.3h8.2M317.4 313.9h7.4"/><path class="g v" d="M335.4 271.2v4.4M339.2 279.5v12.6M314.5 291.5v12.3M375.1 292.6v6.2M315.6 290.0v5.0M370.0 284.2v3.5M363.5 266.9v12.3M360.2 281.0v5.8M371.2 299.3v8.3M369.3 287.0v13.5M341.4 275.8v9.6M350.2 277.4v12.9M341.6 291.3v9.9M345.6 309.1v9.4M375.2 270.5v10.6M315.8 292.2v1.6M381.0 289.3v8.1M320.8 309.8v7.5"/><path class="G h" d="M360.0 297.8h6.4M318.6 286.4h4.4M336.3 273.4h10.5M340.7 279.0h6.1M356.1 287.1h14.9M331.8 293.0h16.9M357.5 283.7h4.7M347.3 310.4h9.6M325.2 300.8h2.8M352.2 296.1h3.8M345.2 301.5h4.0M343.3 272.5h19.6"/><path class="G v" d="M363.5 295.1v4.8M320.9 278.3v17.0M341.3 266.6v12.4M343.8 274.9v8.4M363.3 284.9v4.0M340.6 290.1v6.6M360.1 280.1v6.6M351.6 300.2v17.4M326.6 296.4v9.0M354.1 293.8v5.1M347.2 297.0v8.9M352.8 263.6v17.0"/><path class="y h" d="M325.8 290.5h12.7M319.8 299.3h17.7M351.4 269.9h5.3M338.4 293.6h5.3M347.6 277.4h14.7M327.0 304.2h11.8M331.7 318.5h2.9M345.1 307.4h4.5M331.1 275.8h4.0M361.8 282.0h12.5M357.2 283.0h4.0M322.6 284.2h11.4M319.4 298.5h10.0M335.5 323.0h8.6M356.3 312.0h9.6M320.3 301.7h7.3M344.9 306.6h9.5M344.8 315.2h9.0M347.8 306.4h5.5M328.3 290.6h3.4M334.0 291.5h11.7M346.1 319.4h14.1M355.7 327.0h32.4M327.3 302.2h2.6M355.9 309.1h15.2M315.6 297.3h10.0M340.3 306.0h9.0M342.9 310.2h32.4"/><path class="y v" d="M331.8 287.1v6.5M328.7 295.7v6.2M354.3 267.8v4.7M341.5 288.3v9.3M355.7 274.9v5.2M332.3 299.9v9.8M333.2 313.5v10.0M347.4 303.5v7.2M333.4 272.3v6.3M367.9 279.4v5.5M359.2 278.9v7.6M328.3 280.0v9.4M324.8 293.8v9.7M339.9 314.1v19.4M361.5 306.8v10.0M324.2 299.9v4.0M349.6 304.4v4.3M349.0 313.2v4.4M350.8 302.7v7.6M330.1 288.5v4.1M339.9 288.2v6.0M352.5 317.6v3.8M370.3 322.2v8.1M328.8 301.0v2.2M364.6 300.3v19.8M320.0 293.5v7.8M344.7 303.2v5.3M357.0 308.0v4.5"/><path class="r h" d="M346.2 292.4h8.1M334.9 293.4h4.3M345.9 275.4h11.2M392.0 264.1h8.5M321.0 292.8h8.9M320.6 299.8h13.9M328.3 294.4h10.4M316.4 291.1h12.6M336.2 298.6h10.0M349.0 297.5h5.7M344.9 299.6h6.9M327.7 309.8h12.9M357.1 319.4h8.3M333.1 303.3h14.7M365.6 300.4h5.1M330.7 286.2h7.4M332.2 291.6h11.7M327.3 284.1h1.6M333.7 292.6h5.2M351.9 301.5h11.3M338.1 303.2h10.8M348.5 287.9h9.6M324.1 301.8h13.2M364.4 274.5h27.7M324.5 298.0h11.7M342.0 293.3h10.8M308.6 318.3h17.5M331.4 308.2h20.6M315.2 309.2h11.1M321.5 277.9h11.0M355.0 294.1h8.2M326.5 302.4h6.4M322.8 287.0h9.6M326.8 281.7h8.2M328.1 280.8h4.6M332.9 269.9h22.4M340.5 269.8h7.4M354.0 303.5h6.4M338.7 278.8h7.6M373.4 311.8h16.1M328.0 288.2h11.7M330.9 275.1h13.0"/><path class="r v" d="M350.8 289.8v4.3M336.7 288.4v9.5M352.2 273.0v4.2M395.4 260.7v7.0M324.9 282.5v23.3M327.7 293.1v13.2M334.2 290.0v7.9M322.2 286.8v8.5M341.5 296.3v5.4M352.1 291.5v11.3M348.1 294.1v10.7M334.7 305.0v9.9M361.6 316.8v4.8M340.6 300.3v5.6M368.0 292.9v15.9M334.1 283.2v6.3M338.8 288.0v7.6M328.0 280.8v7.1M336.7 289.6v6.6M358.1 296.2v11.8M343.8 296.3v15.2M353.7 280.8v13.4M330.0 296.7v10.2M379.0 271.9v4.3M331.3 287.8v18.7M347.6 286.2v13.2M317.9 313.1v11.2M341.2 301.4v14.4M321.6 304.3v9.3M326.5 274.5v6.5M359.2 293.0v2.3M329.9 298.8v8.0M327.4 283.9v6.0M331.1 275.2v14.6M330.4 274.5v12.8M344.5 266.7v7.1M343.9 265.6v8.1M357.1 300.1v7.8M342.3 274.8v8.2M381.5 310.2v3.1M334.2 285.0v6.1M337.3 272.4v5.9"/><path class="G h" d="M312.9 298.5h4.3M346.0 302.9h6.6M310.6 296.7h15.8M356.3 282.9h8.9M353.2 300.5h7.1"/><path class="G v" d="M314.8 290.3v15.6M349.0 299.6v6.2M317.9 291.1v10.9M361.4 281.5v2.5M357.2 297.3v6.6"/><path class="y h" d="M338.1 295.3h6.4M354.3 286.4h7.2M358.8 290.4h8.1M331.0 321.7h8.6M331.0 286.9h5.0M366.1 304.0h26.7M328.5 278.4h8.7M342.0 297.1h7.9M356.9 288.8h8.8M349.2 302.6h13.5M359.5 300.4h5.1M355.2 277.7h9.9M346.5 320.2h24.2M355.6 306.4h10.5M356.1 308.9h11.8M321.5 273.6h7.1M333.2 303.8h8.1M341.3 293.5h6.4M354.6 280.9h6.4M346.5 310.2h6.0M347.2 312.3h39.7M370.6 295.2h12.1M368.8 284.0h11.5M350.9 297.8h5.2M336.4 277.9h6.1M314.6 290.1h12.5M330.6 315.7h10.2"/><path class="y v" d="M340.9 291.2v8.9M357.4 281.4v8.9M363.5 288.3v4.5M336.0 318.7v6.0M333.9 284.5v4.8M380.0 297.4v13.9M333.1 275.3v7.2M345.4 290.8v12.9M361.1 285.3v7.5M356.7 299.1v7.5M362.4 296.8v6.6M360.6 272.9v9.7M358.4 313.5v15.3M360.5 303.6v6.4M361.6 307.4v2.7M325.0 271.0v4.7M337.9 298.7v9.4M344.7 289.7v7.9M357.8 278.3v5.0M349.1 303.3v12.7M370.1 310.2v4.2M376.1 293.0v4.4M375.5 276.9v14.0M353.5 291.3v14.8M339.8 276.5v2.9M320.4 288.7v3.0M335.3 310.8v8.3"/><path class="r h" d="M349.2 297.5h7.1M331.1 284.8h9.2M337.4 307.8h7.9M320.7 301.7h6.5M327.1 306.7h28.6M338.8 277.2h10.0M330.6 294.1h7.8M325.6 302.8h9.0M326.7 296.3h3.3M345.5 295.2h7.9M367.8 291.3h2.9M358.8 308.6h20.3M344.5 315.2h23.4M318.9 315.9h25.5M358.8 289.9h6.8M370.0 295.8h14.3M342.5 282.2h8.0M320.3 293.1h5.7M345.5 303.9h13.5M325.4 302.3h5.1M324.9 301.3h10.5M359.6 290.2h9.4M339.3 300.6h6.7M307.8 301.9h19.1M345.8 305.7h13.5M336.7 285.1h12.6M337.5 318.7h7.2M334.5 299.9h9.1M332.1 301.4h4.6M373.7 303.0h2.8M347.5 289.6h13.1M343.8 279.3h11.5M321.8 291.8h14.2M342.3 292.7h7.9M327.8 304.8h9.2M322.9 287.0h7.4M338.5 295.5h10.3M334.5 280.0h20.2M334.8 313.6h5.2M350.0 301.8h5.7M330.3 289.9h36.6M329.1 308.1h3.9M347.4 284.3h7.4M330.3 306.2h11.1M344.6 281.9h10.5M328.1 306.2h28.8M315.3 314.9h26.2M306.8 295.6h16.8M320.9 272.8h10.3M334.7 302.7h5.1M343.9 294.9h9.4M341.2 307.5h7.2M313.9 289.9h11.7M339.6 280.7h9.9M350.9 310.3h9.8M330.5 300.8h6.5M335.1 288.7h4.3M337.1 278.7h7.3M346.3 299.6h16.9M336.5 289.5h8.6M368.9 297.9h20.2M338.3 291.3h8.1M334.3 282.3h6.7M322.6 276.5h6.3M331.9 304.1h4.9M324.1 292.5h13.1M317.0 280.7h3.3M360.1 304.5h20.1M340.5 288.3h12.3"/><path class="r v" d="M353.0 295.1v4.1M336.0 283.0v3.8M341.8 303.1v8.8M324.0 298.1v6.5M339.6 299.0v16.5M343.7 275.6v3.1M334.3 284.9v17.5M330.5 300.2v5.3M328.5 294.7v2.9M349.1 293.5v3.1M369.2 289.5v3.6M370.3 307.4v2.8M354.9 313.1v4.3M333.9 308.5v13.5M362.5 284.9v10.2M377.0 292.1v7.1M346.2 275.6v12.0M323.0 289.0v8.0M353.0 298.2v12.1M327.8 299.6v5.4M330.3 297.3v8.7M364.9 288.6v2.8M343.0 295.2v9.4M318.5 293.8v16.2M352.5 300.8v9.3M344.0 280.5v8.4M341.3 315.3v7.8M338.5 296.2v6.6M334.8 292.5v15.8M374.9 300.7v4.7M353.8 285.6v7.6M348.9 276.8v4.4M330.1 289.6v4.1M346.1 290.1v5.7M331.9 299.4v12.2M327.0 284.0v5.7M343.5 287.9v15.6M343.5 274.8v10.2M337.8 310.7v5.9M352.9 297.6v9.5M347.7 281.3v14.9M331.2 305.5v4.7M351.0 277.7v14.5M336.3 301.3v10.4M350.2 275.4v12.0M340.9 302.1v8.3M327.8 308.5v13.1M316.4 293.7v3.8M326.2 267.3v10.1M337.4 296.2v13.5M348.6 286.0v19.2M344.3 305.5v3.7M320.4 284.1v11.8M343.9 272.1v15.1M355.6 304.9v9.3M334.2 297.4v7.5M337.2 285.6v5.4M341.1 276.8v3.8M354.8 292.9v13.6M341.1 285.8v7.9M378.6 295.5v5.4M342.2 285.5v10.7M337.7 277.0v10.8M326.2 273.3v7.1M334.3 299.0v10.3M330.5 290.1v4.4M318.7 277.1v7.0M369.5 301.2v6.7M346.5 284.3v7.3"/></g><g clip-path="url(#cf)" fill="none"><path class="g h" d="M595.1 296.6h6.7M577.9 271.5h21.1M584.0 252.9h6.2M597.7 243.0h14.3M592.2 294.0h10.3M640.8 318.9h4.4M585.1 259.3h19.7M594.1 290.4h6.7M591.8 298.4h15.0M587.1 327.1h5.9M578.7 299.5h13.0M593.9 281.6h17.4M600.4 266.8h11.0M574.7 333.0h11.9M582.7 265.3h28.1M604.6 253.3h13.6M599.7 318.5h13.0M592.4 296.5h14.8M598.9 286.4h9.2M623.5 330.5h3.6M605.5 270.3h6.6M597.7 307.7h6.3M578.7 297.7h29.1M616.3 328.0h4.0M601.6 311.7h8.3M580.9 290.3h5.1M595.4 288.2h17.6M580.0 284.0h39.8M583.0 328.5h7.3M597.7 275.6h8.8M584.2 288.1h14.4M589.3 291.9h46.3M589.6 301.7h26.7M585.8 270.9h24.0M584.2 281.1h11.3M615.4 273.0h4.0M609.4 292.5h15.8M583.2 268.3h36.7M587.1 278.6h11.3M615.0 317.7h24.5M594.9 331.9h16.7M606.3 321.7h10.4M603.4 267.1h12.4M597.7 301.6h9.3M588.8 314.4h9.6M599.3 257.3h21.9M608.5 278.8h12.9M596.9 324.8h7.8M591.7 264.8h2.3M598.4 323.5h5.4M603.0 283.2h12.4M613.7 329.6h6.0M597.9 282.2h8.0M598.6 250.7h8.0M606.3 246.3h8.0M595.6 297.2h8.0M609.0 276.8h8.0M620.3 276.5h8.0M611.7 289.0h8.0M598.3 284.9h8.0M593.7 276.6h8.0M595.5 294.9h8.0"/><path class="g v" d="M598.9 287.2v16.6M584.5 269.1v6.1M587.6 248.6v10.5M606.5 239.1v9.9M597.1 292.0v5.2M642.7 317.7v2.5M599.2 253.3v8.5M597.0 287.1v5.8M597.9 294.8v7.5M589.6 324.7v4.1M583.2 296.9v4.4M604.3 280.2v2.0M605.4 263.7v5.4M580.4 332.5v1.0M596.0 259.8v8.7M609.8 250.3v8.1M606.4 317.8v1.1M599.6 295.0v2.6M603.4 284.4v4.3M625.5 329.4v1.9M609.2 266.7v6.0M602.1 306.6v2.6M585.4 295.9v3.6M618.2 327.5v0.8M606.5 309.6v3.8M584.3 289.0v2.3M602.5 285.9v3.6M593.2 282.8v3.1M587.2 326.7v3.5M601.7 273.4v4.6M589.9 286.3v2.5M606.7 289.6v3.9M601.8 299.9v4.1M596.9 266.9v10.3M588.6 274.5v8.7M618.2 272.1v1.9M618.9 286.0v8.6M598.9 267.1v1.7M592.3 276.0v4.6M629.2 316.1v3.1M606.0 329.4v5.6M611.1 321.4v0.6M612.6 266.2v1.5M602.5 295.6v9.1M594.7 312.7v2.4M607.5 253.8v4.7M614.2 275.4v6.9M601.3 324.5v0.8M593.3 262.7v4.2M600.4 322.1v3.0M608.9 278.5v8.7M616.8 328.7v1.9M601.9 268.2v27.9M602.6 238.2v25.1M610.3 233.5v25.6M599.6 288.7v16.9M613.0 263.8v26.1M624.3 264.4v24.3M615.7 278.4v21.2M602.3 270.7v28.5M597.7 267.5v18.2M599.5 284.5v20.8"/><path class="G h" d="M601.5 282.2h10.9M590.9 276.2h9.0M578.7 272.1h8.2M581.8 320.1h13.8M595.2 275.1h18.9M600.3 260.8h3.3M586.9 314.4h17.1M583.9 280.2h12.9M605.3 291.6h5.9M607.7 286.5h8.0M600.2 269.8h8.0M592.0 248.4h8.0M618.9 295.8h8.0M613.4 287.8h8.0M585.8 270.1h8.0"/><path class="G v" d="M606.0 279.8v6.4M595.5 274.3v5.0M582.5 269.5v6.0M588.1 312.8v13.5M606.1 273.8v3.3M602.8 259.9v1.8M596.7 313.3v2.5M593.1 276.9v7.4M608.5 290.6v2.2M611.7 274.3v24.2M604.2 262.9v13.8M596.0 242.1v12.7M622.9 287.5v16.6M617.4 273.0v29.6M589.8 258.5v23.2"/><path class="y h" d="M597.1 296.6h6.1M600.7 280.3h15.3M602.6 326.2h7.6M610.1 316.6h12.8M604.1 292.4h19.2M581.3 337.2h29.3M613.4 294.1h11.3M589.1 290.6h10.7"/><path class="y v" d="M600.5 296.0v0.8M606.9 279.0v1.7M607.8 323.4v5.6M616.6 314.9v3.0M616.4 288.6v8.9M596.0 335.6v2.6M619.9 291.4v5.0M593.6 285.3v13.2"/><path class="g h" d="M586.0 264.4h8.0M605.8 272.3h8.0M601.5 254.1h8.0M615.7 282.3h8.0M597.6 280.0h8.0M578.4 270.1h28.8M598.9 275.9h13.8M586.8 328.3h22.0M578.9 292.8h11.7M598.8 307.6h12.3M599.9 282.5h14.1M594.5 266.2h13.4M615.1 296.6h10.2M583.8 330.7h6.5M589.1 260.7h18.4M594.0 337.7h24.6M597.9 294.7h10.4M583.9 271.1h11.4M590.6 294.0h16.9M608.7 267.5h9.1M590.8 306.7h3.7M580.0 262.7h21.1M593.2 286.1h3.2M612.5 321.9h10.6M597.6 293.8h12.3M579.9 288.6h15.0M594.8 344.1h8.0M611.1 275.1h4.5M586.8 284.0h6.0M590.0 277.1h10.7M598.6 293.1h12.5M590.8 272.4h20.3M595.9 270.6h11.5M601.4 265.4h7.4M631.2 328.7h6.7M597.2 332.6h16.4M601.6 302.3h24.0M583.0 302.3h10.8M578.5 279.7h11.0M604.8 319.2h16.6M608.5 306.7h10.7M578.9 288.9h41.0M598.8 274.5h9.3"/><path class="g v" d="M590.0 258.4v12.0M609.8 259.3v26.1M605.5 238.4v31.4M619.7 272.6v19.3M601.6 267.0v26.0M591.8 265.4v9.7M604.1 274.3v4.4M598.1 326.4v2.9M585.1 291.6v2.1M604.5 304.5v8.1M605.3 279.8v5.4M600.8 264.9v3.4M620.1 296.1v0.9M587.6 329.0v3.5M597.7 259.2v3.3M606.8 336.5v2.0M602.1 293.2v4.0M589.9 267.0v9.5M603.1 288.9v9.0M613.0 265.1v5.9M593.1 305.5v2.3M588.9 261.8v1.8M595.5 285.7v1.1M617.2 320.5v2.3M605.0 292.1v2.9M587.0 287.4v2.6M598.8 343.1v2.1M613.5 273.4v4.0M590.7 282.6v2.3M595.1 276.1v2.1M603.7 291.2v2.8M601.6 269.3v7.1M602.8 265.1v14.2M605.3 264.4v2.0M634.2 327.9v1.7M605.2 331.8v1.7M610.7 300.8v2.8M590.7 292.5v25.6M583.4 278.9v1.6M613.7 311.5v10.7M612.5 304.1v6.7M594.4 286.4v4.3M602.4 272.1v6.3"/><path class="G h" d="M588.0 247.4h8.0M605.4 278.7h13.0M601.7 290.2h7.1M596.7 268.0h5.5M580.6 291.4h15.6M592.0 271.2h4.7M618.9 285.9h16.8M594.9 299.5h9.3M594.5 310.6h19.3M598.3 289.6h8.4M603.8 306.9h18.0M608.2 305.9h7.5"/><path class="G v" d="M592.0 236.8v21.2M611.7 277.2v3.4M605.8 286.2v7.9M599.7 266.3v2.8M585.8 290.1v2.0M594.8 269.7v2.6M627.5 282.6v7.0M600.3 298.4v2.4M602.5 308.8v2.7M604.2 285.1v6.2M613.0 304.0v5.5M612.4 304.4v3.5"/><path class="y h" d="M598.4 288.1h7.4M592.8 275.3h11.6M580.6 274.7h12.2M600.5 329.1h15.9M602.3 256.5h37.8M605.5 290.8h11.6M600.8 288.3h24.5M616.6 322.5h6.9M602.2 300.3h6.0M584.1 326.6h9.2M597.6 282.7h6.8M580.6 267.4h20.1M584.5 295.3h28.6M578.0 282.9h53.5M600.8 297.9h12.5M587.9 274.4h30.7M595.0 299.3h10.0M594.8 301.2h13.4M601.9 307.0h20.5M589.0 283.9h16.7M602.6 317.0h3.6M591.1 283.3h19.0M589.7 280.3h11.6M606.8 292.5h6.8M600.0 329.0h29.5M577.6 278.9h17.3M604.4 294.9h7.1"/><path class="y v" d="M603.4 285.0v5.0M601.4 273.7v3.5M587.8 274.0v1.1M610.9 327.9v1.7M617.1 254.4v3.6M612.6 288.6v4.0M611.1 287.1v1.9M619.8 321.4v2.2M605.7 297.3v4.9M589.4 325.3v2.0M601.7 280.5v3.5M591.0 264.7v4.1M600.9 290.8v10.8M598.7 279.2v8.5M606.1 296.5v2.9M602.3 270.6v8.7M598.8 297.9v3.2M600.2 299.3v3.5M614.0 298.8v20.5M597.0 283.6v0.4M605.4 315.0v4.2M602.4 282.0v2.3M594.3 277.3v5.2M610.4 290.6v4.1M612.1 328.1v2.1M586.7 278.0v1.6M609.1 292.7v5.1"/><path class="r h" d="M598.9 276.2h8.6M603.1 292.1h46.4M589.1 291.5h26.6M586.5 285.1h18.8"/><path class="r v" d="M603.7 274.7v3.8M621.6 291.0v1.8M606.1 290.6v1.7M597.7 283.0v5.5"/><path class="g h" d="M577.1 294.6h11.7M601.4 327.8h19.0M591.2 265.4h15.4M578.6 276.9h22.5M588.1 267.0h26.6M578.4 255.6h13.9M602.9 279.8h12.4M577.0 280.9h25.9M602.2 289.0h8.1M575.5 332.7h10.6M578.9 295.2h9.9M585.3 269.8h28.8M580.7 290.2h45.3M592.6 279.7h16.0M589.8 324.3h11.6M591.5 277.6h17.3M587.5 275.9h9.8M579.8 282.5h27.4M591.5 289.5h16.0M612.4 303.7h13.2M603.0 299.7h8.5M611.7 330.7h5.3M591.1 323.1h36.6M580.3 278.0h27.7M590.3 281.3h4.8M604.7 300.5h45.5M585.3 319.4h7.7M587.6 315.6h17.6M601.8 262.0h9.2M579.7 274.8h21.1"/><path class="g v" d="M582.9 290.5v8.1M611.4 327.3v1.0M598.9 264.3v2.4M587.4 274.3v6.9M602.0 266.3v1.4M585.3 253.3v4.5M608.7 277.6v5.3M585.3 277.2v9.3M606.0 288.1v1.4M580.2 332.0v1.6M582.7 293.5v2.9M606.1 267.9v3.0M596.8 285.9v9.4M601.3 276.5v7.7M596.6 323.8v1.3M600.6 270.2v10.9M593.9 273.5v4.1M587.6 280.4v4.2M597.7 285.5v10.1M618.6 301.3v5.4M608.8 298.2v3.0M614.5 329.7v1.7M607.1 320.9v5.4M593.3 277.2v1.3M593.2 278.0v7.7M621.8 298.6v3.3M588.9 318.9v1.0M599.3 309.1v15.7M608.6 260.1v2.5M593.5 271.6v4.3"/><path class="G h" d="M614.7 333.6h6.9M617.5 284.0h14.2M580.1 253.6h50.2M580.4 295.3h47.8M589.4 299.4h19.1M604.5 305.0h15.4M614.4 286.8h11.9M604.9 284.3h19.3M589.7 284.1h11.9M579.4 256.4h6.8M580.3 274.0h8.2M593.4 296.8h33.5M598.5 290.0h14.2M581.8 303.2h11.3"/><path class="G v" d="M618.3 332.8v1.7M623.1 282.6v2.8M597.7 242.7v15.3M600.3 294.1v2.1M597.0 297.9v3.9M612.7 300.6v7.0M620.0 285.2v3.1M613.1 282.6v4.4M595.4 282.3v4.5M583.5 254.8v2.3M585.9 272.2v3.5M608.4 295.9v1.9M604.2 286.9v6.5M590.4 300.9v3.4"/><path class="y h" d="M600.3 272.7h5.9M600.1 294.3h15.2M605.2 296.6h4.4M603.1 306.5h8.3M594.4 293.6h16.2M597.6 287.0h25.5M609.0 297.3h9.2M601.8 312.1h15.7M598.5 304.7h7.0M581.1 279.1h28.6M606.3 284.2h14.8M583.5 293.8h31.3M594.4 294.2h16.4M630.1 334.6h9.5M595.3 273.9h14.7M606.1 304.0h11.1M604.9 309.1h19.8M601.2 263.4h15.7M578.3 277.5h96.8M606.1 297.7h4.1M578.4 313.8h8.9M581.8 292.1h32.8M605.2 283.3h15.0M593.1 300.3h19.8M600.2 314.6h13.7M590.9 288.6h7.7"/><path class="y v" d="M604.8 271.0v2.3M609.0 291.2v8.3M607.8 291.9v11.5M607.5 305.1v2.7M600.9 290.7v5.4M610.0 285.0v5.3M613.7 296.4v1.8M609.1 310.8v2.2M601.5 302.6v4.0M594.4 276.1v5.4M613.9 283.4v1.1M596.6 289.6v10.7M600.9 292.2v4.1M634.9 332.9v3.7M602.4 271.9v4.6M611.8 298.3v8.6M614.8 308.2v2.0M607.8 260.1v5.0M614.9 275.4v3.6M608.1 294.3v8.3M580.7 312.2v3.1M595.8 291.0v1.7M612.6 280.6v5.5M601.0 298.2v5.5M607.0 310.5v7.0M596.5 284.7v10.4"/><path class="r h" d="M592.8 286.5h6.2M599.9 288.6h21.3M587.8 290.8h7.4M601.9 283.5h17.3M600.7 287.1h4.0M595.6 303.1h7.6M594.8 273.7h10.5M584.1 310.4h7.4M600.4 309.8h7.3M588.1 317.2h21.8M600.6 297.5h9.2M591.8 310.6h9.6M591.4 308.1h10.8M585.4 310.7h18.1M597.5 300.1h11.3"/><path class="r v" d="M597.2 283.6v4.8M608.7 283.7v7.5M592.8 289.0v3.3M608.7 282.6v1.9M603.4 284.9v3.6M600.2 301.7v3.4M598.9 272.3v3.5M587.4 309.9v0.6M605.1 307.8v3.3M599.2 315.5v3.7M604.0 296.9v1.1M598.3 308.6v4.6M598.5 306.7v2.2M593.5 308.5v5.0M603.0 297.7v4.6"/><path class="g h" d="M594.3 286.7h25.0M613.6 273.8h2.5M598.5 254.4h13.7M601.5 294.8h19.1M594.7 261.6h32.2M579.3 313.6h7.5M583.1 280.0h12.4M601.6 276.1h15.5M585.3 320.9h13.3M698.4 290.9h50.8M715.3 268.8h14.7M686.1 268.6h26.0M677.1 261.7h18.8M658.8 270.1h28.3M658.8 272.0h8.2M645.0 265.4h23.2M645.0 298.4h16.3M646.2 372.7h10.0M590.0 340.7h5.0M582.0 356.4h10.5M577.5 359.0h4.0M599.0 351.5h12.0M600.0 348.3h4.0M575.6 346.4h11.3M620.5 330.4h9.5M605.0 250.6h7.4M595.5 289.4h6.5M591.6 291.4h14.2M604.7 292.3h3.4M603.4 304.3h2.9M609.2 293.4h10.2M593.5 291.6h12.4M584.4 343.7h16.2M585.5 281.9h8.3M583.3 275.0h7.4M598.3 269.6h18.9M597.4 277.5h18.4M608.6 300.0h33.5M577.5 287.7h58.0M605.7 287.2h8.8M582.0 269.1h15.8M579.6 293.0h11.4M595.5 262.8h10.7M604.8 271.0h6.6"/><path class="g v" d="M604.6 284.8v3.5M615.2 271.1v3.8M604.7 253.5v2.4M614.8 286.3v14.1M610.7 261.1v0.7M584.2 311.1v5.5M588.3 279.3v1.2M609.2 267.9v15.6M592.1 318.5v5.8M709.7 290.4v1.0M726.1 263.9v9.4M697.0 261.7v12.2M686.1 258.3v7.5M673.0 266.0v8.0M664.5 270.5v3.0M655.0 264.9v1.0M652.0 297.9v1.0M650.9 369.5v6.4M592.5 336.0v10.4M587.8 355.8v1.2M579.4 358.5v1.0M605.7 351.0v1.0M602.0 347.8v1.0M581.0 346.0v0.8M624.6 330.0v0.8M608.7 247.3v8.5M599.8 285.4v8.3M597.4 290.1v1.8M606.9 291.1v2.1M605.5 303.1v3.0M616.4 290.2v6.9M602.4 289.9v4.5M592.1 342.8v1.6M591.3 276.2v10.9M588.0 274.1v2.0M606.6 268.0v2.5M605.4 277.1v1.2M623.7 299.0v1.9M592.9 286.5v2.2M609.6 285.6v3.1M592.1 267.0v5.2M584.0 291.0v3.7M599.5 258.1v12.3M609.2 263.7v13.1"/><path class="G h" d="M579.9 308.4h12.1M579.2 325.8h18.2M594.8 293.3h16.7M593.6 266.7h17.1M603.8 261.3h5.2M605.4 259.4h13.0M591.0 311.1h21.0M578.6 302.7h22.9M581.3 248.8h19.6M603.6 278.0h10.3M580.4 316.1h19.5M599.9 280.5h10.1"/><path class="G v" d="M586.6 307.9v1.5M588.0 323.4v5.8M602.3 291.7v2.2M600.0 266.3v0.6M606.5 259.2v4.7M610.6 257.0v4.6M603.8 308.7v4.2M588.3 301.4v2.7M592.1 235.9v20.6M607.6 276.8v1.6M592.4 313.8v3.8M603.7 278.7v2.8"/><path class="y h" d="M612.5 294.2h10.7M598.4 285.6h17.4M589.5 306.7h29.2M640.0 255.6h35.8M640.0 260.7h22.6M625.5 350.7h19.4M590.5 354.8h2.2M605.7 294.8h21.8M592.9 274.7h7.7M599.8 293.9h4.5M597.1 283.1h7.6M602.1 298.1h9.6M583.9 277.1h29.5M596.8 335.8h32.6M582.8 275.2h12.7M594.7 287.1h10.1M590.5 284.6h13.9M616.9 292.3h10.5M594.9 303.1h17.0M579.2 291.4h21.1M598.6 280.6h19.0"/><path class="y v" d="M618.9 293.1v1.9M605.1 284.5v2.2M604.1 304.1v5.5M660.0 255.1v1.0M650.0 260.2v1.0M634.4 349.5v2.5M591.6 354.0v1.5M614.7 290.9v8.2M598.6 269.5v10.6M603.2 292.2v4.0M602.6 280.5v3.6M609.4 296.6v3.3M595.4 276.2v1.5M613.8 335.1v1.3M591.6 273.0v5.8M599.6 285.8v1.8M598.8 281.9v4.0M621.9 290.2v2.8M607.0 301.1v3.2M586.9 289.1v6.3M607.6 279.7v1.9"/><path class="r h" d="M622.5 323.9h4.0M591.5 294.3h27.6M596.5 287.3h5.4M603.8 313.7h10.3M586.6 296.8h8.8M609.8 302.7h10.1M606.3 289.4h19.0M599.2 319.4h6.4M577.1 297.4h42.3"/><path class="r v" d="M624.5 322.4v2.9M602.4 292.5v4.5M599.6 285.2v3.7M609.1 312.0v2.8M592.1 295.5v2.7M613.9 300.7v4.0M613.6 288.2v1.9M602.8 317.4v3.4M595.1 295.5v4.2"/><path class="g h" d="M581.3 271.0h20.1M600.7 267.8h17.9M592.0 264.9h9.6M597.8 272.9h25.5M604.0 281.5h4.6M587.8 278.5h18.3M589.8 310.8h12.8M599.9 317.0h7.5M602.5 315.3h18.2M590.7 279.9h13.2M599.5 294.3h2.9M582.2 318.1h15.6M596.3 268.0h9.4M583.2 322.5h22.1M613.8 277.2h2.8M603.4 258.0h15.2M577.9 311.6h7.1M594.5 271.6h7.9M591.4 268.3h17.6M608.0 290.9h14.9M613.3 282.7h17.5M610.2 295.1h7.8M589.1 294.5h40.6M590.4 298.2h19.9M593.3 273.5h53.2M582.2 266.3h24.4M589.7 339.9h12.3M593.3 280.8h5.6M601.1 242.4h6.2M608.9 279.7h9.4M626.4 282.8h11.9M585.8 259.5h21.7M601.4 314.4h15.8M579.8 294.9h6.9M607.6 296.9h9.5M608.6 312.5h4.9M592.3 303.2h20.4M593.0 277.3h25.8"/><path class="g v" d="M594.1 269.2v2.7M611.3 264.5v6.3M597.1 264.5v0.6M609.1 270.9v2.7M606.9 279.8v4.2M596.0 275.3v4.4M596.6 310.2v1.4M604.7 316.4v1.1M611.7 313.9v3.5M599.1 279.3v1.4M601.5 292.1v3.5M589.9 315.3v6.7M599.9 265.8v3.9M597.6 320.9v2.2M615.8 276.0v1.9M614.5 256.8v2.3M582.3 308.7v4.6M599.3 270.4v1.8M602.7 266.8v3.9M614.0 290.4v1.2M622.0 280.0v7.4M614.1 291.7v8.9M605.4 293.1v2.7M599.9 295.9v4.2M616.8 270.9v5.4M591.5 263.2v5.8M595.8 339.1v1.8M596.8 275.0v12.8M605.3 240.1v3.8M614.7 278.8v1.9M632.1 277.3v14.2M593.9 258.1v1.8M609.3 312.3v4.3M582.1 292.1v6.6M612.3 295.9v2.2M611.7 309.9v4.2M600.6 301.8v3.8M606.5 274.9v4.5"/><path class="G h" d="M583.6 247.4h13.3M610.9 307.6h8.8M595.8 281.6h11.9M588.6 261.7h19.4M603.8 293.3h7.5M594.7 293.6h9.2M588.1 261.2h17.9M578.4 279.6h26.4M579.2 283.1h15.7M592.9 301.3h12.9"/><path class="G v" d="M589.1 246.3v1.4M617.6 305.4v5.7M601.0 278.7v4.6M599.4 260.4v3.3M607.5 290.7v5.7M600.2 289.6v7.5M597.6 258.7v4.9M593.8 278.5v2.1M583.8 280.6v5.7M602.4 300.1v2.9"/><path class="y h" d="M577.3 315.4h30.4M585.1 333.5h17.5M609.0 269.6h9.2M600.1 281.1h6.3M603.4 313.0h7.1M611.7 279.1h10.6M601.7 247.2h25.5M588.3 277.0h14.4M604.8 299.3h25.2M590.1 257.5h25.5M577.9 309.1h23.9M592.3 296.1h12.3M599.7 317.2h5.0M595.0 255.5h15.5M595.2 286.6h23.5M590.6 299.9h15.1M602.4 250.8h12.9M587.3 299.2h20.3M579.6 293.5h53.3M577.4 279.6h39.5M580.0 297.3h31.1M595.7 254.4h13.4M602.5 316.8h7.7M603.8 293.1h13.0"/><path class="y v" d="M585.7 312.7v4.4M591.6 332.9v1.0M612.5 264.9v9.8M603.1 278.9v3.4M608.2 311.7v1.6M617.9 277.0v2.8M611.2 244.5v4.3M594.9 275.5v3.5M618.5 295.5v9.2M604.4 254.6v3.8M584.2 301.6v18.0M600.4 294.5v3.2M602.9 314.1v6.8M606.2 245.4v23.5M603.9 281.4v7.9M597.0 298.2v3.4M607.6 249.0v3.4M596.3 296.9v3.6M595.1 292.1v3.3M595.6 278.2v3.2M583.4 295.5v4.6M604.6 250.6v7.5M607.2 314.1v6.8M612.4 289.1v8.2"/><path class="r h" d="M597.8 292.8h5.7M578.4 297.4h38.6M579.7 262.8h83.1M586.2 315.6h12.2M599.1 284.6h11.4M606.3 270.8h26.9M593.7 309.9h21.1M597.0 306.2h15.4M602.0 290.3h22.0M601.2 288.8h9.9M596.4 294.1h11.1M586.7 276.4h14.1M597.1 298.7h5.9"/><path class="r v" d="M602.2 291.9v1.7M590.9 294.9v6.5M608.4 261.7v1.9M593.5 312.9v4.7M603.9 280.3v6.7M616.9 265.4v13.8M602.8 305.2v12.0M606.2 300.0v9.6M614.0 287.6v5.2M606.9 282.4v9.6M604.7 293.4v1.1M594.8 274.5v3.4M601.2 297.3v2.5"/><path class="g h" d="M598.8 276.8h10.8M591.6 283.9h30.1M580.9 324.9h18.5M609.0 307.4h9.0M593.4 297.3h23.6M600.6 276.5h5.6M607.2 327.5h5.1M614.3 316.5h12.6M581.6 310.1h6.8M592.5 326.5h14.1M601.4 286.0h36.6M594.0 292.6h20.7M578.4 276.6h22.7M578.9 252.7h44.5M585.2 272.9h8.9M597.9 337.3h8.5M602.5 281.5h11.2M630.7 327.9h12.2M598.7 314.1h6.1M601.9 319.0h4.2M585.8 301.2h20.8M580.0 307.8h17.3M604.4 287.7h8.7M590.5 297.6h33.8M601.0 280.0h11.2M578.7 304.4h18.9M579.5 280.5h12.0M615.6 293.2h8.7M582.2 291.1h6.1M600.0 286.6h10.2M585.3 283.7h38.2M596.8 277.8h13.5M598.2 275.8h14.6M580.4 268.5h20.0M632.9 320.5h11.8M599.1 279.6h7.0M590.1 282.4h9.6M605.8 274.6h11.3M626.7 330.1h6.1M602.1 276.4h9.2"/><path class="g v" d="M604.3 273.8v7.7M603.7 282.8v1.7M590.6 323.7v2.4M614.1 305.7v2.4M602.2 296.2v1.7M603.0 273.4v6.5M610.1 325.7v4.0M621.4 314.7v3.7M586.6 309.4v1.4M600.7 325.0v3.5M615.1 285.4v0.8M602.1 288.0v8.6M587.0 273.7v4.5M600.5 251.7v1.4M590.8 268.8v10.8M602.6 335.9v3.2M607.6 277.3v5.8M637.0 326.8v1.8M602.7 313.5v1.4M603.9 318.3v1.5M596.0 299.1v4.6M592.1 305.0v4.1M607.9 285.2v4.3M603.3 293.2v10.1M609.0 279.0v1.6M587.4 303.2v2.3M584.3 278.4v3.1M621.4 292.0v2.9M585.6 288.0v5.7M606.4 284.5v3.7M609.8 282.7v2.4M602.9 276.3v4.0M605.6 274.8v1.5M587.1 267.3v3.2M638.4 319.0v2.6M603.3 278.2v2.8M594.3 281.0v3.1M610.3 273.6v1.5M629.4 329.0v2.0M608.3 273.6v4.9"/><path class="G h" d="M582.4 286.8h10.9M596.1 309.4h34.7M593.4 255.3h9.7M580.8 283.5h4.7M585.6 281.1h18.9M599.2 282.5h11.4M592.4 271.2h12.4M585.2 264.0h4.8M603.2 283.3h12.5M593.2 280.1h27.2M608.1 288.0h20.1M629.7 320.1h10.6M599.4 327.1h3.7M595.6 296.8h5.1M621.3 335.2h15.0M603.3 282.9h9.3"/><path class="G v" d="M587.1 285.3v2.0M610.5 308.5v2.0M598.0 253.8v3.9M584.0 281.4v5.5M598.3 280.4v1.3M604.9 279.4v7.0M599.5 270.3v1.4M588.5 262.9v2.0M612.4 282.3v2.0M603.9 279.3v1.8M616.7 285.8v4.9M635.4 319.7v0.7M601.1 325.9v2.2M599.1 296.0v1.0M628.7 334.3v1.7M606.7 279.1v7.9"/><path class="y h" d="M586.8 242.2h8.4M579.0 258.2h45.2M598.6 251.6h8.9M595.4 313.5h4.3M592.5 285.2h20.5M608.1 306.9h20.9M590.9 318.8h20.6M585.4 303.7h17.0M578.8 276.0h21.2M580.3 280.4h5.3M590.9 274.2h14.3M610.0 284.6h19.2M601.7 286.0h18.1M607.5 303.2h10.7M598.0 283.7h10.0M581.2 286.1h31.2M588.5 290.5h18.1M582.2 319.5h12.3"/><path class="y v" d="M590.6 241.1v2.7M601.9 255.0v8.5M602.8 249.3v5.2M598.5 310.2v8.3M600.7 283.4v2.6M617.0 301.9v10.4M601.3 318.6v0.5M593.4 302.7v1.4M586.8 272.9v5.7M584.2 278.7v4.5M597.3 273.8v0.6M617.9 283.2v3.3M609.0 283.9v3.6M611.6 301.4v2.3M605.6 279.4v11.5M597.6 285.2v1.9M595.3 288.9v3.8M586.9 318.3v2.5"/><path class="r h" d="M590.9 298.8h16.0M624.0 291.4h6.6M594.1 304.0h4.4M589.4 323.4h13.2M596.6 283.2h15.2M589.4 293.6h18.5M605.3 317.3h19.5M576.9 327.0h11.0M578.6 295.7h30.5M589.2 289.9h29.9M587.3 308.6h30.0M602.8 329.7h6.5"/><path class="r v" d="M600.0 296.7v4.0M626.5 289.9v2.8M596.2 301.2v4.8M599.4 320.6v5.9M604.9 280.1v4.6M597.7 292.2v3.8M615.4 314.8v4.4M582.2 326.5v0.9M596.0 293.8v3.6M603.4 288.0v3.4M607.6 307.1v2.6M606.9 326.6v6.3"/><path class="g h" d="M591.0 258.3h28.5M589.8 272.8h9.0M581.0 263.3h61.9M593.0 276.4h16.3M588.0 313.5h7.8M584.0 271.7h10.6M593.7 300.9h8.1M580.1 283.7h21.4M585.2 283.7h32.1M579.6 287.5h18.1M586.9 268.0h8.8M610.5 284.9h16.8M582.1 287.0h14.5M602.7 272.8h4.7M585.7 282.0h9.9M597.6 278.9h13.9M602.1 291.8h17.4M604.3 273.1h6.7M594.8 278.4h16.7M605.4 293.7h14.5M587.3 278.0h16.5M597.1 297.9h16.7M593.2 278.6h18.0M581.6 311.4h8.0M578.7 314.7h32.6M614.4 286.5h3.7M579.0 278.9h13.3M598.7 288.6h2.7M584.4 317.6h7.5M593.9 268.5h5.4M597.8 327.2h11.6M585.6 305.2h19.0M606.4 309.6h10.0M584.8 283.4h10.6M581.9 266.5h17.6"/><path class="g v" d="M601.6 255.5v6.7M595.5 271.4v3.5M605.3 260.2v7.2M603.6 275.5v1.3M591.5 309.0v7.5M590.4 269.5v4.6M599.2 298.0v7.9M592.3 278.4v7.8M598.0 280.6v7.6M588.0 284.4v5.6M593.5 265.4v5.0M619.5 283.5v2.3M588.9 283.9v8.1M606.1 269.9v6.3M589.8 279.7v5.6M606.0 277.4v3.5M615.3 289.4v6.4M608.0 271.7v2.1M602.0 275.9v4.7M612.0 292.5v2.9M593.8 276.5v3.5M605.3 294.9v5.4M606.2 275.4v7.5M587.5 309.1v3.2M592.2 313.8v1.5M617.0 285.8v1.6M585.0 272.3v15.4M600.7 287.3v2.1M587.3 315.4v5.0M597.4 266.6v3.1M602.4 324.2v4.0M593.5 302.4v6.8M614.0 307.4v4.6M589.1 282.5v2.1M589.1 265.3v1.8"/><path class="G h" d="M599.5 258.1h8.2M591.0 285.9h17.1M608.4 294.0h5.2M596.9 293.9h28.1M586.2 296.4h9.6M577.8 270.2h21.9M580.6 310.6h27.2M582.0 336.3h35.0M596.2 285.1h20.6M586.0 296.1h14.6M612.1 274.5h13.5M579.4 280.6h26.6"/><path class="G v" d="M603.3 255.4v5.8M599.3 284.5v3.3M610.5 292.5v2.2M614.6 291.1v5.6M592.1 294.6v4.7M583.7 269.5v1.0M592.6 309.9v1.3M597.3 335.1v2.0M604.7 283.2v3.6M591.9 294.5v3.6M617.4 272.9v2.8M588.9 279.8v1.6"/><path class="y h" d="M599.7 262.4h10.8M587.2 325.5h28.6M578.9 269.7h18.8M591.8 274.0h17.9M592.1 321.2h16.7M595.5 291.0h8.6M602.2 302.6h10.4M613.0 292.9h12.2M588.3 307.4h23.5M592.8 280.1h14.0M591.6 310.4h20.7M596.9 268.3h11.7M583.9 308.3h24.3M577.5 280.7h15.0M595.7 288.4h9.0M596.2 318.6h13.8M591.7 283.2h30.3M578.8 289.5h40.4M607.6 305.8h11.3M592.0 284.2h27.4M584.8 310.1h17.2M597.8 291.7h7.8M602.2 334.4h7.2M579.8 326.6h13.9M598.4 278.1h7.7"/><path class="y v" d="M606.9 260.8v4.1M598.0 324.0v3.0M587.1 268.9v1.5M600.0 272.4v2.5M599.7 316.6v12.1M598.7 289.7v3.4M608.4 295.6v14.0M619.8 290.9v3.2M600.7 304.7v5.4M598.8 278.5v3.7M599.6 308.2v4.9M604.3 266.5v4.3M597.8 307.5v1.2M583.2 280.1v1.6M601.9 286.0v5.9M605.4 318.1v0.9M603.6 282.3v2.3M589.9 288.8v1.6M612.0 304.5v2.1M602.3 276.9v18.3M596.6 308.1v3.0M601.5 290.0v3.3M606.0 333.7v1.2M589.2 326.0v1.0M601.4 276.5v2.4"/><path class="r h" d="M600.5 293.5h5.7M601.7 301.1h15.7M603.6 302.2h15.4M595.3 339.3h11.7M656.0 289.5h8.5M598.2 337.0h17.9M586.3 316.3h29.8M583.4 290.5h8.5M584.4 269.7h19.2M587.6 319.3h15.8M608.4 308.4h6.1M584.1 289.2h11.6M600.1 293.0h14.3"/><path class="r v" d="M604.6 292.1v2.8M608.7 298.9v3.2M611.5 301.1v2.9M601.6 338.4v1.5M660.1 286.0v7.0M606.7 333.2v8.5M597.7 312.9v6.4M588.5 288.3v3.8M593.0 267.4v5.9M597.8 317.6v3.5M612.0 307.6v1.7M589.7 285.5v5.7M608.8 291.1v4.6"/><path class="g h" d="M617.4 284.4h13.9M597.5 293.2h8.8M597.8 303.4h8.3M587.8 269.4h13.1M586.4 311.5h18.7"/><path class="g v" d="M625.3 282.8v2.4M602.3 291.4v3.7M602.1 302.4v1.4M597.5 266.7v4.9M599.2 309.8v3.5"/><path class="G h" d="M584.0 275.3h7.6M578.3 289.7h9.2M602.5 269.9h28.6M597.4 261.7h6.4M599.7 267.8h11.1M591.3 295.1h11.8M596.1 296.5h7.7M580.7 290.9h7.6M588.4 286.0h20.5M605.7 283.9h6.5M596.3 277.2h10.4M590.5 261.6h11.8M581.5 293.5h22.3"/><path class="G v" d="M589.4 274.2v2.2M584.2 287.8v2.9M614.6 268.7v2.8M601.4 260.5v3.1M605.6 266.8v1.8M597.8 293.0v2.7M600.6 294.7v4.4M584.6 285.6v12.0M597.0 284.7v2.2M610.6 282.3v2.9M603.1 274.2v4.8M599.0 259.4v5.3M589.8 290.8v7.1"/><path class="y h" d="M601.7 281.9h15.1M585.7 272.7h21.2M596.4 268.0h14.3M598.8 315.2h8.3M588.1 320.3h19.4M598.3 332.8h13.8M600.0 286.3h11.2M589.2 307.4h35.2M581.7 272.0h25.1M601.9 259.8h11.4M599.6 257.6h9.8M603.0 305.5h5.2M584.7 286.5h21.4M589.5 329.1h17.3M600.1 265.0h10.0M596.1 298.1h8.1M589.3 294.0h6.8M607.3 267.9h9.3M587.1 324.3h37.5M589.1 267.7h16.3M608.0 301.1h6.7M585.3 275.0h30.2M593.5 268.4h17.4M583.3 297.4h8.8M599.8 284.5h8.6M593.9 303.9h34.6M581.1 271.2h7.6M578.9 296.0h14.8M627.6 330.9h6.2M605.5 271.8h13.0M603.1 309.4h18.6"/><path class="y v" d="M609.0 280.0v3.9M601.0 271.5v2.1M601.7 264.1v7.3M602.9 312.7v4.2M595.8 318.3v2.9M606.3 331.3v3.3M608.2 285.3v2.4M603.0 305.4v4.6M591.8 271.2v1.7M606.2 257.2v4.3M606.2 255.6v2.8M605.8 302.2v5.4M593.6 282.8v6.2M601.1 326.6v5.8M604.3 258.0v9.4M599.9 297.1v1.9M592.4 291.6v5.1M614.2 264.5v6.0M602.8 323.7v1.0M597.0 262.8v8.9M611.7 299.6v3.3M596.5 272.7v3.7M601.7 267.0v2.9M588.4 293.6v5.0M605.4 283.1v2.4M608.1 302.4v3.7M584.9 268.8v6.0M586.8 295.1v1.5M630.6 329.7v2.6M611.5 271.3v0.8M610.3 307.8v3.7"/><path class="r h" d="M594.7 292.6h10.0M615.1 288.9h7.9M600.8 294.1h8.8M594.6 308.4h5.5M605.1 291.7h7.9M599.6 315.8h10.2M602.1 326.6h8.0M588.0 290.0h9.5M578.9 304.1h24.1M580.7 307.1h8.1M578.4 288.2h29.2M589.5 290.1h16.6M609.7 278.9h4.5M581.0 333.9h29.9M587.4 310.7h40.8M593.2 311.5h13.8M603.6 305.4h9.0M598.7 288.4h5.4M583.0 281.2h11.0M588.7 306.5h30.7M588.9 278.5h18.6M584.9 288.4h16.4M613.6 332.2h13.4M594.9 302.5h6.7M588.7 304.5h6.7M598.8 284.8h2.8M585.6 296.6h16.7M585.5 310.5h32.3M588.1 284.6h8.9M589.1 298.9h19.8M589.2 304.1h7.6M600.2 288.1h8.0M583.4 296.0h6.0M594.7 274.1h37.1M586.0 285.8h13.3M578.1 270.1h19.4M579.3 301.8h20.3"/><path class="r v" d="M601.7 292.0v1.6M618.6 286.7v3.0M604.9 292.3v2.4M597.4 306.4v5.1M610.7 290.6v1.4M605.6 314.8v2.6M606.6 325.7v1.7M595.1 288.5v3.8M587.4 302.8v2.9M584.6 304.0v5.0M592.8 286.2v4.2M598.3 288.6v2.3M611.8 277.6v2.4M597.4 332.3v4.1M610.5 308.3v5.8M599.9 308.8v7.0M609.1 302.3v6.8M602.0 286.5v4.4M588.3 279.6v2.5M603.8 303.3v5.8M598.6 277.2v1.8M591.5 284.5v8.9M620.6 331.7v0.9M598.6 300.9v4.2M593.1 302.5v4.3M600.3 282.7v4.2M594.7 292.5v5.6M602.9 309.1v3.5M594.1 281.0v7.1M602.0 296.8v3.2M594.1 297.9v12.1M603.8 287.7v1.1M587.6 292.4v9.8M608.5 272.3v3.1M592.7 284.4v3.2M586.1 268.7v2.1M588.4 298.6v7.9"/></g>
<g style="filter:grayscale(1)"><rect x="24.5" y="2.7" width="206.90" height="159.40" stroke="#858585" stroke-width="1.15" fill="none"/>
<path d="M113.04 162.10v-4.0M113.04 2.70v4.0M24.50 162.10v-2.2M24.50 2.70v2.2M45.66 162.10v-2.2M45.66 2.70v2.2M62.07 162.10v-2.2M62.07 2.70v2.2M75.47 162.10v-2.2M75.47 2.70v2.2M86.81 162.10v-2.2M86.81 2.70v2.2M96.63 162.10v-2.2M96.63 2.70v2.2M105.29 162.10v-2.2M105.29 2.70v2.2M164.02 162.10v-2.2M164.02 2.70v2.2M193.83 162.10v-2.2M193.83 2.70v2.2M214.99 162.10v-2.2M214.99 2.70v2.2M231.40 162.10v-2.2M231.40 2.70v2.2M24.50 130.38h4.0M231.40 130.38h-4.0M24.50 50.68h4.0M231.40 50.68h-4.0M24.50 162.10h2.2M231.40 162.10h-2.2M24.50 154.38h2.2M231.40 154.38h-2.2M24.50 148.07h2.2M231.40 148.07h-2.2M24.50 142.73h2.2M231.40 142.73h-2.2M24.50 138.11h2.2M231.40 138.11h-2.2M24.50 134.03h2.2M231.40 134.03h-2.2M24.50 106.39h2.2M231.40 106.39h-2.2M24.50 92.36h2.2M231.40 92.36h-2.2M24.50 82.40h2.2M231.40 82.40h-2.2M24.50 74.68h2.2M231.40 74.68h-2.2M24.50 68.37h2.2M231.40 68.37h-2.2M24.50 63.03h2.2M231.40 63.03h-2.2M24.50 58.41h2.2M231.40 58.41h-2.2M24.50 54.33h2.2M231.40 54.33h-2.2M24.50 26.69h2.2M231.40 26.69h-2.2M24.50 12.66h2.2M231.40 12.66h-2.2M24.50 2.70h2.2M231.40 2.70h-2.2" stroke="#555" stroke-width="0.9" fill="none"/>
<text x="113.04" y="169.10" font-size="6.6" text-anchor="middle">10000</text>
<text x="21.50" y="132.68" font-size="6.6" text-anchor="end">1</text>
<text x="21.50" y="52.98" font-size="6.6" text-anchor="end">10</text>
<text x="127.95" y="175.70" font-size="6.9" text-anchor="middle">Temperature (K)</text>
<text transform="translate(9.00 82.40) rotate(-90)" font-size="6.9" text-anchor="middle">Mass (solar mass)</text>
<text x="124.05" y="200.70" class="cap" font-size="16" text-anchor="middle">(a)</text>
<rect x="288.5" y="2.7" width="206.80" height="159.40" stroke="#858585" stroke-width="1.15" fill="none"/>
<path d="M377.00 162.10v-4.0M377.00 2.70v4.0M288.50 162.10v-2.2M288.50 2.70v2.2M309.65 162.10v-2.2M309.65 2.70v2.2M326.05 162.10v-2.2M326.05 2.70v2.2M339.45 162.10v-2.2M339.45 2.70v2.2M350.78 162.10v-2.2M350.78 2.70v2.2M360.60 162.10v-2.2M360.60 2.70v2.2M369.25 162.10v-2.2M369.25 2.70v2.2M427.95 162.10v-2.2M427.95 2.70v2.2M457.75 162.10v-2.2M457.75 2.70v2.2M478.90 162.10v-2.2M478.90 2.70v2.2M495.30 162.10v-2.2M495.30 2.70v2.2M288.50 153.71h4.0M495.30 153.71h-4.0M288.50 111.76h4.0M495.30 111.76h-4.0M288.50 69.82h4.0M495.30 69.82h-4.0M288.50 27.87h4.0M495.30 27.87h-4.0M288.50 162.10h2.2M495.30 162.10h-2.2M288.50 157.91h2.2M495.30 157.91h-2.2M288.50 149.52h2.2M495.30 149.52h-2.2M288.50 145.32h2.2M495.30 145.32h-2.2M288.50 141.13h2.2M495.30 141.13h-2.2M288.50 136.93h2.2M495.30 136.93h-2.2M288.50 132.74h2.2M495.30 132.74h-2.2M288.50 128.54h2.2M495.30 128.54h-2.2M288.50 124.35h2.2M495.30 124.35h-2.2M288.50 120.15h2.2M495.30 120.15h-2.2M288.50 115.96h2.2M495.30 115.96h-2.2M288.50 107.57h2.2M495.30 107.57h-2.2M288.50 103.37h2.2M495.30 103.37h-2.2M288.50 99.18h2.2M495.30 99.18h-2.2M288.50 94.98h2.2M495.30 94.98h-2.2M288.50 90.79h2.2M495.30 90.79h-2.2M288.50 86.59h2.2M495.30 86.59h-2.2M288.50 82.40h2.2M495.30 82.40h-2.2M288.50 78.21h2.2M495.30 78.21h-2.2M288.50 74.01h2.2M495.30 74.01h-2.2M288.50 65.62h2.2M495.30 65.62h-2.2M288.50 61.43h2.2M495.30 61.43h-2.2M288.50 57.23h2.2M495.30 57.23h-2.2M288.50 53.04h2.2M495.30 53.04h-2.2M288.50 48.84h2.2M495.30 48.84h-2.2M288.50 44.65h2.2M495.30 44.65h-2.2M288.50 40.45h2.2M495.30 40.45h-2.2M288.50 36.26h2.2M495.30 36.26h-2.2M288.50 32.06h2.2M495.30 32.06h-2.2M288.50 23.67h2.2M495.30 23.67h-2.2M288.50 19.48h2.2M495.30 19.48h-2.2M288.50 15.28h2.2M495.30 15.28h-2.2M288.50 11.09h2.2M495.30 11.09h-2.2M288.50 6.89h2.2M495.30 6.89h-2.2M288.50 2.70h2.2M495.30 2.70h-2.2" stroke="#555" stroke-width="0.9" fill="none"/>
<text x="377.00" y="169.10" font-size="6.6" text-anchor="middle">10000</text>
<text x="285.50" y="156.01" font-size="6.6" text-anchor="end">-2</text>
<text x="285.50" y="114.06" font-size="6.6" text-anchor="end">-1</text>
<text x="285.50" y="72.12" font-size="6.6" text-anchor="end">0</text>
<text x="285.50" y="30.17" font-size="6.6" text-anchor="end">1</text>
<text x="391.90" y="175.70" font-size="6.9" text-anchor="middle">Temperature (K)</text>
<text transform="translate(274.90 82.40) rotate(-90)" font-size="6.9" text-anchor="middle">[Fe/H]</text>
<text x="388.00" y="200.70" class="cap" font-size="16" text-anchor="middle">(b)</text>
<rect x="553.0" y="2.7" width="206.50" height="159.40" stroke="#858585" stroke-width="1.15" fill="none"/>
<path d="M641.37 162.10v-4.0M641.37 2.70v4.0M553.00 162.10v-2.2M553.00 2.70v2.2M574.12 162.10v-2.2M574.12 2.70v2.2M590.49 162.10v-2.2M590.49 2.70v2.2M603.88 162.10v-2.2M603.88 2.70v2.2M615.19 162.10v-2.2M615.19 2.70v2.2M624.99 162.10v-2.2M624.99 2.70v2.2M633.64 162.10v-2.2M633.64 2.70v2.2M692.25 162.10v-2.2M692.25 2.70v2.2M722.01 162.10v-2.2M722.01 2.70v2.2M743.12 162.10v-2.2M743.12 2.70v2.2M759.50 162.10v-2.2M759.50 2.70v2.2M553.00 135.65h4.0M759.50 135.65h-4.0M553.00 69.17h4.0M759.50 69.17h-4.0M553.00 2.70h4.0M759.50 2.70h-4.0M553.00 162.10h2.2M759.50 162.10h-2.2M553.00 155.66h2.2M759.50 155.66h-2.2M553.00 150.39h2.2M759.50 150.39h-2.2M553.00 145.94h2.2M759.50 145.94h-2.2M553.00 142.09h2.2M759.50 142.09h-2.2M553.00 138.69h2.2M759.50 138.69h-2.2M553.00 115.64h2.2M759.50 115.64h-2.2M553.00 103.93h2.2M759.50 103.93h-2.2M553.00 95.63h2.2M759.50 95.63h-2.2M553.00 89.18h2.2M759.50 89.18h-2.2M553.00 83.92h2.2M759.50 83.92h-2.2M553.00 79.47h2.2M759.50 79.47h-2.2M553.00 75.62h2.2M759.50 75.62h-2.2M553.00 72.22h2.2M759.50 72.22h-2.2M553.00 49.16h2.2M759.50 49.16h-2.2M553.00 37.46h2.2M759.50 37.46h-2.2M553.00 29.15h2.2M759.50 29.15h-2.2M553.00 22.71h2.2M759.50 22.71h-2.2M553.00 17.45h2.2M759.50 17.45h-2.2M553.00 13.00h2.2M759.50 13.00h-2.2M553.00 9.14h2.2M759.50 9.14h-2.2M553.00 5.74h2.2M759.50 5.74h-2.2" stroke="#555" stroke-width="0.9" fill="none"/>
<text x="641.37" y="169.10" font-size="6.6" text-anchor="middle">10000</text>
<text x="550.00" y="137.95" font-size="6.6" text-anchor="end">100</text>
<text x="550.00" y="71.47" font-size="6.6" text-anchor="end">1000</text>
<text x="550.00" y="5.00" font-size="6.6" text-anchor="end">10000</text>
<text x="656.25" y="175.70" font-size="6.9" text-anchor="middle">Temperature (K)</text>
<text transform="translate(526.30 82.40) rotate(-90)" font-size="6.9" text-anchor="middle">Distance from the the sun (pc)</text>
<text x="652.35" y="200.70" class="cap" font-size="16" text-anchor="middle">(c)</text>
<rect x="24.5" y="223.8" width="206.90" height="159.10" stroke="#858585" stroke-width="1.15" fill="none"/>
<path d="M65.67 382.90v-4.0M65.67 223.80v4.0M169.12 382.90v-4.0M169.12 223.80v4.0M24.50 382.90v-2.2M24.50 223.80v2.2M34.53 382.90v-2.2M34.53 223.80v2.2M42.72 382.90v-2.2M42.72 223.80v2.2M49.64 382.90v-2.2M49.64 223.80v2.2M55.64 382.90v-2.2M55.64 223.80v2.2M60.93 382.90v-2.2M60.93 223.80v2.2M96.81 382.90v-2.2M96.81 223.80v2.2M115.03 382.90v-2.2M115.03 223.80v2.2M127.95 382.90v-2.2M127.95 223.80v2.2M137.98 382.90v-2.2M137.98 223.80v2.2M146.17 382.90v-2.2M146.17 223.80v2.2M153.09 382.90v-2.2M153.09 223.80v2.2M159.09 382.90v-2.2M159.09 223.80v2.2M164.38 382.90v-2.2M164.38 223.80v2.2M200.26 382.90v-2.2M200.26 223.80v2.2M218.48 382.90v-2.2M218.48 223.80v2.2M231.40 382.90v-2.2M231.40 223.80v2.2M24.50 356.50h4.0M231.40 356.50h-4.0M24.50 290.15h4.0M231.40 290.15h-4.0M24.50 223.80h4.0M231.40 223.80h-4.0M24.50 382.90h2.2M231.40 382.90h-2.2M24.50 376.47h2.2M231.40 376.47h-2.2M24.50 371.22h2.2M231.40 371.22h-2.2M24.50 366.77h2.2M231.40 366.77h-2.2M24.50 362.93h2.2M231.40 362.93h-2.2M24.50 359.53h2.2M231.40 359.53h-2.2M24.50 336.52h2.2M231.40 336.52h-2.2M24.50 324.84h2.2M231.40 324.84h-2.2M24.50 316.55h2.2M231.40 316.55h-2.2M24.50 310.12h2.2M231.40 310.12h-2.2M24.50 304.87h2.2M231.40 304.87h-2.2M24.50 300.43h2.2M231.40 300.43h-2.2M24.50 296.58h2.2M231.40 296.58h-2.2M24.50 293.18h2.2M231.40 293.18h-2.2M24.50 270.18h2.2M231.40 270.18h-2.2M24.50 258.49h2.2M231.40 258.49h-2.2M24.50 250.20h2.2M231.40 250.20h-2.2M24.50 243.77h2.2M231.40 243.77h-2.2M24.50 238.52h2.2M231.40 238.52h-2.2M24.50 234.08h2.2M231.40 234.08h-2.2M24.50 230.23h2.2M231.40 230.23h-2.2M24.50 226.84h2.2M231.40 226.84h-2.2" stroke="#555" stroke-width="0.9" fill="none"/>
<text x="65.67" y="389.90" font-size="6.6" text-anchor="middle">1</text>
<text x="169.12" y="389.90" font-size="6.6" text-anchor="middle">10</text>
<text x="21.50" y="358.80" font-size="6.6" text-anchor="end">1</text>
<text x="21.50" y="292.45" font-size="6.6" text-anchor="end">10</text>
<text x="21.50" y="226.10" font-size="6.6" text-anchor="end">100</text>
<text x="127.95" y="396.50" font-size="6.9" text-anchor="middle">Mass (solar mass)</text>
<text transform="translate(5.30 303.35) rotate(-90)" font-size="6.9" text-anchor="middle">Radius (solar radius)</text>
<text x="124.05" y="421.50" class="cap" font-size="16" text-anchor="middle">(d)</text>
<rect x="288.5" y="223.8" width="206.80" height="159.10" stroke="#858585" stroke-width="1.15" fill="none"/>
<path d="M329.65 382.90v-4.0M329.65 223.80v4.0M433.05 382.90v-4.0M433.05 223.80v4.0M288.50 382.90v-2.2M288.50 223.80v2.2M298.52 382.90v-2.2M298.52 223.80v2.2M306.71 382.90v-2.2M306.71 223.80v2.2M313.63 382.90v-2.2M313.63 223.80v2.2M319.63 382.90v-2.2M319.63 223.80v2.2M324.92 382.90v-2.2M324.92 223.80v2.2M360.77 382.90v-2.2M360.77 223.80v2.2M378.98 382.90v-2.2M378.98 223.80v2.2M391.90 382.90v-2.2M391.90 223.80v2.2M401.92 382.90v-2.2M401.92 223.80v2.2M410.11 382.90v-2.2M410.11 223.80v2.2M417.03 382.90v-2.2M417.03 223.80v2.2M423.03 382.90v-2.2M423.03 223.80v2.2M428.32 382.90v-2.2M428.32 223.80v2.2M464.17 382.90v-2.2M464.17 223.80v2.2M482.38 382.90v-2.2M482.38 223.80v2.2M495.30 382.90v-2.2M495.30 223.80v2.2M288.50 374.53h4.0M495.30 374.53h-4.0M288.50 332.66h4.0M495.30 332.66h-4.0M288.50 290.79h4.0M495.30 290.79h-4.0M288.50 248.92h4.0M495.30 248.92h-4.0M288.50 382.90h2.2M495.30 382.90h-2.2M288.50 378.71h2.2M495.30 378.71h-2.2M288.50 370.34h2.2M495.30 370.34h-2.2M288.50 366.15h2.2M495.30 366.15h-2.2M288.50 361.97h2.2M495.30 361.97h-2.2M288.50 357.78h2.2M495.30 357.78h-2.2M288.50 353.59h2.2M495.30 353.59h-2.2M288.50 349.41h2.2M495.30 349.41h-2.2M288.50 345.22h2.2M495.30 345.22h-2.2M288.50 341.03h2.2M495.30 341.03h-2.2M288.50 336.84h2.2M495.30 336.84h-2.2M288.50 328.47h2.2M495.30 328.47h-2.2M288.50 324.28h2.2M495.30 324.28h-2.2M288.50 320.10h2.2M495.30 320.10h-2.2M288.50 315.91h2.2M495.30 315.91h-2.2M288.50 311.72h2.2M495.30 311.72h-2.2M288.50 307.54h2.2M495.30 307.54h-2.2M288.50 303.35h2.2M495.30 303.35h-2.2M288.50 299.16h2.2M495.30 299.16h-2.2M288.50 294.98h2.2M495.30 294.98h-2.2M288.50 286.60h2.2M495.30 286.60h-2.2M288.50 282.42h2.2M495.30 282.42h-2.2M288.50 278.23h2.2M495.30 278.23h-2.2M288.50 274.04h2.2M495.30 274.04h-2.2M288.50 269.86h2.2M495.30 269.86h-2.2M288.50 265.67h2.2M495.30 265.67h-2.2M288.50 261.48h2.2M495.30 261.48h-2.2M288.50 257.29h2.2M495.30 257.29h-2.2M288.50 253.11h2.2M495.30 253.11h-2.2M288.50 244.73h2.2M495.30 244.73h-2.2M288.50 240.55h2.2M495.30 240.55h-2.2M288.50 236.36h2.2M495.30 236.36h-2.2M288.50 232.17h2.2M495.30 232.17h-2.2M288.50 227.99h2.2M495.30 227.99h-2.2M288.50 223.80h2.2M495.30 223.80h-2.2" stroke="#555" stroke-width="0.9" fill="none"/>
<text x="329.65" y="389.90" font-size="6.6" text-anchor="middle">1</text>
<text x="433.05" y="389.90" font-size="6.6" text-anchor="middle">10</text>
<text x="285.50" y="376.83" font-size="6.6" text-anchor="end">-2</text>
<text x="285.50" y="334.96" font-size="6.6" text-anchor="end">-1</text>
<text x="285.50" y="293.09" font-size="6.6" text-anchor="end">0</text>
<text x="285.50" y="251.22" font-size="6.6" text-anchor="end">1</text>
<text x="391.90" y="396.50" font-size="6.9" text-anchor="middle">Mass (solar mass)</text>
<text transform="translate(274.50 303.35) rotate(-90)" font-size="6.9" text-anchor="middle">[Fe/H]</text>
<text x="388.00" y="421.50" class="cap" font-size="16" text-anchor="middle">(e)</text>
<rect x="553.0" y="223.8" width="206.50" height="159.10" stroke="#858585" stroke-width="1.15" fill="none"/>
<path d="M594.09 382.90v-4.0M594.09 223.80v4.0M697.34 382.90v-4.0M697.34 223.80v4.0M553.00 382.90v-2.2M553.00 223.80v2.2M563.01 382.90v-2.2M563.01 223.80v2.2M571.18 382.90v-2.2M571.18 223.80v2.2M578.09 382.90v-2.2M578.09 223.80v2.2M584.08 382.90v-2.2M584.08 223.80v2.2M589.36 382.90v-2.2M589.36 223.80v2.2M625.17 382.90v-2.2M625.17 223.80v2.2M643.35 382.90v-2.2M643.35 223.80v2.2M656.25 382.90v-2.2M656.25 223.80v2.2M666.26 382.90v-2.2M666.26 223.80v2.2M674.43 382.90v-2.2M674.43 223.80v2.2M681.34 382.90v-2.2M681.34 223.80v2.2M687.33 382.90v-2.2M687.33 223.80v2.2M692.61 382.90v-2.2M692.61 223.80v2.2M728.42 382.90v-2.2M728.42 223.80v2.2M746.60 382.90v-2.2M746.60 223.80v2.2M759.50 382.90v-2.2M759.50 223.80v2.2M553.00 356.50h4.0M759.50 356.50h-4.0M553.00 290.15h4.0M759.50 290.15h-4.0M553.00 223.80h4.0M759.50 223.80h-4.0M553.00 382.90h2.2M759.50 382.90h-2.2M553.00 376.47h2.2M759.50 376.47h-2.2M553.00 371.22h2.2M759.50 371.22h-2.2M553.00 366.77h2.2M759.50 366.77h-2.2M553.00 362.93h2.2M759.50 362.93h-2.2M553.00 359.53h2.2M759.50 359.53h-2.2M553.00 336.52h2.2M759.50 336.52h-2.2M553.00 324.84h2.2M759.50 324.84h-2.2M553.00 316.55h2.2M759.50 316.55h-2.2M553.00 310.12h2.2M759.50 310.12h-2.2M553.00 304.87h2.2M759.50 304.87h-2.2M553.00 300.43h2.2M759.50 300.43h-2.2M553.00 296.58h2.2M759.50 296.58h-2.2M553.00 293.18h2.2M759.50 293.18h-2.2M553.00 270.18h2.2M759.50 270.18h-2.2M553.00 258.49h2.2M759.50 258.49h-2.2M553.00 250.20h2.2M759.50 250.20h-2.2M553.00 243.77h2.2M759.50 243.77h-2.2M553.00 238.52h2.2M759.50 238.52h-2.2M553.00 234.08h2.2M759.50 234.08h-2.2M553.00 230.23h2.2M759.50 230.23h-2.2M553.00 226.84h2.2M759.50 226.84h-2.2" stroke="#555" stroke-width="0.9" fill="none"/>
<text x="594.09" y="389.90" font-size="6.6" text-anchor="middle">1</text>
<text x="697.34" y="389.90" font-size="6.6" text-anchor="middle">10</text>
<text x="550.00" y="358.80" font-size="6.6" text-anchor="end">100</text>
<text x="550.00" y="292.45" font-size="6.6" text-anchor="end">1000</text>
<text x="550.00" y="226.10" font-size="6.6" text-anchor="end">10000</text>
<text x="656.25" y="396.50" font-size="6.9" text-anchor="middle">Mass (solar mass)</text>
<text transform="translate(526.30 303.35) rotate(-90)" font-size="6.9" text-anchor="middle">Distance from the the sun (pc)</text>
<text x="652.35" y="421.50" class="cap" font-size="16" text-anchor="middle">(f)</text>
<path d="M91.88 2.70V162.10" stroke="#808080" stroke-width="1.3"/>
<path d="M355.85 2.70V162.10" stroke="#808080" stroke-width="1.3"/>
<path d="M620.25 2.70V162.10" stroke="#505050" stroke-width="0.9"/>
<text x="92.28" y="18.8" font-size="6.8">7500 K</text>
<text x="356.25" y="15.1" font-size="6.8">7500 K</text>
<text x="620.65" y="150.1" font-size="6.8">7500 K</text>
<path d="M317.8 382.9L495.3 261.0" stroke="#404040" stroke-width="1.1"/></g>
</svg></body></html>
